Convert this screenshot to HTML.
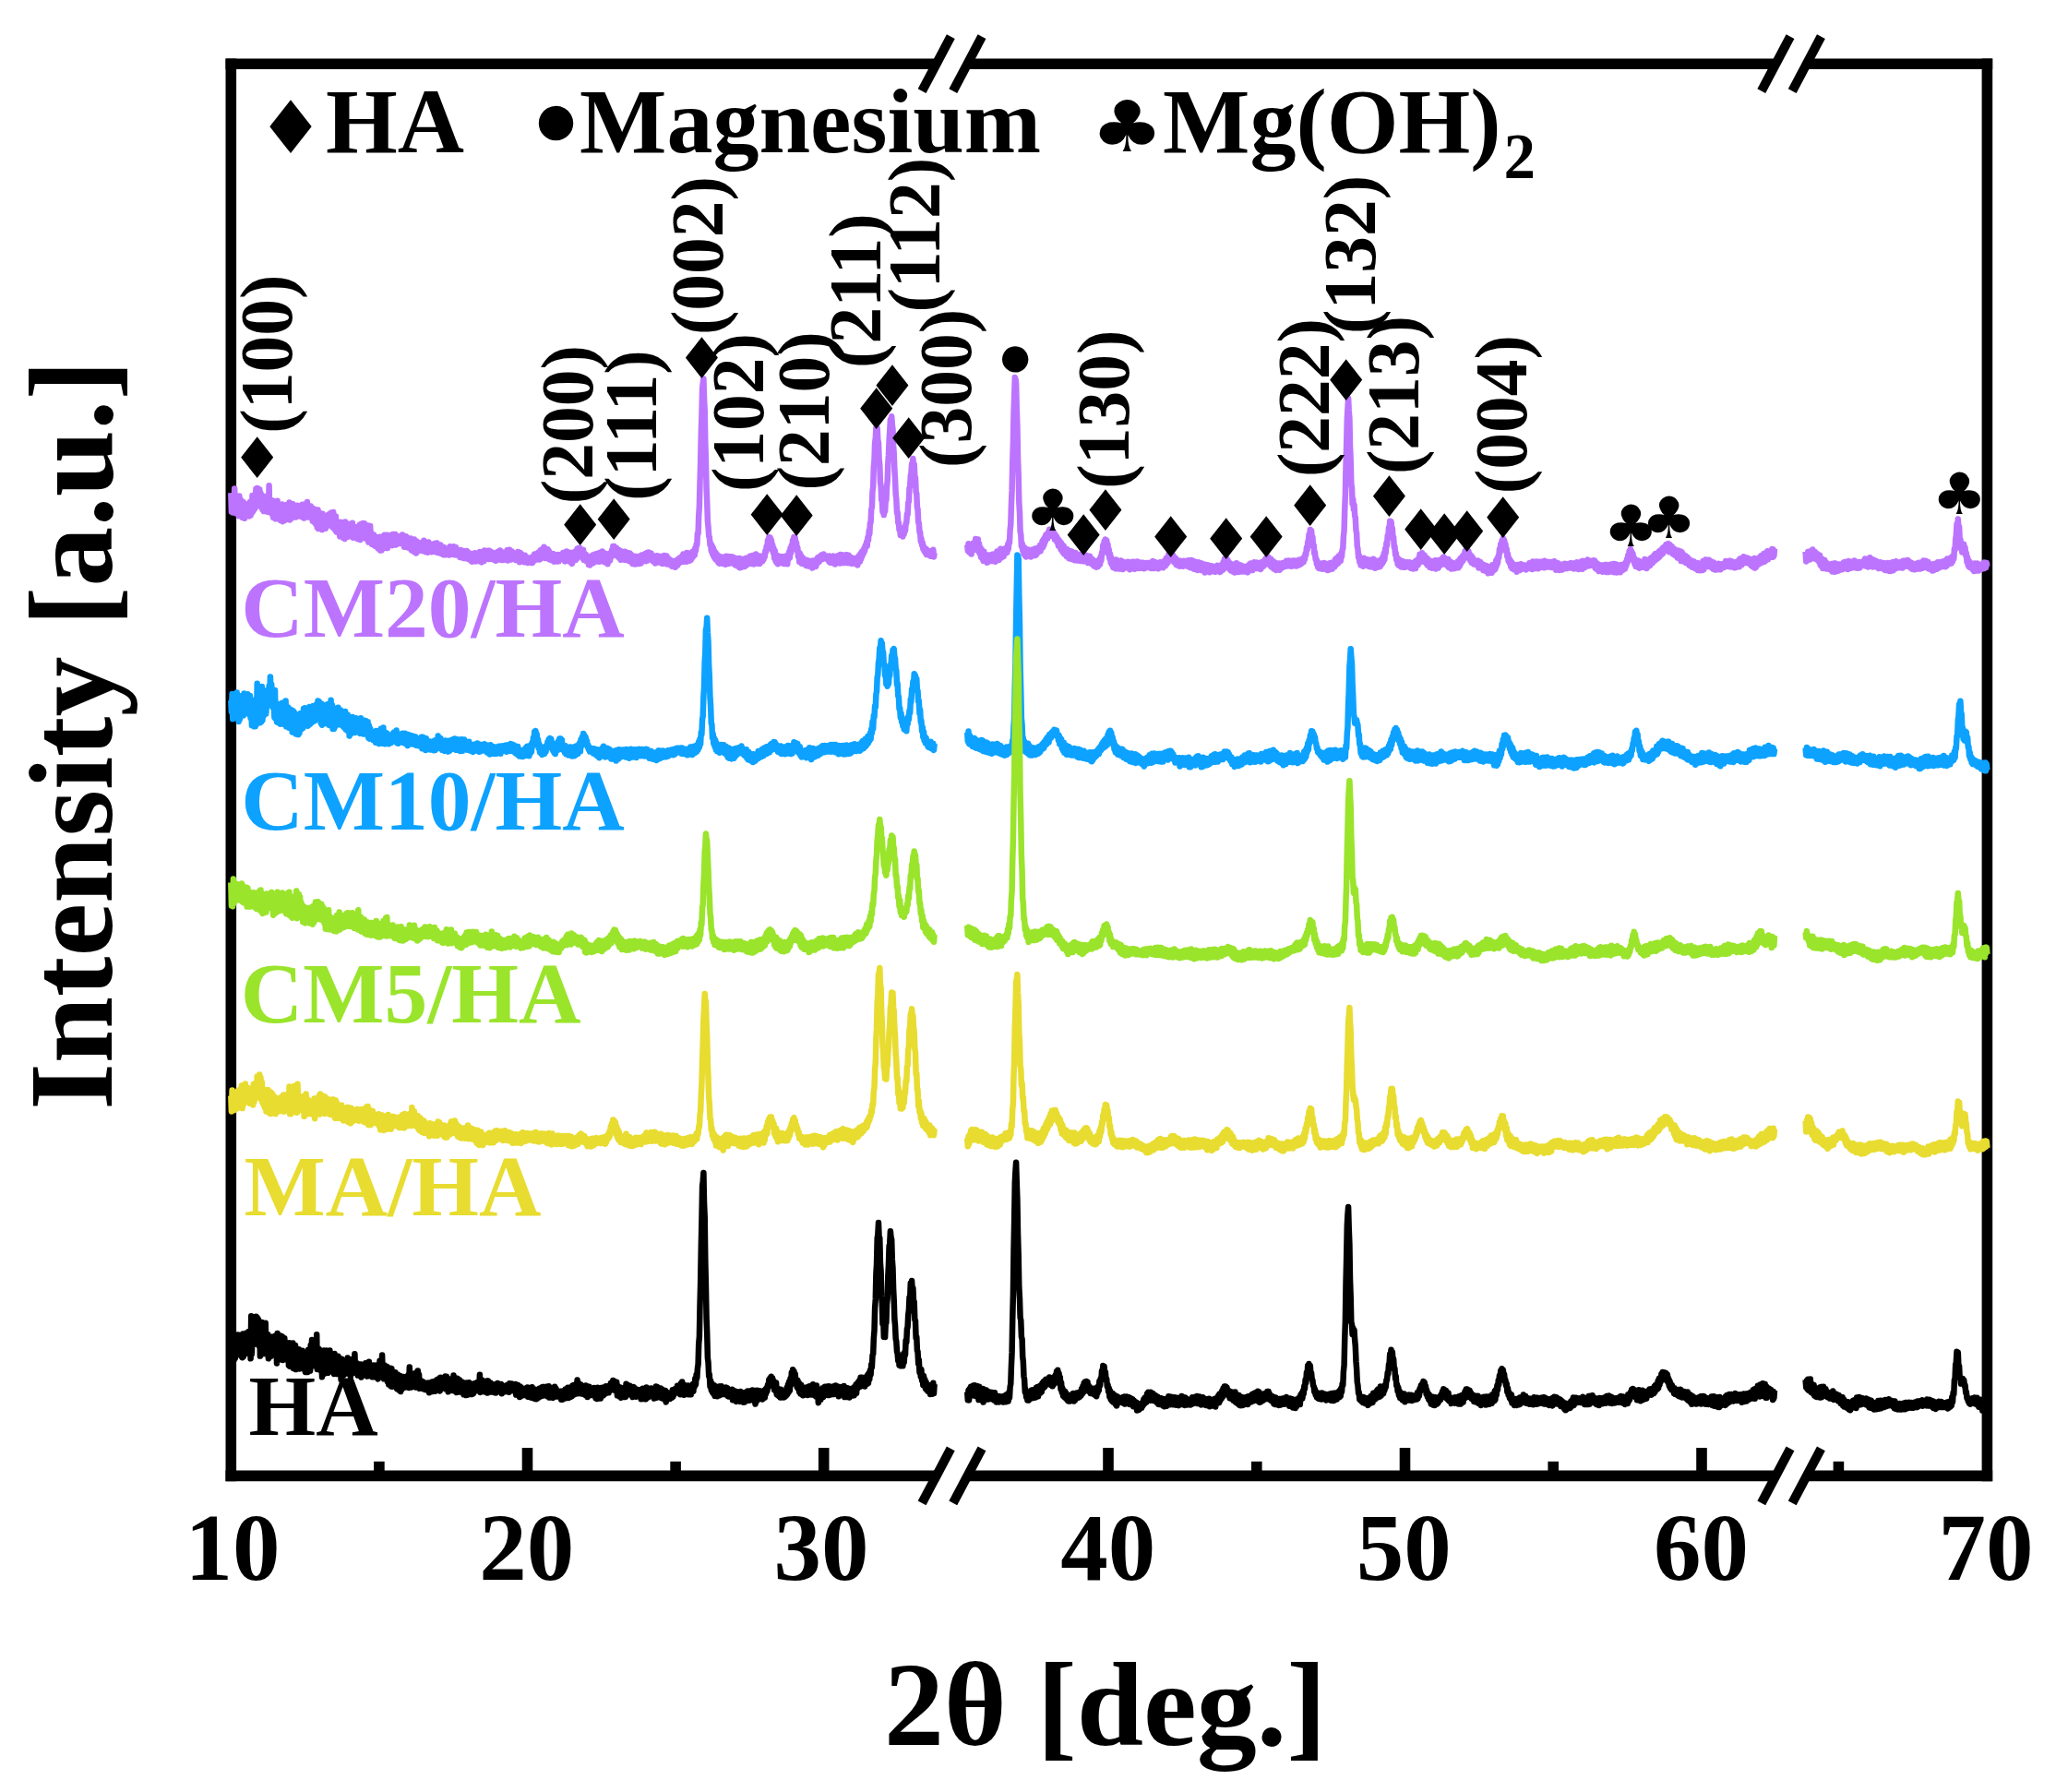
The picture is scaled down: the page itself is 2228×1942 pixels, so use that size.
<!DOCTYPE html>
<html lang="en">
<head>
<meta charset="utf-8">
<title>XRD patterns</title>
<style>html,body{margin:0;padding:0;background:#fff}svg{display:block}</style>
</head>
<body>
<svg width="2228" height="1942" viewBox="0 0 2228 1942">
<rect x="0" y="0" width="2228" height="1942" fill="#ffffff"/>
<g stroke="#000" stroke-width="11.6" fill="none" stroke-linecap="butt">
<line x1="244.5" y1="69.2" x2="1014.7" y2="69.2"/><line x1="1048.4" y1="69.2" x2="1924.4" y2="69.2"/><line x1="1957.8" y1="69.2" x2="2159.2" y2="69.2"/>
<line x1="244.5" y1="1599.4" x2="1014.7" y2="1599.4"/><line x1="1048.4" y1="1599.4" x2="1924.4" y2="1599.4"/><line x1="1957.8" y1="1599.4" x2="2159.2" y2="1599.4"/>
<line x1="250.3" y1="63.4" x2="250.3" y2="1605.2"/>
<line x1="2153.4" y1="63.4" x2="2153.4" y2="1605.2"/>
<line x1="571.5" y1="1599.4" x2="571.5" y2="1569.0"/>
<line x1="892.7" y1="1599.4" x2="892.7" y2="1569.0"/>
<line x1="1201.0" y1="1599.4" x2="1201.0" y2="1569.0"/>
<line x1="1522.5" y1="1599.4" x2="1522.5" y2="1569.0"/>
<line x1="1844.0" y1="1599.4" x2="1844.0" y2="1569.0"/>
<line x1="410.9" y1="1599.4" x2="410.9" y2="1583.8"/>
<line x1="732.1" y1="1599.4" x2="732.1" y2="1583.8"/>
<line x1="1361.8" y1="1599.4" x2="1361.8" y2="1583.8"/>
<line x1="1683.2" y1="1599.4" x2="1683.2" y2="1583.8"/>
<line x1="1992.4" y1="1599.4" x2="1992.4" y2="1583.8"/>
</g>
<g stroke="#000" stroke-width="10" fill="none" stroke-linecap="butt">
<line x1="999.1" y1="98.7" x2="1030.3" y2="39.7"/>
<line x1="1032.8" y1="98.7" x2="1064.0" y2="39.7"/>
<line x1="1908.8" y1="98.7" x2="1940.0" y2="39.7"/>
<line x1="1942.2" y1="98.7" x2="1973.4" y2="39.7"/>
<line x1="999.1" y1="1628.9" x2="1030.3" y2="1569.9"/>
<line x1="1032.8" y1="1628.9" x2="1064.0" y2="1569.9"/>
<line x1="1908.8" y1="1628.9" x2="1940.0" y2="1569.9"/>
<line x1="1942.2" y1="1628.9" x2="1973.4" y2="1569.9"/>
</g>
<path d="M250.3,534.2 250.9,554.7 251.6,537.0 252.2,555.4 252.9,537.9 253.5,555.2 254.2,529.5 254.8,554.5 255.5,539.7 256.1,556.3 256.7,539.9 257.4,556.3 258.0,540.1 258.7,559.2 259.3,537.5 260.0,559.0 260.6,541.2 261.3,557.4 261.9,543.4 262.6,560.8 263.2,543.8 263.8,560.5 264.5,545.3 265.1,561.8 265.8,547.8 266.4,558.2 267.1,547.4 267.7,558.7 268.4,548.3 269.0,556.4 269.6,546.1 270.3,559.4 270.9,544.1 271.6,558.6 272.2,546.9 272.9,555.9 273.5,537.1 274.2,554.0 274.8,541.0 275.5,552.2 276.1,538.2 276.7,550.4 277.4,529.8 278.0,545.8 278.7,529.1 279.3,541.3 280.0,529.7 280.6,546.1 281.3,530.6 281.9,547.6 282.5,534.5 283.2,549.9 283.8,536.9 284.5,552.3 285.1,537.4 285.8,554.0 286.4,538.8 287.1,551.7 287.7,538.5 288.4,551.9 289.0,541.0 289.6,554.6 290.3,537.7 290.9,555.0 291.6,526.3 292.2,553.1 292.9,541.2 293.5,555.6 294.2,545.3 294.8,557.0 295.4,542.5 296.1,560.9 296.7,547.1 297.4,559.2 298.0,544.3 298.7,562.3 299.3,546.5 300.0,559.5 300.6,542.8 301.2,561.9 301.9,548.2 302.5,561.8 303.2,547.9 303.8,564.0 304.5,552.2 305.1,563.7 305.8,546.4 306.4,565.2 307.1,551.5 307.7,564.4 308.3,549.9 309.0,563.7 309.6,547.3 310.3,561.0 310.9,548.1 311.6,560.3 312.2,546.7 312.9,560.7 313.5,544.5 314.1,563.4 314.8,547.4 315.4,562.0 316.1,547.1 316.7,557.9 317.4,546.3 318.0,560.6 318.7,551.1 319.3,558.2 320.0,547.9 320.6,560.6 321.2,550.1 321.9,558.9 322.5,547.7 323.2,559.4 323.8,549.5 324.5,559.3 325.1,548.4 325.8,559.0 326.4,548.8 327.0,560.0 327.7,546.7 328.3,560.6 329.0,546.8 329.6,561.6 330.3,546.8 330.9,559.1 331.6,547.3 332.2,559.9 332.9,544.0 333.5,560.6 334.1,551.1 334.8,560.5 335.4,551.2 336.1,558.9 336.7,548.6 337.4,560.4 338.0,550.8 338.7,564.5 339.3,551.0 339.9,564.8 340.6,552.9 341.2,566.5 341.9,552.3 342.5,568.4 343.2,552.8 343.8,571.7 344.5,552.6 345.1,573.1 345.7,555.3 346.4,573.1 347.0,556.3 347.7,572.3 348.3,557.9 349.0,574.1 349.6,556.8 350.3,572.7 350.9,559.2 351.6,570.8 352.2,561.7 352.8,572.7 353.5,561.2 354.1,569.5 354.8,559.3 355.4,568.4 356.1,557.6 356.7,569.4 357.4,557.8 358.0,568.9 358.6,555.8 359.3,569.8 359.9,557.8 360.6,571.7 361.2,555.1 361.9,572.7 362.5,559.2 363.2,574.3 363.8,559.5 364.5,576.4 365.1,567.5 365.7,575.6 366.4,567.1 367.0,577.5 367.7,565.8 368.3,581.4 369.0,567.9 369.6,580.6 370.3,566.1 370.9,581.6 371.5,567.4 372.2,583.2 372.8,567.5 373.5,583.9 374.1,565.6 374.8,580.8 375.4,568.1 376.1,582.1 376.7,569.8 377.4,581.7 378.0,567.8 378.6,579.7 379.3,570.8 379.9,579.1 380.6,567.9 381.2,580.3 381.9,566.7 382.5,582.7 383.2,573.8 383.8,581.8 384.4,574.9 385.1,581.9 385.7,572.4 386.4,583.4 387.0,571.0 387.7,584.1 388.3,571.1 389.0,584.1 389.6,568.9 390.2,585.0 390.9,568.1 391.5,581.2 392.2,567.5 392.8,581.3 393.5,567.1 394.1,581.1 394.8,567.2 395.4,583.5 396.1,569.1 396.7,583.0 397.3,570.1 398.0,583.9 398.6,569.4 399.3,587.5 399.9,574.1 400.6,584.7 401.2,570.0 401.9,588.4 402.5,577.8 403.1,589.8 403.8,580.0 404.4,587.9 405.1,579.5 405.7,591.0 406.4,583.9 407.0,592.0 407.7,584.0 408.3,590.2 409.0,582.3 409.6,594.4 410.2,584.6 410.9,592.9 411.5,581.8 412.2,596.5 412.8,583.5 413.5,596.4 414.1,585.5 414.8,594.6 415.4,581.1 416.0,594.0 416.7,579.7 417.3,590.3 418.0,581.0 418.6,589.2 419.3,579.7 419.9,594.1 420.6,581.0 421.2,590.5 421.8,580.2 422.5,590.7 423.1,579.9 423.8,588.3 424.4,581.4 425.1,591.2 425.7,579.1 426.4,589.4 427.0,584.4 427.7,590.3 428.3,579.1 428.9,590.5 429.6,581.7 430.2,589.8 430.9,581.1 431.5,588.9 432.2,581.4 432.8,587.6 433.5,582.6 434.1,589.0 434.7,581.6 435.4,588.9 436.0,579.4 436.7,587.1 437.3,580.8 438.0,592.7 438.6,583.6 439.3,591.3 439.9,581.2 440.6,591.5 441.2,582.6 441.8,593.2 442.5,584.0 443.1,593.8 443.8,585.2 444.4,591.6 445.1,583.5 445.7,596.2 446.4,587.3 447.0,596.9 447.6,586.8 448.3,597.7 448.9,584.5 449.6,596.4 450.2,588.3 450.9,599.6 451.5,586.5 452.2,598.1 452.8,588.2 453.5,597.1 454.1,590.0 454.7,596.4 455.4,589.8 456.0,596.5 456.7,587.9 457.3,596.9 458.0,587.8 458.6,595.2 459.3,585.7 459.9,595.4 460.5,588.0 461.2,598.2 461.8,587.6 462.5,595.6 463.1,588.1 463.8,598.7 464.4,587.5 465.1,596.7 465.7,590.4 466.3,596.8 467.0,590.6 467.6,598.3 468.3,590.1 468.9,597.2 469.6,590.8 470.2,596.5 470.9,589.0 471.5,598.1 472.2,589.3 472.8,597.2 473.4,588.4 474.1,599.1 474.7,590.5 475.4,598.3 476.0,590.3 476.7,597.9 477.3,590.6 478.0,600.0 478.6,593.8 479.2,599.9 479.9,592.7 480.5,601.3 481.2,593.0 481.8,599.5 482.5,594.5 483.1,601.2 483.8,596.0 484.4,601.0 485.1,594.5 485.7,600.8 486.3,596.7 487.0,601.5 487.6,592.3 488.3,600.9 488.9,593.9 489.6,600.8 490.2,593.7 490.9,600.4 491.5,592.2 492.1,601.2 492.8,592.9 493.4,599.4 494.1,592.9 494.7,601.5 495.4,596.4 496.0,601.3 496.7,596.4 497.3,601.9 498.0,596.5 498.6,604.1 499.2,596.1 499.9,603.9 500.5,598.0 501.2,604.5 501.8,596.9 502.5,604.9 503.1,597.4 503.8,604.4 504.4,598.2 505.0,604.5 505.7,597.1 506.3,605.5 507.0,598.1 507.6,605.9 508.3,600.1 508.9,604.6 509.6,599.9 510.2,607.5 510.8,600.1 511.5,608.8 512.1,601.4 512.8,606.4 513.4,601.7 514.1,607.5 514.7,599.2 515.4,608.5 516.0,602.5 516.7,606.9 517.3,602.5 517.9,608.1 518.6,601.9 519.2,607.1 519.9,597.9 520.5,607.6 521.2,600.4 521.8,609.4 522.5,598.9 523.1,608.6 523.7,598.7 524.4,608.0 525.0,596.6 525.7,605.8 526.3,598.1 527.0,605.3 527.6,598.1 528.3,604.8 528.9,596.7 529.6,606.1 530.2,596.8 530.8,604.5 531.5,599.1 532.1,605.8 532.8,598.2 533.4,605.8 534.1,598.8 534.7,606.5 535.4,599.6 536.0,605.1 536.6,600.0 537.3,607.7 537.9,599.7 538.6,606.1 539.2,598.0 539.9,606.6 540.5,599.6 541.2,604.9 541.8,596.6 542.5,605.8 543.1,597.8 543.7,607.0 544.4,599.3 545.0,606.9 545.7,600.3 546.3,606.7 547.0,598.8 547.6,605.7 548.3,598.5 548.9,606.3 549.5,596.2 550.2,607.5 550.8,597.7 551.5,605.2 552.1,595.8 552.8,604.3 553.4,597.3 554.1,606.4 554.7,597.4 555.3,605.5 556.0,599.1 556.6,605.2 557.3,600.2 557.9,605.8 558.6,600.5 559.2,607.1 559.9,599.5 560.5,607.3 561.2,598.1 561.8,607.1 562.4,598.6 563.1,609.2 563.7,599.1 564.4,606.0 565.0,600.3 565.7,607.2 566.3,602.0 567.0,607.2 567.6,602.2 568.2,609.2 568.9,601.8 569.5,608.3 570.2,603.1 570.8,609.4 571.5,605.3 572.1,610.1 572.8,605.4 573.4,608.6 574.1,604.9 574.7,608.2 575.3,605.3 576.0,609.9 576.6,603.5 577.3,609.9 577.9,603.8 578.6,607.7 579.2,600.4 579.9,606.5 580.5,600.7 581.1,606.4 581.8,600.7 582.4,606.4 583.1,598.8 583.7,604.9 584.4,598.7 585.0,606.4 585.7,596.2 586.3,603.4 587.0,595.6 587.6,602.8 588.2,596.7 588.9,602.3 589.5,592.8 590.2,604.9 590.8,594.4 591.5,604.4 592.1,595.8 592.8,604.9 593.4,595.3 594.0,604.7 594.7,596.7 595.3,606.4 596.0,599.9 596.6,605.8 597.3,599.5 597.9,607.2 598.6,601.5 599.2,607.8 599.8,600.3 600.5,608.7 601.1,602.5 601.8,607.4 602.4,601.5 603.1,605.9 603.7,601.3 604.4,608.6 605.0,600.9 605.7,608.2 606.3,602.2 606.9,605.9 607.6,601.3 608.2,605.9 608.9,600.6 609.5,605.8 610.2,599.1 610.8,605.7 611.5,598.7 612.1,608.4 612.7,598.7 613.4,606.6 614.0,597.6 614.7,607.7 615.3,598.5 616.0,608.2 616.6,599.6 617.3,608.2 617.9,598.8 618.6,609.2 619.2,599.9 619.8,610.9 620.5,599.2 621.1,608.3 621.8,598.7 622.4,607.3 623.1,597.7 623.7,607.1 624.4,596.9 625.0,605.5 625.6,594.7 626.3,603.4 626.9,594.0 627.6,601.5 628.2,593.7 628.9,602.9 629.5,596.9 630.2,602.9 630.8,595.6 631.5,605.0 632.1,596.1 632.7,606.8 633.4,600.2 634.0,606.0 634.7,600.5 635.3,608.1 636.0,602.4 636.6,609.0 637.3,604.5 637.9,612.0 638.5,603.6 639.2,612.5 639.8,602.9 640.5,610.4 641.1,603.6 641.8,610.6 642.4,601.5 643.1,610.1 643.7,602.6 644.3,607.8 645.0,600.6 645.6,608.4 646.3,600.3 646.9,606.7 647.6,599.8 648.2,608.4 648.9,599.8 649.5,608.8 650.2,598.8 650.8,606.3 651.4,599.3 652.1,607.3 652.7,597.5 653.4,607.5 654.0,599.0 654.7,608.9 655.3,599.7 656.0,609.6 656.6,599.9 657.2,608.9 657.9,601.0 658.5,611.2 659.2,602.5 659.8,608.2 660.5,600.7 661.1,607.4 661.8,599.0 662.4,603.6 663.1,596.0 663.7,601.5 664.3,591.9 665.0,599.4 665.6,592.1 666.3,597.8 666.9,593.6 667.6,602.1 668.2,594.0 668.9,602.4 669.5,597.2 670.1,603.8 670.8,596.1 671.4,605.0 672.1,597.0 672.7,606.8 673.4,597.5 674.0,606.2 674.7,599.7 675.3,605.1 675.9,599.4 676.6,606.7 677.2,597.8 677.9,605.7 678.5,599.1 679.2,607.1 679.8,599.0 680.5,606.9 681.1,600.5 681.8,607.9 682.4,599.5 683.0,608.5 683.7,600.8 684.3,609.5 685.0,602.5 685.6,611.0 686.3,603.3 686.9,611.3 687.6,602.8 688.2,611.4 688.8,603.5 689.5,611.3 690.1,604.1 690.8,611.0 691.4,603.0 692.1,611.1 692.7,604.3 693.4,608.7 694.0,602.7 694.7,610.4 695.3,601.5 695.9,606.4 696.6,602.0 697.2,607.0 697.9,601.4 698.5,606.0 699.2,600.1 699.8,608.2 700.5,599.5 701.1,607.7 701.7,598.8 702.4,605.0 703.0,598.5 703.7,604.1 704.3,600.1 705.0,606.4 705.6,599.5 706.3,605.8 706.9,601.5 707.6,608.2 708.2,602.5 708.8,608.6 709.5,602.7 710.1,610.4 710.8,602.5 711.4,609.7 712.1,602.3 712.7,609.2 713.4,602.9 714.0,609.5 714.6,602.7 715.3,609.7 715.9,604.8 716.6,609.6 717.2,603.1 717.9,610.9 718.5,604.3 719.2,610.8 719.8,602.0 720.4,609.6 721.1,603.0 721.7,610.1 722.4,602.5 723.0,611.5 723.7,604.3 724.3,609.5 725.0,606.0 725.6,610.2 726.3,606.5 726.9,612.3 727.5,608.3 728.2,613.7 728.8,608.9 729.5,612.5 730.1,608.1 730.8,614.2 731.4,608.5 732.1,614.8 732.7,607.4 733.3,613.1 734.0,606.5 734.6,612.1 735.3,606.0 735.9,610.3 736.6,604.4 737.2,608.8 737.9,604.5 738.5,609.0 739.2,602.5 739.8,608.5 740.4,600.5 741.1,608.8 741.7,602.2 742.4,608.2 743.0,600.5 743.7,608.8 744.3,599.1 745.0,608.3 745.6,599.3 746.2,607.1 746.9,601.0 747.5,607.8 748.2,599.8 748.8,606.9 749.5,599.6 750.1,604.7 750.8,597.5 751.4,603.0 752.1,597.9 752.7,601.9 753.3,594.0 754.0,596.9 754.6,589.9 755.3,590.7 755.9,578.2 756.6,578.2 757.2,559.1 757.9,548.3 758.5,522.9 759.1,503.6 759.8,469.0 760.4,450.8 761.1,420.8 761.7,415.5 762.4,410.4 763.0,431.0 763.7,444.9 764.3,479.0 764.9,498.8 765.6,529.6 766.2,543.2 766.9,564.9 767.5,570.6 768.2,580.8 768.8,582.0 769.5,590.6 770.1,588.5 770.8,597.1 771.4,591.1 772.0,600.0 772.7,593.5 773.3,602.8 774.0,596.6 774.6,605.0 775.3,598.4 775.9,606.6 776.6,599.9 777.2,607.8 777.8,602.2 778.5,609.6 779.1,603.2 779.8,610.7 780.4,603.0 781.1,609.5 781.7,604.6 782.4,610.6 783.0,603.9 783.7,611.0 784.3,603.7 784.9,609.4 785.6,604.1 786.2,611.7 786.9,602.7 787.5,610.1 788.2,603.1 788.8,609.5 789.5,603.0 790.1,610.8 790.7,603.9 791.4,608.3 792.0,603.3 792.7,609.9 793.3,603.5 794.0,610.3 794.6,603.8 795.3,610.4 795.9,604.5 796.6,612.2 797.2,604.9 797.8,612.5 798.5,606.9 799.1,613.4 799.8,605.7 800.4,611.7 801.1,604.9 801.7,615.2 802.4,605.4 803.0,615.1 803.6,606.2 804.3,614.3 804.9,605.9 805.6,613.8 806.2,606.5 806.9,614.0 807.5,605.5 808.2,613.0 808.8,604.7 809.4,612.1 810.1,606.0 810.7,610.1 811.4,604.8 812.0,610.1 812.7,602.7 813.3,610.8 814.0,603.6 814.6,611.0 815.3,602.0 815.9,611.0 816.5,602.9 817.2,611.4 817.8,601.8 818.5,609.6 819.1,600.6 819.8,610.6 820.4,602.7 821.1,610.7 821.7,604.0 822.3,609.7 823.0,602.5 823.6,610.9 824.3,604.1 824.9,609.0 825.6,605.2 826.2,608.4 826.9,604.2 827.5,606.6 828.2,601.2 828.8,603.5 829.4,597.0 830.1,598.3 830.7,591.9 831.4,594.1 832.0,585.4 832.7,590.8 833.3,582.1 834.0,588.8 834.6,582.5 835.2,590.4 835.9,585.2 836.5,595.5 837.2,590.2 837.8,598.8 838.5,594.1 839.1,604.9 839.8,597.1 840.4,607.7 841.1,601.0 841.7,609.7 842.3,602.1 843.0,611.3 843.6,602.8 844.3,610.2 844.9,603.4 845.6,609.7 846.2,603.1 846.9,609.8 847.5,605.5 848.1,610.1 848.8,603.3 849.4,611.0 850.1,604.3 850.7,611.1 851.4,602.7 852.0,610.7 852.7,602.2 853.3,611.3 853.9,601.6 854.6,606.0 855.2,598.0 855.9,604.4 856.5,593.9 857.2,599.2 857.8,590.9 858.5,594.0 859.1,585.4 859.8,589.5 860.4,582.1 861.0,590.0 861.7,583.0 862.3,592.4 863.0,587.6 863.6,596.2 864.3,593.2 864.9,603.1 865.6,598.2 866.2,608.9 866.8,599.8 867.5,609.5 868.1,602.3 868.8,610.7 869.4,603.9 870.1,610.6 870.7,605.3 871.4,611.2 872.0,606.2 872.7,612.2 873.3,608.0 873.9,613.1 874.6,607.1 875.2,612.3 875.9,609.5 876.5,613.6 877.2,607.8 877.8,612.9 878.5,609.4 879.1,612.4 879.7,609.5 880.4,615.5 881.0,607.6 881.7,613.3 882.3,608.4 883.0,612.5 883.6,607.6 884.3,614.0 884.9,606.3 885.5,609.3 886.2,604.3 886.8,609.9 887.5,603.8 888.1,608.4 888.8,602.7 889.4,606.5 890.1,601.5 890.7,606.2 891.4,601.7 892.0,605.5 892.6,600.5 893.3,605.0 893.9,602.1 894.6,605.4 895.2,602.8 895.9,605.5 896.5,602.6 897.2,606.6 897.8,604.0 898.4,608.5 899.1,602.6 899.7,609.7 900.4,603.6 901.0,608.4 901.7,603.6 902.3,610.1 903.0,602.6 903.6,610.2 904.3,603.2 904.9,611.6 905.5,604.4 906.2,610.3 906.8,605.2 907.5,610.0 908.1,602.2 908.8,609.2 909.4,602.9 910.1,610.5 910.7,600.9 911.3,610.2 912.0,602.2 912.6,609.9 913.3,601.5 913.9,608.8 914.6,601.7 915.2,610.0 915.9,601.4 916.5,609.1 917.2,601.2 917.8,609.3 918.4,602.2 919.1,610.3 919.7,601.8 920.4,609.8 921.0,603.6 921.7,610.0 922.3,606.0 923.0,610.9 923.6,604.5 924.2,610.6 924.9,606.0 925.5,610.5 926.2,606.7 926.8,610.8 927.5,605.0 928.1,611.5 928.8,605.8 929.4,612.4 930.0,603.3 930.7,609.2 931.3,601.7 932.0,608.6 932.6,600.1 933.3,605.6 933.9,597.9 934.6,602.3 935.2,596.7 935.9,599.7 936.5,593.9 937.1,597.0 937.8,591.1 938.4,593.1 939.1,587.3 939.7,592.1 940.4,582.4 941.0,585.6 941.7,575.2 942.3,578.8 942.9,566.8 943.6,566.2 944.2,552.1 944.9,549.7 945.5,532.6 946.2,527.5 946.8,506.3 947.5,498.6 948.1,479.7 948.8,475.1 949.4,463.8 950.0,465.9 950.7,463.8 951.3,476.4 952.0,480.1 952.6,497.3 953.3,503.6 953.9,522.0 954.6,527.2 955.2,542.1 955.8,542.3 956.5,554.6 957.1,552.6 957.8,558.1 958.4,551.3 959.1,554.3 959.7,542.9 960.4,542.2 961.0,528.4 961.7,521.0 962.3,502.4 962.9,494.0 963.6,477.1 964.2,467.6 964.9,454.8 965.5,455.9 966.2,451.2 966.8,460.0 967.5,465.1 968.1,482.9 968.7,491.2 969.4,509.8 970.0,518.2 970.7,536.3 971.3,540.6 972.0,555.8 972.6,554.9 973.3,566.6 973.9,566.3 974.5,574.0 975.2,571.3 975.8,580.1 976.5,575.3 977.1,580.2 977.8,576.3 978.4,581.5 979.1,573.6 979.7,579.0 980.4,571.2 981.0,575.3 981.6,567.1 982.3,566.8 982.9,557.2 983.6,557.6 984.2,545.0 984.9,543.3 985.5,528.9 986.2,527.1 986.8,515.5 987.4,513.2 988.1,502.8 988.7,504.9 989.4,497.1 990.0,505.8 990.7,503.0 991.3,516.3 992.0,517.6 992.6,532.9 993.3,535.1 993.9,550.0 994.5,551.5 995.2,566.3 995.8,566.4 996.5,576.8 997.1,576.6 997.8,586.5 998.4,583.5 999.1,590.8 999.7,587.6 1000.3,594.6 1001.0,591.8 1001.6,597.2 1002.3,594.4 1002.9,599.2 1003.6,594.6 1004.2,601.1 1004.9,597.1 1005.5,600.4 1006.2,596.7 1006.8,601.3 1007.4,598.9 1008.1,602.8 1008.7,597.3 1009.4,602.8 1010.0,599.2 1010.7,602.1 1011.3,595.8 1012.0,603.5 1012.6,599.4 M1048.2,590.4 1048.8,596.8 1049.5,589.2 1050.1,598.4 1050.8,590.5 1051.4,599.3 1052.1,591.3 1052.7,600.6 1053.4,590.5 1054.0,596.9 1054.7,588.6 1055.3,596.0 1055.9,587.9 1056.6,594.9 1057.2,584.0 1057.9,593.0 1058.5,584.5 1059.2,593.2 1059.8,584.4 1060.5,597.9 1061.1,589.3 1061.7,599.9 1062.4,593.5 1063.0,603.8 1063.7,595.2 1064.3,605.1 1065.0,597.2 1065.6,607.8 1066.3,597.8 1066.9,607.7 1067.6,600.5 1068.2,607.4 1068.8,601.8 1069.5,609.8 1070.1,601.5 1070.8,608.6 1071.4,602.7 1072.1,608.5 1072.7,601.5 1073.4,606.9 1074.0,602.2 1074.7,608.1 1075.3,600.8 1075.9,608.0 1076.6,600.9 1077.2,607.5 1077.9,600.3 1078.5,608.7 1079.2,599.9 1079.8,606.4 1080.5,597.6 1081.1,605.7 1081.7,597.7 1082.4,607.0 1083.0,597.8 1083.7,603.7 1084.3,594.7 1085.0,604.5 1085.6,595.7 1086.3,603.5 1086.9,595.3 1087.6,603.0 1088.2,595.3 1088.8,600.3 1089.5,594.2 1090.1,599.6 1090.8,593.4 1091.4,599.1 1092.1,590.0 1092.7,595.2 1093.4,587.0 1094.0,588.3 1094.6,574.3 1095.3,568.5 1095.9,547.3 1096.6,531.4 1097.2,502.7 1097.9,479.5 1098.5,447.3 1099.2,428.4 1099.8,409.1 1100.5,411.0 1101.1,414.7 1101.7,440.9 1102.4,460.8 1103.0,494.6 1103.7,515.6 1104.3,544.2 1105.0,555.1 1105.6,575.8 1106.3,579.6 1106.9,591.9 1107.6,588.6 1108.2,596.4 1108.8,593.3 1109.5,600.2 1110.1,593.3 1110.8,602.0 1111.4,595.6 1112.1,603.5 1112.7,596.7 1113.4,603.0 1114.0,595.4 1114.6,602.1 1115.3,596.6 1115.9,601.8 1116.6,596.4 1117.2,603.5 1117.9,596.0 1118.5,601.6 1119.2,595.4 1119.8,602.1 1120.5,596.0 1121.1,600.3 1121.7,594.6 1122.4,602.1 1123.0,594.8 1123.7,600.3 1124.3,593.9 1125.0,598.6 1125.6,593.7 1126.3,597.0 1126.9,590.9 1127.6,597.2 1128.2,590.0 1128.8,594.4 1129.5,586.6 1130.1,593.2 1130.8,584.4 1131.4,590.7 1132.1,582.4 1132.7,587.3 1133.4,579.5 1134.0,584.0 1134.6,579.3 1135.3,583.6 1135.9,576.7 1136.6,581.4 1137.2,573.7 1137.9,580.0 1138.5,573.9 1139.2,580.3 1139.8,574.9 1140.5,579.2 1141.1,576.1 1141.7,581.7 1142.4,577.4 1143.0,584.8 1143.7,579.5 1144.3,585.8 1145.0,581.1 1145.6,587.7 1146.3,583.7 1146.9,591.6 1147.6,585.0 1148.2,592.5 1148.8,586.7 1149.5,595.2 1150.1,588.6 1150.8,597.1 1151.4,590.5 1152.1,599.0 1152.7,591.8 1153.4,600.6 1154.0,594.2 1154.6,601.1 1155.3,595.5 1155.9,602.9 1156.6,595.2 1157.2,602.8 1157.9,596.6 1158.5,605.3 1159.2,598.0 1159.8,605.5 1160.5,597.3 1161.1,606.1 1161.7,597.8 1162.4,606.2 1163.0,600.5 1163.7,606.7 1164.3,600.5 1165.0,607.3 1165.6,599.0 1166.3,605.4 1166.9,600.2 1167.5,607.5 1168.2,601.7 1168.8,607.6 1169.5,601.0 1170.1,607.1 1170.8,603.0 1171.4,608.1 1172.1,602.5 1172.7,608.1 1173.4,602.2 1174.0,608.3 1174.6,603.2 1175.3,607.7 1175.9,603.9 1176.6,608.4 1177.2,601.8 1177.9,608.6 1178.5,602.2 1179.2,610.1 1179.8,602.9 1180.5,609.3 1181.1,602.7 1181.7,610.1 1182.4,605.2 1183.0,611.1 1183.7,605.8 1184.3,611.8 1185.0,607.1 1185.6,613.5 1186.3,607.8 1186.9,613.2 1187.5,608.5 1188.2,614.7 1188.8,608.3 1189.5,614.3 1190.1,609.7 1190.8,612.9 1191.4,605.9 1192.1,611.4 1192.7,603.5 1193.4,607.4 1194.0,598.9 1194.6,600.6 1195.3,590.8 1195.9,595.5 1196.6,586.8 1197.2,590.4 1197.9,584.6 1198.5,590.3 1199.2,585.4 1199.8,593.9 1200.5,589.7 1201.1,600.4 1201.7,595.1 1202.4,605.3 1203.0,600.1 1203.7,610.1 1204.3,604.2 1205.0,611.9 1205.6,606.0 1206.3,614.9 1206.9,607.7 1207.5,615.2 1208.2,607.8 1208.8,616.3 1209.5,606.6 1210.1,616.3 1210.8,607.5 1211.4,616.3 1212.1,608.0 1212.7,616.4 1213.4,608.9 1214.0,616.3 1214.6,607.6 1215.3,616.5 1215.9,608.7 1216.6,616.9 1217.2,608.7 1217.9,616.0 1218.5,609.2 1219.2,615.2 1219.8,609.9 1220.5,615.4 1221.1,610.0 1221.7,614.8 1222.4,608.7 1223.0,615.8 1223.7,610.4 1224.3,617.3 1225.0,609.2 1225.6,615.4 1226.3,609.8 1226.9,615.4 1227.5,608.8 1228.2,615.7 1228.8,608.9 1229.5,616.7 1230.1,609.0 1230.8,615.4 1231.4,608.7 1232.1,615.8 1232.7,608.5 1233.4,615.7 1234.0,609.3 1234.6,615.9 1235.3,610.4 1235.9,614.2 1236.6,609.6 1237.2,615.7 1237.9,610.5 1238.5,615.1 1239.2,609.8 1239.8,616.2 1240.4,611.3 1241.1,615.2 1241.7,610.3 1242.4,615.0 1243.0,610.0 1243.7,615.1 1244.3,610.5 1245.0,613.8 1245.6,610.4 1246.3,614.7 1246.9,609.6 1247.5,616.0 1248.2,610.6 1248.8,615.1 1249.5,608.1 1250.1,616.0 1250.8,610.5 1251.4,615.5 1252.1,609.2 1252.7,614.2 1253.4,611.2 1254.0,613.8 1254.6,610.8 1255.3,616.3 1255.9,610.1 1256.6,615.0 1257.2,609.2 1257.9,614.6 1258.5,610.2 1259.2,614.5 1259.8,610.4 1260.4,615.2 1261.1,608.4 1261.7,612.2 1262.4,607.6 1263.0,613.2 1263.7,605.1 1264.3,611.1 1265.0,604.6 1265.6,610.0 1266.3,601.1 1266.9,606.8 1267.5,599.4 1268.2,604.8 1268.8,599.3 1269.5,605.6 1270.1,599.3 1270.8,605.0 1271.4,601.8 1272.1,608.9 1272.7,604.7 1273.4,609.2 1274.0,604.8 1274.6,611.9 1275.3,606.4 1275.9,612.2 1276.6,607.2 1277.2,613.3 1277.9,608.4 1278.5,613.7 1279.2,607.7 1279.8,612.9 1280.4,608.3 1281.1,612.6 1281.7,608.7 1282.4,613.7 1283.0,607.8 1283.7,611.6 1284.3,608.4 1285.0,612.6 1285.6,608.2 1286.3,612.9 1286.9,607.5 1287.5,614.0 1288.2,607.3 1288.8,614.1 1289.5,607.7 1290.1,615.3 1290.8,607.0 1291.4,614.6 1292.1,607.4 1292.7,615.6 1293.4,608.7 1294.0,616.8 1294.6,608.6 1295.3,617.0 1295.9,609.5 1296.6,617.1 1297.2,609.4 1297.9,617.9 1298.5,609.2 1299.2,617.1 1299.8,610.9 1300.4,617.6 1301.1,610.2 1301.7,618.1 1302.4,610.4 1303.0,617.9 1303.7,611.5 1304.3,618.4 1305.0,611.8 1305.6,620.4 1306.3,612.0 1306.9,618.8 1307.5,612.0 1308.2,618.4 1308.8,612.2 1309.5,617.7 1310.1,613.4 1310.8,620.2 1311.4,613.1 1312.1,618.7 1312.7,614.1 1313.3,619.2 1314.0,613.4 1314.6,617.3 1315.3,615.0 1315.9,617.9 1316.6,614.6 1317.2,619.8 1317.9,614.4 1318.5,617.9 1319.2,612.8 1319.8,617.7 1320.4,614.4 1321.1,618.8 1321.7,614.2 1322.4,620.1 1323.0,612.6 1323.7,617.3 1324.3,612.4 1325.0,618.0 1325.6,609.2 1326.3,616.2 1326.9,605.7 1327.5,614.7 1328.2,606.0 1328.8,615.1 1329.5,605.8 1330.1,614.8 1330.8,607.6 1331.4,615.3 1332.1,609.6 1332.7,617.1 1333.3,611.2 1334.0,618.5 1334.6,611.3 1335.3,618.5 1335.9,612.7 1336.6,619.8 1337.2,611.5 1337.9,620.4 1338.5,612.2 1339.2,620.1 1339.8,610.3 1340.4,619.8 1341.1,611.2 1341.7,619.9 1342.4,612.4 1343.0,619.8 1343.7,612.4 1344.3,618.3 1345.0,612.5 1345.6,619.6 1346.3,613.2 1346.9,618.4 1347.5,613.9 1348.2,619.4 1348.8,614.6 1349.5,619.1 1350.1,614.0 1350.8,619.7 1351.4,613.4 1352.1,620.3 1352.7,612.9 1353.3,618.5 1354.0,611.5 1354.6,616.9 1355.3,610.6 1355.9,617.9 1356.6,610.8 1357.2,618.1 1357.9,611.1 1358.5,616.9 1359.2,609.2 1359.8,615.5 1360.4,610.2 1361.1,615.2 1361.7,609.4 1362.4,615.9 1363.0,610.9 1363.7,616.0 1364.3,610.2 1365.0,616.3 1365.6,609.8 1366.3,617.0 1366.9,610.4 1367.5,614.7 1368.2,608.8 1368.8,614.0 1369.5,608.4 1370.1,612.8 1370.8,606.5 1371.4,610.4 1372.1,604.8 1372.7,611.1 1373.3,605.2 1374.0,609.4 1374.6,603.4 1375.3,611.7 1375.9,606.1 1376.6,613.0 1377.2,605.7 1377.9,614.4 1378.5,607.6 1379.2,614.5 1379.8,608.3 1380.4,616.4 1381.1,610.0 1381.7,615.8 1382.4,609.7 1383.0,617.9 1383.7,610.9 1384.3,617.5 1385.0,612.4 1385.6,617.6 1386.2,610.6 1386.9,617.7 1387.5,611.9 1388.2,616.0 1388.8,610.7 1389.5,615.4 1390.1,610.0 1390.8,614.4 1391.4,609.9 1392.1,614.1 1392.7,609.7 1393.3,613.8 1394.0,607.8 1394.6,613.5 1395.3,609.1 1395.9,612.6 1396.6,607.5 1397.2,612.8 1397.9,608.2 1398.5,613.6 1399.2,607.7 1399.8,613.7 1400.4,608.1 1401.1,613.1 1401.7,607.5 1402.4,613.2 1403.0,607.7 1403.7,613.1 1404.3,607.7 1405.0,613.4 1405.6,607.4 1406.2,612.3 1406.9,607.6 1407.5,612.6 1408.2,606.5 1408.8,610.9 1409.5,607.1 1410.1,611.2 1410.8,607.4 1411.4,609.9 1412.1,605.1 1412.7,609.2 1413.3,603.4 1414.0,606.3 1414.6,600.0 1415.3,601.2 1415.9,593.5 1416.6,596.0 1417.2,587.2 1417.9,587.2 1418.5,579.2 1419.2,582.8 1419.8,574.1 1420.4,579.9 1421.1,574.9 1421.7,584.4 1422.4,581.6 1423.0,592.4 1423.7,590.5 1424.3,600.1 1425.0,598.4 1425.6,606.0 1426.2,605.2 1426.9,611.0 1427.5,607.8 1428.2,614.8 1428.8,610.6 1429.5,615.9 1430.1,610.7 1430.8,616.2 1431.4,612.6 1432.1,616.4 1432.7,610.4 1433.3,616.7 1434.0,612.0 1434.6,616.0 1435.3,610.1 1435.9,616.4 1436.6,611.7 1437.2,616.7 1437.9,611.8 1438.5,618.0 1439.2,612.3 1439.8,618.0 1440.4,610.5 1441.1,616.3 1441.7,610.0 1442.4,615.9 1443.0,609.7 1443.7,616.7 1444.3,610.0 1445.0,614.5 1445.6,609.2 1446.2,614.6 1446.9,606.3 1447.5,612.4 1448.2,605.0 1448.8,611.4 1449.5,604.3 1450.1,610.5 1450.8,602.6 1451.4,607.9 1452.1,601.7 1452.7,608.0 1453.3,599.8 1454.0,603.6 1454.6,595.9 1455.3,594.5 1455.9,581.5 1456.6,574.8 1457.2,552.8 1457.9,535.6 1458.5,505.4 1459.1,483.6 1459.8,454.0 1460.4,444.3 1461.1,431.7 1461.7,444.4 1462.4,453.2 1463.0,482.6 1463.7,498.9 1464.3,523.9 1465.0,529.0 1465.6,546.2 1466.2,540.8 1466.9,552.0 1467.5,547.0 1468.2,559.0 1468.8,561.0 1469.5,575.0 1470.1,577.3 1470.8,592.3 1471.4,594.5 1472.1,604.0 1472.7,601.4 1473.3,609.0 1474.0,604.7 1474.6,612.6 1475.3,605.8 1475.9,612.8 1476.6,606.7 1477.2,613.7 1477.9,604.8 1478.5,612.9 1479.1,606.7 1479.8,612.1 1480.4,606.7 1481.1,612.2 1481.7,606.2 1482.4,613.1 1483.0,606.8 1483.7,614.0 1484.3,606.9 1485.0,614.2 1485.6,606.9 1486.2,614.0 1486.9,606.6 1487.5,614.5 1488.2,605.8 1488.8,615.1 1489.5,606.9 1490.1,615.7 1490.8,607.7 1491.4,614.9 1492.1,608.4 1492.7,614.8 1493.3,607.7 1494.0,614.6 1494.6,608.3 1495.3,614.1 1495.9,608.0 1496.6,612.6 1497.2,605.8 1497.9,610.9 1498.5,603.5 1499.1,609.0 1499.8,599.4 1500.4,606.2 1501.1,594.8 1501.7,599.5 1502.4,588.6 1503.0,591.4 1503.7,580.4 1504.3,582.9 1505.0,571.8 1505.6,574.2 1506.2,564.8 1506.9,570.5 1507.5,565.1 1508.2,573.0 1508.8,572.4 1509.5,583.3 1510.1,582.0 1510.8,593.1 1511.4,592.0 1512.1,601.2 1512.7,599.1 1513.3,606.7 1514.0,603.8 1514.6,611.3 1515.3,605.7 1515.9,612.7 1516.6,606.3 1517.2,613.0 1517.9,608.2 1518.5,614.4 1519.1,608.3 1519.8,614.1 1520.4,608.2 1521.1,614.7 1521.7,610.0 1522.4,614.7 1523.0,609.2 1523.7,614.6 1524.3,609.9 1525.0,613.5 1525.6,609.2 1526.2,613.9 1526.9,610.3 1527.5,613.6 1528.2,609.4 1528.8,615.7 1529.5,610.6 1530.1,615.3 1530.8,611.3 1531.4,616.4 1532.0,610.1 1532.7,615.8 1533.3,608.7 1534.0,616.0 1534.6,607.5 1535.3,613.0 1535.9,607.5 1536.6,612.4 1537.2,605.3 1537.9,609.2 1538.5,600.8 1539.1,609.2 1539.8,601.0 1540.4,605.9 1541.1,599.1 1541.7,606.2 1542.4,601.3 1543.0,608.0 1543.7,601.4 1544.3,609.2 1545.0,603.8 1545.6,610.7 1546.2,604.7 1546.9,612.4 1547.5,605.9 1548.2,612.7 1548.8,608.6 1549.5,614.8 1550.1,607.8 1550.8,613.5 1551.4,608.7 1552.0,615.8 1552.7,608.4 1553.3,615.6 1554.0,609.7 1554.6,615.8 1555.3,607.3 1555.9,616.5 1556.6,607.3 1557.2,615.3 1557.9,608.2 1558.5,615.5 1559.1,607.3 1559.8,613.6 1560.4,607.0 1561.1,612.4 1561.7,606.2 1562.4,612.1 1563.0,605.0 1563.7,609.5 1564.3,603.5 1565.0,610.4 1565.6,604.5 1566.2,611.7 1566.9,605.5 1567.5,611.2 1568.2,606.1 1568.8,613.5 1569.5,606.1 1570.1,615.1 1570.8,609.3 1571.4,615.0 1572.0,608.7 1572.7,616.4 1573.3,610.0 1574.0,615.5 1574.6,610.3 1575.3,616.2 1575.9,610.6 1576.6,616.1 1577.2,611.5 1577.9,614.7 1578.5,610.3 1579.1,614.9 1579.8,608.3 1580.4,615.2 1581.1,607.7 1581.7,613.9 1582.4,605.3 1583.0,611.2 1583.7,604.4 1584.3,609.0 1585.0,602.6 1585.6,607.4 1586.2,601.2 1586.9,604.1 1587.5,597.6 1588.2,603.7 1588.8,595.5 1589.5,602.9 1590.1,595.8 1590.8,601.5 1591.4,597.1 1592.0,605.6 1592.7,600.4 1593.3,607.4 1594.0,601.8 1594.6,609.8 1595.3,603.2 1595.9,610.0 1596.6,605.1 1597.2,611.5 1597.9,607.7 1598.5,611.2 1599.1,607.7 1599.8,612.1 1600.4,607.9 1601.1,612.8 1601.7,607.5 1602.4,615.5 1603.0,608.6 1603.7,615.1 1604.3,608.9 1604.9,615.7 1605.6,611.5 1606.2,615.0 1606.9,611.4 1607.5,618.1 1608.2,612.1 1608.8,618.2 1609.5,612.8 1610.1,619.0 1610.8,613.1 1611.4,619.4 1612.0,616.0 1612.7,621.2 1613.3,615.2 1614.0,620.6 1614.6,614.1 1615.3,620.7 1615.9,613.6 1616.6,620.7 1617.2,612.2 1617.9,618.7 1618.5,612.7 1619.1,618.0 1619.8,612.0 1620.4,617.0 1621.1,607.8 1621.7,613.8 1622.4,605.6 1623.0,610.4 1623.7,602.4 1624.3,604.5 1624.9,595.3 1625.6,598.4 1626.2,589.8 1626.9,592.1 1627.5,586.0 1628.2,588.9 1628.8,583.2 1629.5,588.9 1630.1,585.2 1630.8,590.8 1631.4,589.4 1632.0,597.3 1632.7,594.7 1633.3,603.0 1634.0,600.2 1634.6,608.0 1635.3,604.7 1635.9,610.1 1636.6,607.0 1637.2,614.1 1637.9,608.6 1638.5,616.0 1639.1,610.5 1639.8,616.7 1640.4,612.3 1641.1,617.2 1641.7,612.8 1642.4,617.3 1643.0,612.2 1643.7,619.7 1644.3,612.1 1644.9,617.3 1645.6,612.0 1646.2,616.8 1646.9,611.8 1647.5,617.9 1648.2,611.2 1648.8,617.1 1649.5,612.2 1650.1,616.4 1650.8,612.5 1651.4,615.4 1652.0,612.5 1652.7,615.9 1653.3,612.7 1654.0,617.4 1654.6,613.8 1655.3,616.3 1655.9,613.0 1656.6,615.6 1657.2,610.3 1657.9,616.0 1658.5,611.1 1659.1,615.5 1659.8,609.5 1660.4,617.0 1661.1,608.6 1661.7,614.1 1662.4,609.5 1663.0,616.1 1663.7,610.2 1664.3,614.6 1664.9,608.6 1665.6,615.8 1666.2,609.2 1666.9,616.3 1667.5,608.8 1668.2,615.1 1668.8,608.9 1669.5,614.9 1670.1,609.1 1670.8,614.7 1671.4,608.5 1672.0,613.1 1672.7,608.9 1673.3,615.3 1674.0,607.7 1674.6,613.7 1675.3,608.8 1675.9,613.8 1676.6,609.4 1677.2,614.6 1677.8,608.9 1678.5,614.2 1679.1,609.1 1679.8,613.1 1680.4,609.5 1681.1,614.9 1681.7,609.0 1682.4,614.5 1683.0,609.0 1683.7,615.1 1684.3,608.3 1684.9,615.8 1685.6,609.9 1686.2,617.8 1686.9,611.7 1687.5,616.9 1688.2,610.0 1688.8,617.4 1689.5,612.1 1690.1,618.0 1690.8,611.9 1691.4,617.2 1692.0,613.0 1692.7,617.6 1693.3,611.5 1694.0,616.6 1694.6,612.9 1695.3,616.4 1695.9,610.7 1696.6,615.8 1697.2,612.0 1697.8,615.9 1698.5,611.7 1699.1,615.9 1699.8,610.9 1700.4,615.3 1701.1,611.3 1701.7,614.7 1702.4,610.1 1703.0,615.6 1703.7,610.6 1704.3,615.2 1704.9,610.5 1705.6,616.4 1706.2,610.5 1706.9,616.1 1707.5,610.4 1708.2,616.1 1708.8,609.2 1709.5,616.5 1710.1,609.8 1710.8,617.0 1711.4,610.0 1712.0,616.5 1712.7,609.3 1713.3,616.5 1714.0,608.3 1714.6,616.7 1715.3,607.7 1715.9,613.4 1716.6,608.9 1717.2,615.1 1717.8,608.7 1718.5,613.7 1719.1,607.8 1719.8,612.8 1720.4,606.6 1721.1,613.4 1721.7,607.6 1722.4,612.6 1723.0,609.2 1723.7,612.9 1724.3,607.8 1724.9,612.2 1725.6,607.9 1726.2,612.0 1726.9,607.4 1727.5,613.6 1728.2,607.6 1728.8,615.8 1729.5,609.5 1730.1,616.7 1730.8,610.4 1731.4,617.5 1732.0,612.0 1732.7,619.1 1733.3,612.0 1734.0,618.5 1734.6,612.6 1735.3,619.0 1735.9,612.4 1736.6,619.7 1737.2,613.1 1737.8,619.0 1738.5,612.3 1739.1,618.8 1739.8,612.0 1740.4,620.1 1741.1,611.9 1741.7,618.6 1742.4,613.1 1743.0,620.1 1743.7,612.9 1744.3,618.8 1744.9,612.1 1745.6,618.3 1746.2,611.5 1746.9,617.4 1747.5,611.9 1748.2,619.9 1748.8,610.9 1749.5,620.2 1750.1,612.5 1750.7,620.1 1751.4,611.6 1752.0,620.5 1752.7,613.7 1753.3,619.1 1754.0,613.1 1754.6,618.9 1755.3,613.3 1755.9,620.2 1756.6,612.0 1757.2,618.9 1757.8,612.5 1758.5,618.0 1759.1,612.8 1759.8,617.3 1760.4,611.0 1761.1,616.2 1761.7,609.4 1762.4,612.9 1763.0,606.1 1763.7,609.5 1764.3,601.8 1764.9,604.8 1765.6,597.3 1766.2,601.2 1766.9,594.9 1767.5,599.6 1768.2,597.5 1768.8,603.3 1769.5,599.9 1770.1,607.8 1770.7,603.9 1771.4,611.3 1772.0,607.1 1772.7,613.8 1773.3,607.2 1774.0,614.3 1774.6,607.2 1775.3,614.6 1775.9,607.7 1776.6,615.7 1777.2,608.6 1777.8,613.4 1778.5,609.3 1779.1,614.5 1779.8,609.8 1780.4,614.8 1781.1,608.4 1781.7,613.4 1782.4,606.1 1783.0,613.0 1783.7,608.4 1784.3,616.0 1784.9,606.8 1785.6,613.8 1786.2,608.2 1786.9,613.7 1787.5,607.4 1788.2,613.1 1788.8,604.9 1789.5,610.2 1790.1,603.9 1790.7,610.3 1791.4,603.2 1792.0,608.8 1792.7,601.4 1793.3,607.8 1794.0,600.0 1794.6,606.2 1795.3,599.8 1795.9,605.7 1796.6,599.3 1797.2,604.7 1797.8,597.8 1798.5,603.1 1799.1,596.5 1799.8,601.7 1800.4,596.0 1801.1,600.7 1801.7,594.0 1802.4,599.3 1803.0,593.0 1803.7,597.1 1804.3,592.0 1804.9,595.5 1805.6,590.0 1806.2,596.0 1806.9,590.1 1807.5,594.7 1808.2,589.1 1808.8,598.3 1809.5,590.3 1810.1,596.4 1810.7,591.2 1811.4,597.5 1812.0,592.3 1812.7,600.3 1813.3,595.0 1814.0,600.9 1814.6,595.0 1815.3,602.0 1815.9,597.0 1816.6,602.7 1817.2,597.2 1817.8,604.4 1818.5,596.6 1819.1,605.1 1819.8,597.2 1820.4,605.3 1821.1,597.5 1821.7,608.1 1822.4,598.2 1823.0,604.7 1823.6,599.7 1824.3,607.9 1824.9,601.9 1825.6,609.0 1826.2,602.1 1826.9,610.0 1827.5,603.6 1828.2,608.7 1828.8,603.7 1829.5,611.1 1830.1,606.8 1830.7,612.8 1831.4,606.4 1832.0,612.6 1832.7,608.6 1833.3,614.3 1834.0,609.1 1834.6,614.8 1835.3,608.2 1835.9,614.1 1836.6,610.4 1837.2,616.1 1837.8,609.9 1838.5,616.0 1839.1,609.9 1839.8,618.0 1840.4,610.2 1841.1,616.2 1841.7,610.9 1842.4,618.3 1843.0,611.3 1843.6,616.7 1844.3,610.5 1844.9,617.9 1845.6,608.1 1846.2,617.2 1846.9,607.8 1847.5,615.1 1848.2,606.6 1848.8,614.1 1849.5,606.8 1850.1,613.5 1850.7,608.2 1851.4,613.4 1852.0,606.7 1852.7,614.2 1853.3,607.7 1854.0,614.2 1854.6,608.6 1855.3,615.4 1855.9,609.0 1856.6,616.8 1857.2,609.6 1857.8,615.6 1858.5,610.8 1859.1,617.6 1859.8,611.2 1860.4,617.5 1861.1,611.7 1861.7,616.3 1862.4,610.8 1863.0,616.7 1863.6,611.7 1864.3,617.3 1864.9,611.4 1865.6,615.0 1866.2,611.6 1866.9,615.4 1867.5,610.8 1868.2,615.1 1868.8,610.6 1869.5,614.1 1870.1,608.1 1870.7,613.2 1871.4,608.9 1872.0,613.7 1872.7,609.5 1873.3,611.9 1874.0,607.7 1874.6,614.2 1875.3,607.8 1875.9,614.5 1876.6,608.2 1877.2,614.2 1877.8,609.4 1878.5,613.7 1879.1,609.6 1879.8,615.3 1880.4,609.2 1881.1,615.0 1881.7,609.9 1882.4,614.5 1883.0,608.8 1883.6,613.3 1884.3,606.9 1884.9,614.3 1885.6,605.6 1886.2,612.4 1886.9,605.2 1887.5,612.1 1888.2,604.4 1888.8,611.0 1889.5,603.2 1890.1,610.3 1890.7,603.9 1891.4,609.7 1892.0,605.2 1892.7,609.2 1893.3,604.5 1894.0,610.0 1894.6,606.3 1895.3,610.5 1895.9,605.6 1896.5,611.5 1897.2,606.7 1897.8,612.9 1898.5,607.8 1899.1,614.0 1899.8,607.6 1900.4,614.7 1901.1,605.0 1901.7,615.6 1902.4,608.4 1903.0,614.4 1903.6,605.9 1904.3,612.6 1904.9,605.5 1905.6,612.1 1906.2,604.4 1906.9,610.7 1907.5,603.3 1908.2,610.2 1908.8,602.1 1909.5,609.7 1910.1,602.2 1910.7,607.9 1911.4,600.0 1912.0,608.7 1912.7,599.5 1913.3,607.6 1914.0,599.8 1914.6,605.8 1915.3,597.2 1915.9,606.3 1916.5,598.2 1917.2,604.3 1917.8,597.3 1918.5,603.9 1919.1,597.4 1919.8,602.3 1920.4,595.1 1921.1,603.8 1921.7,595.6 1922.4,602.5 1923.0,594.8 M1956.6,597.8 1957.2,608.4 1957.9,600.5 1958.5,605.9 1959.2,597.9 1959.8,606.6 1960.5,599.7 1961.1,606.6 1961.8,597.2 1962.4,605.7 1963.1,597.2 1963.7,604.5 1964.3,595.6 1965.0,604.5 1965.6,600.5 1966.3,604.7 1966.9,598.0 1967.6,605.6 1968.2,599.6 1968.9,606.5 1969.5,600.2 1970.2,607.2 1970.8,602.1 1971.4,609.2 1972.1,601.8 1972.7,612.2 1973.4,605.1 1974.0,613.7 1974.7,605.8 1975.3,616.0 1976.0,607.5 1976.6,615.2 1977.2,607.1 1977.9,614.5 1978.5,609.1 1979.2,616.4 1979.8,610.3 1980.5,616.4 1981.1,612.6 1981.8,616.5 1982.4,612.6 1983.1,617.2 1983.7,613.1 1984.3,617.6 1985.0,611.0 1985.6,619.4 1986.3,613.2 1986.9,619.4 1987.6,610.6 1988.2,619.7 1988.9,610.6 1989.5,618.7 1990.2,611.8 1990.8,618.9 1991.4,613.1 1992.1,618.7 1992.7,611.5 1993.4,617.5 1994.0,611.6 1994.7,617.5 1995.3,611.6 1996.0,617.3 1996.6,611.2 1997.3,616.7 1997.9,609.6 1998.5,615.6 1999.2,609.1 1999.8,614.1 2000.5,609.0 2001.1,614.0 2001.8,608.8 2002.4,616.9 2003.1,607.9 2003.7,615.5 2004.3,608.9 2005.0,614.9 2005.6,608.8 2006.3,615.8 2006.9,609.8 2007.6,615.0 2008.2,609.0 2008.9,615.1 2009.5,607.6 2010.2,615.2 2010.8,608.6 2011.4,613.7 2012.1,610.4 2012.7,615.7 2013.4,609.3 2014.0,614.9 2014.7,608.9 2015.3,615.4 2016.0,609.4 2016.6,613.6 2017.3,609.0 2017.9,612.9 2018.5,608.4 2019.2,613.1 2019.8,608.7 2020.5,612.5 2021.1,605.5 2021.8,613.5 2022.4,607.3 2023.1,612.8 2023.7,606.2 2024.4,614.5 2025.0,605.5 2025.6,613.1 2026.3,604.3 2026.9,613.5 2027.6,605.7 2028.2,613.0 2028.9,607.5 2029.5,614.6 2030.2,606.4 2030.8,612.3 2031.4,608.5 2032.1,613.3 2032.7,607.7 2033.4,614.5 2034.0,608.6 2034.7,614.1 2035.3,610.1 2036.0,616.1 2036.6,609.5 2037.3,615.5 2037.9,609.3 2038.5,615.5 2039.2,610.2 2039.8,615.6 2040.5,611.0 2041.1,616.4 2041.8,610.1 2042.4,617.8 2043.1,611.6 2043.7,618.1 2044.4,611.3 2045.0,617.0 2045.6,609.9 2046.3,618.6 2046.9,611.9 2047.6,618.8 2048.2,611.6 2048.9,618.9 2049.5,610.1 2050.2,616.9 2050.8,609.2 2051.5,618.3 2052.1,610.8 2052.7,616.9 2053.4,608.9 2054.0,616.2 2054.7,608.3 2055.3,615.2 2056.0,611.2 2056.6,614.0 2057.3,611.3 2057.9,615.2 2058.5,609.6 2059.2,614.2 2059.8,608.9 2060.5,614.7 2061.1,608.7 2061.8,615.6 2062.4,607.8 2063.1,613.0 2063.7,609.1 2064.4,613.9 2065.0,607.6 2065.6,613.2 2066.3,607.4 2066.9,613.4 2067.6,607.0 2068.2,613.9 2068.9,608.3 2069.5,614.5 2070.2,609.2 2070.8,615.7 2071.5,609.7 2072.1,616.8 2072.7,611.1 2073.4,615.5 2074.0,611.5 2074.7,617.3 2075.3,611.3 2076.0,617.0 2076.6,610.7 2077.3,616.5 2077.9,611.2 2078.6,615.8 2079.2,609.7 2079.8,616.6 2080.5,610.8 2081.1,616.6 2081.8,610.2 2082.4,615.3 2083.1,609.0 2083.7,615.7 2084.4,607.5 2085.0,614.3 2085.6,609.5 2086.3,614.7 2086.9,607.8 2087.6,613.8 2088.2,609.7 2088.9,615.7 2089.5,609.1 2090.2,616.5 2090.8,610.9 2091.5,616.0 2092.1,611.2 2092.7,617.2 2093.4,612.3 2094.0,618.4 2094.7,611.6 2095.3,618.3 2096.0,611.1 2096.6,617.2 2097.3,611.7 2097.9,616.3 2098.6,611.1 2099.2,616.7 2099.8,609.3 2100.5,615.5 2101.1,610.2 2101.8,615.2 2102.4,609.2 2103.1,614.3 2103.7,609.1 2104.4,613.8 2105.0,608.4 2105.7,613.9 2106.3,608.9 2106.9,614.0 2107.6,608.1 2108.2,614.3 2108.9,606.9 2109.5,613.2 2110.2,605.5 2110.8,612.0 2111.5,607.0 2112.1,610.8 2112.7,606.0 2113.4,610.8 2114.0,604.6 2114.7,610.5 2115.3,603.3 2116.0,608.5 2116.6,602.4 2117.3,605.5 2117.9,594.9 2118.6,596.2 2119.2,584.3 2119.8,580.2 2120.5,567.9 2121.1,570.7 2121.8,562.4 2122.4,571.9 2123.1,570.6 2123.7,584.6 2124.4,584.4 2125.0,594.5 2125.7,591.0 2126.3,598.4 2126.9,592.0 2127.6,596.4 2128.2,589.7 2128.9,597.2 2129.5,593.3 2130.2,602.1 2130.8,599.2 2131.5,609.1 2132.1,603.8 2132.8,612.8 2133.4,607.2 2134.0,614.6 2134.7,608.8 2135.3,615.3 2136.0,610.1 2136.6,615.6 2137.3,611.6 2137.9,617.1 2138.6,612.2 2139.2,618.9 2139.8,610.5 2140.5,618.3 2141.1,611.8 2141.8,618.5 2142.4,610.6 2143.1,618.5 2143.7,611.0 2144.4,618.4 2145.0,613.3 2145.7,617.3 2146.3,611.7 2146.9,617.1 2147.6,612.2 2148.2,616.5 2148.9,611.2 2149.5,615.1 2150.2,609.6 2150.8,615.9 2151.5,609.7 2152.1,615.1 2152.8,610.0 2153.4,613.7" fill="none" stroke="#BC74FF" stroke-width="6.5" stroke-linejoin="round" stroke-linecap="butt"/>
<path d="M250.3,759.2 250.9,771.7 251.6,752.1 252.2,779.1 252.9,756.3 253.5,778.4 254.2,759.5 254.8,777.8 255.5,756.4 256.1,777.5 256.7,750.4 257.4,777.4 258.0,753.8 258.7,781.9 259.3,759.3 260.0,779.2 260.6,754.4 261.3,773.9 261.9,759.7 262.6,775.7 263.2,762.8 263.8,775.3 264.5,751.5 265.1,773.4 265.8,754.9 266.4,769.7 267.1,754.2 267.7,769.6 268.4,752.3 269.0,770.9 269.6,760.0 270.3,774.6 270.9,753.9 271.6,778.1 272.2,760.9 272.9,786.2 273.5,761.7 274.2,777.1 274.8,762.2 275.5,787.3 276.1,763.8 276.7,787.1 277.4,757.5 278.0,785.0 278.7,740.8 279.3,779.5 280.0,761.0 280.6,779.9 281.3,756.5 281.9,783.3 282.5,749.8 283.2,782.1 283.8,743.9 284.5,780.5 285.1,756.8 285.8,775.7 286.4,748.3 287.1,773.2 287.7,759.3 288.4,773.5 289.0,754.4 289.6,766.2 290.3,748.5 290.9,761.3 291.6,743.6 292.2,754.0 292.9,733.4 293.5,753.8 294.2,741.7 294.8,760.8 295.4,750.6 296.1,767.3 296.7,761.7 297.4,777.5 298.0,748.1 298.7,778.6 299.3,763.5 300.0,782.4 300.6,768.5 301.2,782.9 301.9,763.0 302.5,778.8 303.2,765.3 303.8,784.7 304.5,764.9 305.1,783.9 305.8,761.8 306.4,783.0 307.1,762.8 307.7,785.0 308.3,763.4 309.0,783.1 309.6,759.6 310.3,787.3 310.9,767.1 311.6,787.6 312.2,766.4 312.9,788.7 313.5,771.3 314.1,787.6 314.8,768.8 315.4,788.0 316.1,772.2 316.7,793.4 317.4,770.2 318.0,793.3 318.7,771.7 319.3,793.3 320.0,775.0 320.6,795.5 321.2,776.9 321.9,795.4 322.5,775.3 323.2,796.1 323.8,778.8 324.5,794.3 325.1,773.2 325.8,789.4 326.4,775.5 327.0,790.0 327.7,773.4 328.3,789.0 329.0,767.9 329.6,783.6 330.3,767.2 330.9,785.9 331.6,768.2 332.2,785.1 332.9,773.4 333.5,786.7 334.1,769.9 334.8,785.6 335.4,766.0 336.1,784.5 336.7,769.5 337.4,783.3 338.0,768.6 338.7,779.8 339.3,765.1 339.9,781.9 340.6,766.9 341.2,781.1 341.9,765.5 342.5,779.6 343.2,763.0 343.8,776.7 344.5,759.5 345.1,774.6 345.7,760.3 346.4,778.4 347.0,763.2 347.7,783.6 348.3,762.6 349.0,785.7 349.6,764.8 350.3,780.4 350.9,765.0 351.6,782.6 352.2,764.2 352.8,784.1 353.5,767.1 354.1,782.0 354.8,763.3 355.4,782.3 356.1,763.6 356.7,786.0 357.4,763.4 358.0,784.7 358.6,758.8 359.3,785.8 359.9,764.0 360.6,790.0 361.2,769.2 361.9,789.8 362.5,769.4 363.2,787.5 363.8,768.4 364.5,785.3 365.1,767.6 365.7,783.2 366.4,766.7 367.0,785.3 367.7,771.1 368.3,783.6 369.0,769.4 369.6,784.8 370.3,771.1 370.9,786.0 371.5,777.8 372.2,787.9 372.8,771.7 373.5,788.9 374.1,771.0 374.8,790.7 375.4,774.8 376.1,791.5 376.7,774.5 377.4,790.0 378.0,777.7 378.6,797.5 379.3,780.7 379.9,793.0 380.6,777.8 381.2,794.6 381.9,776.9 382.5,793.2 383.2,781.9 383.8,790.4 384.4,780.3 385.1,793.9 385.7,778.3 386.4,791.8 387.0,781.1 387.7,792.2 388.3,781.2 389.0,793.0 389.6,783.6 390.2,794.9 390.9,778.2 391.5,791.6 392.2,781.2 392.8,792.1 393.5,780.6 394.1,795.5 394.8,781.7 395.4,794.3 396.1,781.1 396.7,795.4 397.3,782.7 398.0,794.2 398.6,782.3 399.3,799.6 399.9,786.2 400.6,800.7 401.2,789.4 401.9,800.5 402.5,792.2 403.1,800.5 403.8,793.3 404.4,802.0 405.1,793.9 405.7,802.7 406.4,793.1 407.0,804.7 407.7,792.0 408.3,802.3 409.0,792.8 409.6,804.6 410.2,792.1 410.9,806.0 411.5,791.7 412.2,803.7 412.8,789.8 413.5,805.0 414.1,791.6 414.8,805.7 415.4,788.4 416.0,803.9 416.7,793.8 417.3,806.2 418.0,794.1 418.6,805.4 419.3,794.8 419.9,805.6 420.6,797.1 421.2,806.3 421.8,797.0 422.5,803.1 423.1,796.7 423.8,805.0 424.4,796.3 425.1,800.7 425.7,794.9 426.4,803.2 427.0,793.6 427.7,802.0 428.3,794.3 428.9,803.3 429.6,791.6 430.2,805.0 430.9,796.4 431.5,805.8 432.2,795.8 432.8,804.2 433.5,796.7 434.1,803.4 434.7,796.1 435.4,803.4 436.0,794.8 436.7,804.9 437.3,796.5 438.0,805.0 438.6,794.7 439.3,805.7 439.9,796.3 440.6,806.8 441.2,795.7 441.8,808.1 442.5,796.2 443.1,806.1 443.8,798.2 444.4,805.9 445.1,797.0 445.7,806.0 446.4,798.3 447.0,806.4 447.6,797.7 448.3,806.0 448.9,799.7 449.6,806.9 450.2,798.6 450.9,807.8 451.5,799.9 452.2,807.9 452.8,800.6 453.5,808.2 454.1,800.8 454.7,807.4 455.4,801.6 456.0,806.8 456.7,798.7 457.3,811.2 458.0,798.8 458.6,810.8 459.3,799.6 459.9,811.6 460.5,801.3 461.2,813.0 461.8,800.2 462.5,811.7 463.1,802.7 463.8,809.1 464.4,803.2 465.1,811.2 465.7,803.4 466.3,812.5 467.0,803.8 467.6,812.6 468.3,804.4 468.9,812.8 469.6,804.6 470.2,813.2 470.9,802.6 471.5,813.0 472.2,802.6 472.8,811.9 473.4,801.5 474.1,811.1 474.7,797.6 475.4,809.9 476.0,800.0 476.7,810.5 477.3,800.0 478.0,809.9 478.6,802.4 479.2,812.8 479.9,803.3 480.5,812.1 481.2,803.4 481.8,813.9 482.5,802.4 483.1,813.8 483.8,802.7 484.4,812.4 485.1,804.1 485.7,814.5 486.3,804.3 487.0,813.9 487.6,802.6 488.3,811.4 488.9,803.6 489.6,811.9 490.2,801.7 490.9,810.2 491.5,801.0 492.1,811.6 492.8,800.4 493.4,812.4 494.1,801.4 494.7,812.8 495.4,801.2 496.0,811.5 496.7,802.0 497.3,811.5 498.0,801.6 498.6,813.9 499.2,803.7 499.9,811.7 500.5,801.3 501.2,813.7 501.8,802.7 502.5,812.7 503.1,801.6 503.8,812.1 504.4,804.9 505.0,812.4 505.7,803.8 506.3,812.5 507.0,804.9 507.6,813.1 508.3,803.8 508.9,812.3 509.6,806.1 510.2,813.8 510.8,806.7 511.5,813.9 512.1,808.1 512.8,814.9 513.4,807.7 514.1,813.0 514.7,806.6 515.4,813.6 516.0,806.8 516.7,812.3 517.3,805.4 517.9,813.1 518.6,806.6 519.2,814.7 519.9,806.8 520.5,814.4 521.2,807.0 521.8,813.7 522.5,809.1 523.1,812.1 523.7,808.2 524.4,813.1 525.0,806.2 525.7,812.4 526.3,808.0 527.0,814.7 527.6,807.6 528.3,815.6 528.9,808.2 529.6,815.7 530.2,808.7 530.8,817.6 531.5,807.3 532.1,816.9 532.8,808.8 533.4,814.9 534.1,811.0 534.7,816.5 535.4,809.3 536.0,817.0 536.6,809.8 537.3,816.8 537.9,810.1 538.6,816.8 539.2,809.8 539.9,815.3 540.5,808.7 541.2,815.0 541.8,808.9 542.5,816.8 543.1,808.5 543.7,814.3 544.4,808.5 545.0,813.2 545.7,809.0 546.3,813.4 547.0,807.9 547.6,813.2 548.3,807.6 548.9,814.8 549.5,807.4 550.2,814.0 550.8,809.7 551.5,812.8 552.1,806.9 552.8,814.0 553.4,806.1 554.1,813.4 554.7,806.4 555.3,813.8 556.0,807.3 556.6,814.3 557.3,807.5 557.9,815.6 558.6,810.1 559.2,816.8 559.9,809.6 560.5,817.0 561.2,809.1 561.8,818.5 562.4,812.1 563.1,819.6 563.7,812.7 564.4,819.5 565.0,813.5 565.7,819.8 566.3,813.5 567.0,819.9 567.6,813.4 568.2,818.7 568.9,811.6 569.5,819.1 570.2,810.1 570.8,818.1 571.5,808.7 572.1,818.0 572.8,809.5 573.4,819.3 574.1,809.5 574.7,816.2 575.3,807.3 576.0,814.6 576.6,805.1 577.3,808.8 577.9,799.5 578.6,803.8 579.2,792.9 579.9,797.3 580.5,792.1 581.1,798.4 581.8,795.6 582.4,806.3 583.1,801.3 583.7,810.8 584.4,806.1 585.0,815.3 585.7,810.5 586.3,816.3 587.0,812.4 587.6,818.0 588.2,809.8 588.9,816.7 589.5,811.1 590.2,817.0 590.8,809.4 591.5,814.9 592.1,808.0 592.8,811.1 593.4,803.9 594.0,806.5 594.7,801.3 595.3,805.6 596.0,799.9 596.6,805.8 597.3,800.6 597.9,810.8 598.6,804.8 599.2,813.3 599.8,808.7 600.5,815.7 601.1,807.7 601.8,817.1 602.4,808.4 603.1,814.1 603.7,805.5 604.4,812.9 605.0,803.2 605.7,808.8 606.3,800.5 606.9,807.6 607.6,800.5 608.2,808.9 608.9,801.8 609.5,812.4 610.2,807.5 610.8,813.2 611.5,807.7 612.1,815.8 612.7,808.3 613.4,817.3 614.0,809.7 614.7,816.1 615.3,811.2 616.0,818.5 616.6,810.7 617.3,817.7 617.9,809.6 618.6,818.0 619.2,810.2 619.8,819.5 620.5,809.9 621.1,818.2 621.8,809.5 622.4,819.3 623.1,810.1 623.7,818.2 624.4,808.4 625.0,816.1 625.6,809.2 626.3,816.7 626.9,807.3 627.6,814.9 628.2,805.0 628.9,814.3 629.5,801.4 630.2,808.4 630.8,798.7 631.5,804.9 632.1,794.9 632.7,803.2 633.4,796.7 634.0,802.7 634.7,798.8 635.3,806.6 636.0,802.6 636.6,809.3 637.3,807.1 637.9,812.0 638.5,809.5 639.2,814.6 639.8,810.4 640.5,814.0 641.1,810.9 641.8,815.3 642.4,811.5 643.1,816.6 643.7,811.2 644.3,816.7 645.0,811.8 645.6,817.6 646.3,812.9 646.9,818.8 647.6,812.2 648.2,819.8 648.9,813.3 649.5,821.3 650.2,813.6 650.8,818.1 651.4,812.1 652.1,819.3 652.7,810.7 653.4,818.9 654.0,808.7 654.7,818.0 655.3,810.6 656.0,820.4 656.6,811.1 657.2,820.1 657.9,810.7 658.5,819.5 659.2,812.5 659.8,818.9 660.5,812.0 661.1,820.7 661.8,814.1 662.4,822.4 663.1,815.1 663.7,822.5 664.3,814.3 665.0,821.7 665.6,813.7 666.3,822.1 666.9,815.8 667.6,824.6 668.2,812.9 668.9,822.6 669.5,814.0 670.1,822.6 670.8,812.2 671.4,821.0 672.1,814.1 672.7,820.6 673.4,813.3 674.0,819.4 674.7,812.4 675.3,818.0 675.9,813.4 676.6,818.9 677.2,812.5 677.9,820.4 678.5,812.0 679.2,819.7 679.8,813.1 680.5,821.0 681.1,812.8 681.8,821.7 682.4,813.4 683.0,820.2 683.7,811.7 684.3,820.6 685.0,812.7 685.6,820.4 686.3,812.6 686.9,819.3 687.6,812.2 688.2,819.3 688.8,812.5 689.5,820.9 690.1,812.7 690.8,819.2 691.4,812.1 692.1,818.7 692.7,811.7 693.4,817.9 694.0,812.7 694.7,819.2 695.3,812.1 695.9,817.2 696.6,812.1 697.2,818.2 697.9,812.5 698.5,819.6 699.2,812.1 699.8,819.1 700.5,811.8 701.1,819.4 701.7,812.3 702.4,820.3 703.0,813.8 703.7,821.7 704.3,814.6 705.0,822.0 705.6,814.0 706.3,821.8 706.9,815.5 707.6,822.8 708.2,815.5 708.8,822.4 709.5,816.0 710.1,823.3 710.8,816.8 711.4,824.0 712.1,815.1 712.7,823.0 713.4,813.4 714.0,820.8 714.6,813.5 715.3,821.9 715.9,814.3 716.6,821.0 717.2,816.0 717.9,820.9 718.5,813.6 719.2,819.3 719.8,816.1 720.4,819.5 721.1,814.4 721.7,820.3 722.4,814.4 723.0,819.2 723.7,813.2 724.3,819.4 725.0,813.7 725.6,818.2 726.3,813.0 726.9,817.5 727.5,812.6 728.2,818.0 728.8,812.6 729.5,818.2 730.1,812.0 730.8,818.0 731.4,811.7 732.1,816.9 732.7,811.1 733.3,815.3 734.0,810.8 734.6,815.2 735.3,810.8 735.9,815.2 736.6,812.2 737.2,815.0 737.9,810.6 738.5,816.7 739.2,810.6 739.8,816.1 740.4,811.5 741.1,817.0 741.7,812.0 742.4,816.5 743.0,811.8 743.7,817.3 744.3,812.2 745.0,818.3 745.6,811.9 746.2,817.6 746.9,811.2 747.5,817.4 748.2,809.5 748.8,815.4 749.5,809.4 750.1,817.9 750.8,809.3 751.4,814.6 752.1,808.7 752.7,816.3 753.3,808.9 754.0,815.2 754.6,807.9 755.3,814.2 755.9,806.8 756.6,812.5 757.2,803.8 757.9,810.0 758.5,800.7 759.1,806.2 759.8,793.4 760.4,795.9 761.1,779.2 761.7,776.4 762.4,754.5 763.0,745.0 763.7,716.6 764.3,706.5 764.9,681.9 765.6,680.5 766.2,669.7 766.9,686.0 767.5,694.2 768.2,721.5 768.8,732.5 769.5,756.6 770.1,764.3 770.8,784.1 771.4,784.8 772.0,799.6 772.7,795.2 773.3,805.8 774.0,799.7 774.6,809.4 775.3,802.3 775.9,812.5 776.6,805.6 777.2,814.3 777.8,806.9 778.5,813.2 779.1,807.2 779.8,815.8 780.4,808.6 781.1,813.0 781.7,807.1 782.4,814.4 783.0,808.2 783.7,814.4 784.3,807.2 784.9,816.0 785.6,808.6 786.2,815.8 786.9,809.1 787.5,818.4 788.2,810.6 788.8,820.9 789.5,810.4 790.1,821.7 790.7,811.2 791.4,821.7 792.0,812.2 792.7,822.4 793.3,812.2 794.0,821.8 794.6,813.1 795.3,821.7 795.9,811.5 796.6,820.1 797.2,812.5 797.8,818.4 798.5,810.7 799.1,817.4 799.8,810.6 800.4,815.7 801.1,809.9 801.7,814.0 802.4,810.7 803.0,815.9 803.6,808.6 804.3,814.8 804.9,811.2 805.6,817.5 806.2,812.1 806.9,818.6 807.5,813.0 808.2,819.3 808.8,812.2 809.4,821.5 810.1,814.4 810.7,823.2 811.4,815.0 812.0,822.1 812.7,817.0 813.3,824.3 814.0,817.0 814.6,824.2 815.3,818.6 815.9,826.0 816.5,817.2 817.2,824.5 817.8,819.0 818.5,824.7 819.1,817.4 819.8,822.6 820.4,817.8 821.1,822.2 821.7,814.1 822.3,820.2 823.0,814.6 823.6,820.9 824.3,815.1 824.9,820.1 825.6,812.3 826.2,819.2 826.9,811.6 827.5,819.1 828.2,810.6 828.8,817.4 829.4,811.2 830.1,815.1 830.7,809.2 831.4,816.7 832.0,809.1 832.7,815.1 833.3,809.2 834.0,815.3 834.6,807.3 835.2,813.5 835.9,806.0 836.5,812.8 837.2,806.0 837.8,810.4 838.5,804.1 839.1,810.6 839.8,804.3 840.4,811.0 841.1,806.5 841.7,812.3 842.3,807.6 843.0,814.8 843.6,809.6 844.3,814.8 844.9,810.2 845.6,815.8 846.2,808.6 846.9,817.0 847.5,809.4 848.1,816.3 848.8,810.1 849.4,816.4 850.1,810.5 850.7,817.3 851.4,809.3 852.0,816.8 852.7,810.5 853.3,815.9 853.9,808.1 854.6,816.6 855.2,811.5 855.9,816.6 856.5,810.4 857.2,817.1 857.8,808.2 858.5,816.6 859.1,807.4 859.8,813.9 860.4,804.3 861.0,810.7 861.7,805.5 862.3,812.1 863.0,805.3 863.6,813.4 864.3,805.9 864.9,815.3 865.6,809.4 866.2,816.5 866.8,809.2 867.5,818.8 868.1,812.5 868.8,820.4 869.4,813.2 870.1,818.3 870.7,814.7 871.4,819.3 872.0,813.7 872.7,819.2 873.3,813.1 873.9,821.2 874.6,812.5 875.2,819.4 875.9,812.1 876.5,820.2 877.2,810.2 877.8,820.2 878.5,811.4 879.1,823.0 879.7,811.9 880.4,821.3 881.0,811.1 881.7,820.3 882.3,812.8 883.0,820.3 883.6,811.9 884.3,819.2 884.9,811.8 885.5,818.9 886.2,811.4 886.8,818.7 887.5,810.8 888.1,817.2 888.8,811.2 889.4,817.0 890.1,809.3 890.7,815.8 891.4,808.2 892.0,814.8 892.6,808.6 893.3,815.3 893.9,808.0 894.6,814.3 895.2,808.7 895.9,814.4 896.5,809.1 897.2,813.6 897.8,807.9 898.4,814.6 899.1,809.1 899.7,813.8 900.4,807.0 901.0,814.7 901.7,807.8 902.3,812.8 903.0,806.9 903.6,813.4 904.3,808.5 904.9,815.1 905.5,807.0 906.2,815.4 906.8,809.7 907.5,815.3 908.1,809.7 908.8,817.2 909.4,807.9 910.1,816.0 910.7,809.4 911.3,816.1 912.0,810.2 912.6,816.4 913.3,808.0 913.9,817.4 914.6,810.5 915.2,815.7 915.9,810.4 916.5,817.2 917.2,807.6 917.8,815.7 918.4,809.4 919.1,817.0 919.7,809.1 920.4,816.7 921.0,808.0 921.7,816.4 922.3,807.6 923.0,815.2 923.6,806.9 924.2,812.5 924.9,806.7 925.5,813.6 926.2,806.2 926.8,812.8 927.5,809.0 928.1,814.1 928.8,808.7 929.4,812.5 930.0,808.5 930.7,812.9 931.3,806.6 932.0,813.7 932.6,806.5 933.3,811.8 933.9,804.3 934.6,811.4 935.2,802.8 935.9,811.0 936.5,803.2 937.1,809.7 937.8,800.7 938.4,808.5 939.1,800.5 939.7,806.4 940.4,797.9 941.0,805.2 941.7,798.3 942.3,803.0 942.9,794.4 943.6,800.7 944.2,790.2 944.9,794.7 945.5,782.1 946.2,789.5 946.8,775.4 947.5,777.0 948.1,764.9 948.8,766.7 949.4,752.1 950.0,749.8 950.7,733.6 951.3,731.6 952.0,717.7 952.6,714.9 953.3,702.3 953.9,704.7 954.6,694.2 955.2,700.1 955.8,696.6 956.5,708.0 957.1,706.5 957.8,720.6 958.4,720.0 959.1,732.0 959.7,730.6 960.4,741.5 961.0,736.8 961.7,743.8 962.3,736.4 962.9,741.3 963.6,731.5 964.2,732.6 964.9,720.5 965.5,722.3 966.2,710.4 966.8,717.8 967.5,704.6 968.1,709.2 968.7,703.1 969.4,712.3 970.0,713.2 970.7,725.0 971.3,726.4 972.0,742.1 972.6,740.4 973.3,754.5 973.9,754.6 974.5,768.1 975.2,767.2 975.8,777.5 976.5,772.8 977.1,782.4 977.8,777.8 978.4,786.9 979.1,779.8 979.7,790.3 980.4,783.2 981.0,790.4 981.6,782.2 982.3,792.3 982.9,779.3 983.6,785.1 984.2,776.4 984.9,779.8 985.5,769.9 986.2,772.7 986.8,757.9 987.4,760.8 988.1,747.0 988.7,749.1 989.4,738.7 990.0,742.1 990.7,730.3 991.3,737.1 992.0,732.0 992.6,741.3 993.3,735.8 993.9,748.9 994.5,748.2 995.2,760.2 995.8,759.5 996.5,773.3 997.1,768.9 997.8,782.6 998.4,780.8 999.1,792.2 999.7,787.8 1000.3,798.8 1001.0,792.8 1001.6,802.5 1002.3,798.2 1002.9,805.2 1003.6,799.4 1004.2,806.2 1004.9,803.1 1005.5,808.8 1006.2,804.1 1006.8,810.0 1007.4,804.8 1008.1,809.6 1008.7,803.7 1009.4,811.3 1010.0,806.0 1010.7,811.3 1011.3,805.8 1012.0,812.9 1012.6,805.9 M1048.2,793.8 1048.8,803.2 1049.5,792.6 1050.1,805.8 1050.8,797.1 1051.4,806.9 1052.1,798.8 1052.7,804.5 1053.4,799.8 1054.0,809.1 1054.7,800.8 1055.3,808.5 1055.9,800.0 1056.6,810.0 1057.2,801.6 1057.9,810.8 1058.5,802.2 1059.2,809.9 1059.8,803.0 1060.5,810.5 1061.1,803.6 1061.7,812.0 1062.4,802.8 1063.0,812.5 1063.7,801.9 1064.3,812.8 1065.0,802.8 1065.6,814.0 1066.3,804.4 1066.9,813.3 1067.6,805.2 1068.2,814.8 1068.8,804.5 1069.5,814.7 1070.1,805.2 1070.8,815.6 1071.4,807.2 1072.1,815.7 1072.7,807.8 1073.4,815.8 1074.0,808.3 1074.7,816.8 1075.3,806.5 1075.9,815.9 1076.6,808.2 1077.2,815.5 1077.9,807.5 1078.5,814.3 1079.2,806.6 1079.8,815.6 1080.5,806.0 1081.1,814.6 1081.7,807.0 1082.4,816.1 1083.0,808.7 1083.7,816.8 1084.3,808.3 1085.0,815.8 1085.6,810.5 1086.3,817.7 1086.9,810.2 1087.6,817.2 1088.2,812.2 1088.8,818.7 1089.5,811.3 1090.1,817.8 1090.8,809.6 1091.4,817.9 1092.1,812.1 1092.7,816.0 1093.4,811.5 1094.0,815.7 1094.6,808.7 1095.3,814.7 1095.9,808.0 1096.6,810.2 1097.2,802.4 1097.9,801.3 1098.5,786.6 1099.2,777.8 1099.8,743.2 1100.5,717.7 1101.1,671.6 1101.7,639.8 1102.4,601.6 1103.0,601.8 1103.7,605.9 1104.3,644.2 1105.0,675.8 1105.6,723.3 1106.3,749.2 1106.9,778.3 1107.6,785.8 1108.2,801.8 1108.8,799.5 1109.5,809.1 1110.1,803.6 1110.8,814.4 1111.4,805.2 1112.1,815.2 1112.7,805.7 1113.4,816.4 1114.0,805.8 1114.6,817.1 1115.3,808.0 1115.9,818.4 1116.6,810.5 1117.2,817.1 1117.9,810.7 1118.5,818.6 1119.2,810.3 1119.8,817.4 1120.5,812.3 1121.1,818.0 1121.7,812.1 1122.4,818.0 1123.0,810.5 1123.7,816.7 1124.3,810.4 1125.0,817.0 1125.6,809.3 1126.3,816.0 1126.9,809.1 1127.6,814.2 1128.2,807.9 1128.8,811.7 1129.5,806.4 1130.1,811.6 1130.8,805.0 1131.4,810.5 1132.1,803.4 1132.7,806.8 1133.4,801.6 1134.0,807.1 1134.6,799.4 1135.3,804.1 1135.9,798.4 1136.6,804.5 1137.2,796.1 1137.9,800.6 1138.5,795.3 1139.2,799.3 1139.8,793.8 1140.5,796.8 1141.1,792.5 1141.7,796.7 1142.4,790.7 1143.0,795.3 1143.7,792.0 1144.3,796.6 1145.0,791.5 1145.6,798.0 1146.3,795.9 1146.9,802.1 1147.6,796.7 1148.2,806.4 1148.8,799.5 1149.5,807.1 1150.1,801.0 1150.8,810.9 1151.4,804.3 1152.1,813.6 1152.7,804.7 1153.4,815.8 1154.0,807.3 1154.6,816.2 1155.3,807.8 1155.9,817.7 1156.6,809.3 1157.2,817.7 1157.9,809.0 1158.5,817.1 1159.2,810.0 1159.8,817.0 1160.5,811.5 1161.1,818.6 1161.7,811.8 1162.4,816.8 1163.0,813.5 1163.7,818.6 1164.3,810.9 1165.0,817.7 1165.6,812.2 1166.3,817.9 1166.9,813.0 1167.5,820.2 1168.2,811.7 1168.8,821.1 1169.5,812.2 1170.1,821.0 1170.8,812.8 1171.4,820.8 1172.1,813.5 1172.7,820.1 1173.4,814.0 1174.0,821.8 1174.6,813.8 1175.3,821.2 1175.9,816.4 1176.6,821.2 1177.2,815.7 1177.9,822.7 1178.5,816.2 1179.2,822.2 1179.8,815.8 1180.5,822.6 1181.1,815.3 1181.7,823.9 1182.4,815.4 1183.0,825.2 1183.7,815.3 1184.3,824.0 1185.0,817.7 1185.6,821.4 1186.3,815.0 1186.9,820.3 1187.5,814.8 1188.2,819.1 1188.8,813.4 1189.5,817.3 1190.1,811.9 1190.8,817.1 1191.4,810.2 1192.1,814.1 1192.7,808.7 1193.4,812.9 1194.0,806.2 1194.6,810.9 1195.3,804.2 1195.9,810.5 1196.6,802.6 1197.2,809.4 1197.9,801.1 1198.5,808.4 1199.2,799.7 1199.8,807.3 1200.5,796.3 1201.1,804.8 1201.7,793.2 1202.4,801.2 1203.0,791.7 1203.7,801.9 1204.3,794.3 1205.0,804.1 1205.6,798.5 1206.3,807.2 1206.9,802.9 1207.5,812.1 1208.2,806.7 1208.8,815.3 1209.5,808.8 1210.1,816.3 1210.8,809.5 1211.4,817.8 1212.1,811.8 1212.7,816.7 1213.4,812.1 1214.0,818.5 1214.6,811.8 1215.3,819.3 1215.9,811.8 1216.6,819.4 1217.2,812.9 1217.9,821.1 1218.5,814.8 1219.2,821.5 1219.8,815.0 1220.5,822.8 1221.1,815.8 1221.7,823.1 1222.4,816.8 1223.0,823.1 1223.7,816.6 1224.3,825.0 1225.0,817.2 1225.6,825.6 1226.3,816.4 1226.9,825.2 1227.5,819.0 1228.2,826.1 1228.8,819.5 1229.5,826.2 1230.1,817.3 1230.8,826.9 1231.4,817.9 1232.1,824.5 1232.7,818.7 1233.4,826.3 1234.0,819.7 1234.6,825.3 1235.3,820.8 1235.9,825.5 1236.6,822.0 1237.2,827.7 1237.9,822.2 1238.5,828.5 1239.2,823.1 1239.8,830.4 1240.4,823.0 1241.1,827.5 1241.7,822.1 1242.4,827.8 1243.0,820.9 1243.7,827.3 1244.3,820.9 1245.0,826.6 1245.6,818.3 1246.3,826.1 1246.9,818.2 1247.5,826.7 1248.2,816.7 1248.8,826.3 1249.5,817.9 1250.1,825.6 1250.8,816.4 1251.4,824.1 1252.1,817.1 1252.7,822.7 1253.4,817.4 1254.0,822.6 1254.6,817.0 1255.3,825.1 1255.9,817.1 1256.6,824.9 1257.2,816.9 1257.9,825.6 1258.5,816.7 1259.2,825.6 1259.8,818.4 1260.4,825.6 1261.1,819.5 1261.7,824.0 1262.4,815.4 1263.0,822.9 1263.7,815.3 1264.3,821.9 1265.0,815.6 1265.6,823.5 1266.3,814.0 1266.9,820.2 1267.5,813.7 1268.2,821.7 1268.8,813.7 1269.5,821.4 1270.1,815.5 1270.8,821.9 1271.4,817.5 1272.1,823.0 1272.7,819.9 1273.4,826.4 1274.0,821.0 1274.6,826.3 1275.3,822.7 1275.9,826.2 1276.6,821.6 1277.2,827.2 1277.9,821.2 1278.5,830.5 1279.2,821.6 1279.8,827.8 1280.4,822.2 1281.1,827.9 1281.7,821.3 1282.4,828.0 1283.0,822.1 1283.7,829.0 1284.3,821.6 1285.0,827.9 1285.6,821.8 1286.3,828.9 1286.9,821.7 1287.5,828.6 1288.2,820.8 1288.8,831.2 1289.5,822.5 1290.1,831.2 1290.8,822.7 1291.4,829.3 1292.1,823.6 1292.7,829.0 1293.4,823.6 1294.0,828.0 1294.6,822.8 1295.3,829.4 1295.9,821.1 1296.6,827.2 1297.2,819.7 1297.9,827.1 1298.5,819.3 1299.2,827.8 1299.8,823.6 1300.4,828.5 1301.1,822.6 1301.7,831.2 1302.4,822.0 1303.0,831.1 1303.7,820.7 1304.3,829.6 1305.0,822.7 1305.6,829.3 1306.3,822.8 1306.9,829.6 1307.5,822.0 1308.2,829.1 1308.8,822.2 1309.5,828.7 1310.1,822.8 1310.8,827.9 1311.4,821.9 1312.1,827.1 1312.7,819.4 1313.3,825.7 1314.0,818.8 1314.6,825.8 1315.3,818.1 1315.9,825.7 1316.6,817.2 1317.2,825.8 1317.9,818.4 1318.5,824.6 1319.2,818.1 1319.8,825.6 1320.4,818.2 1321.1,824.0 1321.7,817.7 1322.4,822.5 1323.0,817.6 1323.7,822.6 1324.3,817.1 1325.0,823.1 1325.6,817.2 1326.3,820.6 1326.9,814.4 1327.5,821.3 1328.2,815.9 1328.8,819.2 1329.5,814.5 1330.1,821.1 1330.8,815.0 1331.4,821.5 1332.1,817.4 1332.7,823.4 1333.3,820.1 1334.0,825.2 1334.6,820.5 1335.3,828.2 1335.9,822.6 1336.6,827.9 1337.2,824.7 1337.9,831.0 1338.5,824.1 1339.2,828.8 1339.8,823.6 1340.4,830.1 1341.1,822.5 1341.7,830.1 1342.4,823.0 1343.0,829.7 1343.7,823.4 1344.3,828.4 1345.0,822.0 1345.6,828.4 1346.3,820.4 1346.9,827.0 1347.5,821.4 1348.2,826.6 1348.8,818.5 1349.5,825.9 1350.1,818.8 1350.8,825.4 1351.4,818.0 1352.1,824.6 1352.7,816.4 1353.3,823.8 1354.0,816.3 1354.6,826.3 1355.3,817.7 1355.9,825.3 1356.6,819.5 1357.2,825.5 1357.9,818.9 1358.5,823.9 1359.2,818.2 1359.8,825.7 1360.4,818.8 1361.1,825.6 1361.7,818.5 1362.4,824.7 1363.0,818.7 1363.7,823.6 1364.3,819.5 1365.0,824.4 1365.6,819.0 1366.3,825.5 1366.9,817.1 1367.5,822.7 1368.2,818.1 1368.8,823.3 1369.5,818.6 1370.1,823.2 1370.8,816.2 1371.4,822.2 1372.1,815.0 1372.7,824.3 1373.3,815.3 1374.0,825.3 1374.6,815.3 1375.3,824.7 1375.9,814.1 1376.6,823.7 1377.2,814.5 1377.9,823.3 1378.5,813.6 1379.2,819.8 1379.8,812.7 1380.4,820.9 1381.1,816.1 1381.7,821.3 1382.4,815.1 1383.0,822.9 1383.7,816.3 1384.3,824.4 1385.0,817.9 1385.6,825.3 1386.2,819.0 1386.9,826.1 1387.5,819.8 1388.2,826.0 1388.8,818.6 1389.5,827.6 1390.1,820.4 1390.8,829.2 1391.4,819.2 1392.1,828.2 1392.7,820.3 1393.3,827.9 1394.0,818.6 1394.6,825.8 1395.3,818.2 1395.9,825.1 1396.6,819.7 1397.2,825.7 1397.9,815.9 1398.5,825.4 1399.2,817.5 1399.8,825.9 1400.4,818.3 1401.1,826.2 1401.7,818.8 1402.4,825.4 1403.0,817.3 1403.7,824.4 1404.3,816.7 1405.0,825.9 1405.6,815.9 1406.2,827.0 1406.9,819.2 1407.5,824.9 1408.2,818.8 1408.8,825.6 1409.5,819.4 1410.1,824.1 1410.8,818.4 1411.4,825.1 1412.1,817.9 1412.7,823.8 1413.3,814.5 1414.0,822.0 1414.6,813.2 1415.3,820.1 1415.9,810.5 1416.6,815.3 1417.2,805.7 1417.9,812.3 1418.5,802.5 1419.2,805.6 1419.8,796.9 1420.4,801.7 1421.1,792.2 1421.7,797.1 1422.4,792.5 1423.0,798.2 1423.7,795.3 1424.3,800.3 1425.0,798.8 1425.6,804.6 1426.2,805.2 1426.9,811.0 1427.5,809.8 1428.2,815.2 1428.8,813.2 1429.5,816.7 1430.1,814.7 1430.8,818.3 1431.4,815.4 1432.1,820.0 1432.7,815.6 1433.3,820.9 1434.0,816.4 1434.6,823.4 1435.3,816.6 1435.9,821.9 1436.6,815.4 1437.2,822.7 1437.9,814.8 1438.5,825.6 1439.2,813.4 1439.8,822.2 1440.4,814.5 1441.1,824.1 1441.7,813.1 1442.4,822.8 1443.0,815.2 1443.7,820.6 1444.3,815.7 1445.0,821.7 1445.6,813.0 1446.2,820.7 1446.9,812.7 1447.5,820.4 1448.2,813.9 1448.8,821.9 1449.5,813.8 1450.1,820.7 1450.8,814.6 1451.4,820.9 1452.1,813.8 1452.7,821.1 1453.3,813.3 1454.0,820.1 1454.6,815.5 1455.3,822.7 1455.9,814.6 1456.6,820.4 1457.2,813.7 1457.9,820.7 1458.5,807.9 1459.1,811.2 1459.8,794.1 1460.4,788.9 1461.1,762.9 1461.7,749.1 1462.4,722.4 1463.0,715.6 1463.7,703.3 1464.3,711.6 1465.0,719.3 1465.6,741.3 1466.2,753.5 1466.9,773.8 1467.5,776.7 1468.2,783.8 1468.8,781.1 1469.5,784.4 1470.1,780.2 1470.8,784.5 1471.4,785.5 1472.1,797.1 1472.7,795.8 1473.3,806.6 1474.0,806.5 1474.6,816.1 1475.3,810.3 1475.9,819.3 1476.6,812.5 1477.2,820.5 1477.9,811.8 1478.5,820.0 1479.1,810.5 1479.8,820.2 1480.4,810.9 1481.1,819.4 1481.7,812.9 1482.4,818.6 1483.0,812.8 1483.7,819.2 1484.3,813.5 1485.0,821.2 1485.6,814.6 1486.2,821.1 1486.9,816.5 1487.5,823.0 1488.2,817.0 1488.8,823.5 1489.5,818.5 1490.1,823.3 1490.8,818.0 1491.4,824.4 1492.1,818.2 1492.7,824.9 1493.3,818.4 1494.0,823.1 1494.6,818.4 1495.3,824.0 1495.9,815.5 1496.6,820.7 1497.2,815.4 1497.9,821.1 1498.5,813.7 1499.1,820.4 1499.8,814.2 1500.4,819.4 1501.1,812.6 1501.7,818.8 1502.4,812.0 1503.0,818.3 1503.7,811.0 1504.3,816.6 1505.0,808.3 1505.6,813.3 1506.2,805.5 1506.9,811.8 1507.5,801.4 1508.2,807.5 1508.8,798.3 1509.5,802.5 1510.1,793.8 1510.8,800.1 1511.4,790.6 1512.1,795.8 1512.7,789.1 1513.3,796.4 1514.0,790.7 1514.6,799.9 1515.3,793.9 1515.9,802.8 1516.6,798.2 1517.2,806.4 1517.9,801.0 1518.5,810.9 1519.1,804.3 1519.8,815.6 1520.4,809.9 1521.1,816.3 1521.7,808.8 1522.4,817.7 1523.0,810.8 1523.7,820.5 1524.3,813.4 1525.0,821.6 1525.6,814.0 1526.2,821.2 1526.9,813.4 1527.5,822.8 1528.2,814.6 1528.8,822.0 1529.5,814.9 1530.1,822.4 1530.8,814.5 1531.4,822.8 1532.0,815.4 1532.7,822.5 1533.3,815.5 1534.0,824.6 1534.6,814.8 1535.3,823.8 1535.9,813.6 1536.6,824.4 1537.2,815.1 1537.9,823.8 1538.5,814.8 1539.1,823.5 1539.8,814.7 1540.4,822.5 1541.1,814.5 1541.7,822.8 1542.4,815.6 1543.0,824.5 1543.7,816.5 1544.3,823.8 1545.0,817.7 1545.6,825.0 1546.2,818.9 1546.9,826.7 1547.5,819.0 1548.2,826.6 1548.8,817.4 1549.5,827.2 1550.1,820.5 1550.8,827.4 1551.4,820.1 1552.0,827.7 1552.7,818.5 1553.3,825.9 1554.0,819.6 1554.6,827.0 1555.3,820.0 1555.9,827.4 1556.6,817.5 1557.2,824.4 1557.9,817.6 1558.5,824.4 1559.1,816.8 1559.8,825.0 1560.4,817.6 1561.1,824.1 1561.7,814.6 1562.4,824.3 1563.0,816.1 1563.7,823.1 1564.3,817.0 1565.0,823.4 1565.6,817.2 1566.2,821.9 1566.9,819.2 1567.5,823.1 1568.2,818.5 1568.8,824.2 1569.5,818.8 1570.1,825.3 1570.8,816.7 1571.4,825.0 1572.0,816.0 1572.7,824.4 1573.3,816.7 1574.0,823.5 1574.6,815.2 1575.3,821.9 1575.9,814.9 1576.6,822.4 1577.2,814.5 1577.9,819.9 1578.5,816.1 1579.1,819.5 1579.8,816.0 1580.4,820.7 1581.1,815.0 1581.7,820.4 1582.4,816.2 1583.0,820.7 1583.7,815.6 1584.3,820.1 1585.0,813.7 1585.6,821.6 1586.2,815.5 1586.9,823.9 1587.5,816.3 1588.2,822.3 1588.8,815.3 1589.5,823.8 1590.1,818.7 1590.8,824.0 1591.4,818.8 1592.0,823.8 1592.7,817.7 1593.3,823.0 1594.0,816.0 1594.6,823.1 1595.3,815.7 1595.9,822.4 1596.6,814.7 1597.2,822.1 1597.9,813.8 1598.5,822.4 1599.1,814.6 1599.8,819.8 1600.4,814.6 1601.1,821.4 1601.7,816.6 1602.4,822.9 1603.0,816.9 1603.7,824.4 1604.3,815.8 1604.9,823.8 1605.6,816.7 1606.2,825.0 1606.9,819.1 1607.5,825.4 1608.2,817.6 1608.8,824.8 1609.5,818.9 1610.1,823.8 1610.8,817.4 1611.4,822.8 1612.0,818.2 1612.7,824.5 1613.3,818.5 1614.0,823.7 1614.6,817.1 1615.3,823.3 1615.9,819.5 1616.6,825.1 1617.2,817.6 1617.9,825.8 1618.5,818.7 1619.1,829.2 1619.8,818.2 1620.4,825.7 1621.1,819.8 1621.7,829.8 1622.4,819.4 1623.0,828.2 1623.7,817.0 1624.3,824.7 1624.9,813.7 1625.6,821.4 1626.2,812.6 1626.9,817.9 1627.5,806.3 1628.2,811.8 1628.8,801.3 1629.5,807.9 1630.1,796.7 1630.8,804.0 1631.4,796.6 1632.0,802.7 1632.7,797.8 1633.3,803.6 1634.0,799.1 1634.6,807.0 1635.3,803.6 1635.9,811.3 1636.6,806.0 1637.2,814.9 1637.9,808.6 1638.5,817.7 1639.1,810.6 1639.8,820.5 1640.4,813.9 1641.1,821.5 1641.7,816.3 1642.4,822.5 1643.0,818.2 1643.7,823.6 1644.3,817.7 1644.9,826.1 1645.6,818.1 1646.2,826.2 1646.9,817.5 1647.5,826.0 1648.2,816.0 1648.8,823.4 1649.5,819.3 1650.1,825.3 1650.8,817.9 1651.4,824.6 1652.0,816.4 1652.7,825.8 1653.3,815.7 1654.0,825.4 1654.6,815.6 1655.3,825.6 1655.9,815.1 1656.6,824.7 1657.2,818.4 1657.9,825.6 1658.5,817.0 1659.1,824.7 1659.8,817.8 1660.4,824.5 1661.1,817.7 1661.7,824.7 1662.4,818.8 1663.0,826.1 1663.7,820.6 1664.3,828.7 1664.9,819.1 1665.6,827.1 1666.2,822.2 1666.9,827.7 1667.5,822.2 1668.2,831.1 1668.8,822.5 1669.5,828.3 1670.1,822.6 1670.8,829.9 1671.4,821.0 1672.0,829.6 1672.7,820.9 1673.3,828.5 1674.0,821.0 1674.6,829.8 1675.3,821.8 1675.9,829.6 1676.6,820.6 1677.2,828.5 1677.8,821.5 1678.5,829.3 1679.1,821.9 1679.8,828.9 1680.4,822.4 1681.1,830.0 1681.7,821.9 1682.4,829.7 1683.0,823.9 1683.7,830.6 1684.3,823.5 1684.9,830.2 1685.6,823.4 1686.2,828.5 1686.9,822.5 1687.5,829.2 1688.2,824.2 1688.8,828.9 1689.5,821.2 1690.1,828.8 1690.8,821.5 1691.4,828.9 1692.0,821.7 1692.7,830.5 1693.3,821.4 1694.0,827.5 1694.6,820.7 1695.3,827.3 1695.9,821.4 1696.6,828.8 1697.2,822.8 1697.8,828.3 1698.5,823.1 1699.1,829.7 1699.8,823.8 1700.4,831.0 1701.1,823.8 1701.7,829.7 1702.4,823.8 1703.0,831.5 1703.7,823.7 1704.3,831.3 1704.9,824.9 1705.6,832.4 1706.2,824.0 1706.9,832.0 1707.5,824.6 1708.2,832.1 1708.8,823.3 1709.5,830.7 1710.1,823.8 1710.8,829.7 1711.4,822.9 1712.0,829.1 1712.7,823.8 1713.3,828.0 1714.0,822.8 1714.6,827.4 1715.3,822.9 1715.9,827.2 1716.6,822.6 1717.2,829.1 1717.8,823.1 1718.5,828.7 1719.1,822.3 1719.8,827.5 1720.4,820.7 1721.1,826.9 1721.7,820.2 1722.4,827.1 1723.0,819.3 1723.7,825.6 1724.3,819.1 1724.9,825.2 1725.6,818.6 1726.2,825.8 1726.9,816.8 1727.5,826.4 1728.2,815.8 1728.8,825.2 1729.5,816.5 1730.1,823.9 1730.8,815.1 1731.4,825.1 1732.0,816.4 1732.7,824.1 1733.3,815.4 1734.0,823.5 1734.6,818.2 1735.3,823.2 1735.9,816.5 1736.6,824.5 1737.2,819.6 1737.8,825.7 1738.5,818.8 1739.1,826.4 1739.8,821.6 1740.4,824.8 1741.1,820.2 1741.7,826.5 1742.4,821.7 1743.0,826.9 1743.7,820.4 1744.3,826.0 1744.9,819.7 1745.6,824.6 1746.2,820.2 1746.9,827.0 1747.5,818.7 1748.2,826.9 1748.8,820.2 1749.5,828.2 1750.1,821.7 1750.7,826.7 1751.4,820.5 1752.0,826.7 1752.7,819.6 1753.3,826.7 1754.0,821.5 1754.6,825.5 1755.3,821.6 1755.9,826.4 1756.6,821.6 1757.2,826.7 1757.8,821.3 1758.5,827.4 1759.1,820.2 1759.8,826.4 1760.4,819.9 1761.1,824.8 1761.7,819.3 1762.4,824.1 1763.0,817.7 1763.7,824.1 1764.3,816.8 1764.9,823.6 1765.6,816.1 1766.2,820.7 1766.9,814.9 1767.5,819.0 1768.2,811.5 1768.8,813.1 1769.5,805.7 1770.1,807.6 1770.7,799.8 1771.4,799.5 1772.0,792.9 1772.7,798.2 1773.3,791.8 1774.0,802.2 1774.6,795.7 1775.3,806.2 1775.9,803.2 1776.6,813.7 1777.2,808.7 1777.8,818.7 1778.5,812.7 1779.1,819.9 1779.8,815.2 1780.4,823.1 1781.1,818.3 1781.7,821.8 1782.4,818.7 1783.0,823.4 1783.7,819.1 1784.3,823.1 1784.9,818.4 1785.6,823.2 1786.2,819.7 1786.9,824.7 1787.5,817.1 1788.2,823.9 1788.8,816.9 1789.5,821.4 1790.1,815.2 1790.7,822.2 1791.4,813.6 1792.0,819.8 1792.7,814.6 1793.3,818.6 1794.0,812.4 1794.6,816.4 1795.3,808.8 1795.9,817.3 1796.6,809.9 1797.2,815.1 1797.8,806.2 1798.5,812.1 1799.1,805.7 1799.8,811.1 1800.4,804.2 1801.1,810.5 1801.7,802.7 1802.4,810.5 1803.0,804.2 1803.7,811.1 1804.3,804.1 1804.9,811.0 1805.6,804.0 1806.2,810.7 1806.9,803.8 1807.5,812.1 1808.2,803.7 1808.8,811.9 1809.5,805.9 1810.1,813.9 1810.7,807.3 1811.4,814.9 1812.0,806.1 1812.7,815.6 1813.3,807.7 1814.0,815.6 1814.6,809.4 1815.3,816.4 1815.9,810.4 1816.6,816.0 1817.2,808.3 1817.8,816.4 1818.5,809.1 1819.1,815.6 1819.8,810.9 1820.4,817.8 1821.1,810.8 1821.7,819.3 1822.4,810.8 1823.0,818.6 1823.6,811.2 1824.3,819.9 1824.9,814.6 1825.6,820.8 1826.2,814.6 1826.9,820.9 1827.5,815.6 1828.2,822.6 1828.8,815.0 1829.5,823.5 1830.1,817.3 1830.7,822.6 1831.4,818.8 1832.0,823.9 1832.7,819.4 1833.3,825.7 1834.0,819.8 1834.6,826.1 1835.3,821.1 1835.9,826.7 1836.6,819.9 1837.2,828.7 1837.8,820.6 1838.5,827.2 1839.1,820.8 1839.8,826.7 1840.4,819.1 1841.1,826.6 1841.7,819.5 1842.4,826.3 1843.0,819.1 1843.6,826.2 1844.3,816.0 1844.9,825.1 1845.6,816.3 1846.2,825.5 1846.9,818.1 1847.5,824.1 1848.2,817.1 1848.8,824.7 1849.5,816.4 1850.1,824.2 1850.7,818.0 1851.4,824.8 1852.0,815.6 1852.7,825.8 1853.3,817.4 1854.0,826.1 1854.6,816.9 1855.3,825.4 1855.9,818.2 1856.6,825.4 1857.2,819.1 1857.8,825.5 1858.5,818.1 1859.1,826.6 1859.8,818.8 1860.4,828.0 1861.1,819.9 1861.7,828.3 1862.4,820.1 1863.0,829.4 1863.6,822.1 1864.3,830.2 1864.9,821.3 1865.6,828.2 1866.2,819.3 1866.9,826.5 1867.5,819.8 1868.2,827.4 1868.8,819.6 1869.5,825.6 1870.1,820.3 1870.7,824.3 1871.4,819.5 1872.0,824.4 1872.7,819.8 1873.3,823.9 1874.0,820.0 1874.6,825.4 1875.3,818.8 1875.9,825.6 1876.6,818.8 1877.2,823.4 1877.8,817.2 1878.5,825.9 1879.1,816.3 1879.8,822.5 1880.4,817.1 1881.1,821.6 1881.7,817.5 1882.4,823.8 1883.0,815.1 1883.6,822.6 1884.3,816.4 1884.9,824.2 1885.6,816.6 1886.2,825.4 1886.9,818.2 1887.5,825.3 1888.2,818.2 1888.8,825.1 1889.5,817.5 1890.1,825.5 1890.7,818.9 1891.4,825.8 1892.0,818.3 1892.7,825.7 1893.3,816.9 1894.0,824.0 1894.6,817.3 1895.3,823.8 1895.9,813.1 1896.5,820.2 1897.2,812.4 1897.8,820.6 1898.5,812.0 1899.1,817.7 1899.8,811.2 1900.4,819.9 1901.1,811.4 1901.7,818.5 1902.4,810.6 1903.0,819.1 1903.6,811.2 1904.3,818.7 1904.9,811.7 1905.6,819.3 1906.2,811.6 1906.9,818.9 1907.5,811.8 1908.2,819.3 1908.8,812.9 1909.5,818.0 1910.1,812.2 1910.7,817.7 1911.4,811.6 1912.0,819.1 1912.7,809.7 1913.3,818.3 1914.0,809.5 1914.6,817.4 1915.3,809.8 1915.9,817.2 1916.5,808.1 1917.2,815.5 1917.8,809.5 1918.5,817.1 1919.1,810.3 1919.8,816.3 1920.4,810.1 1921.1,816.5 1921.7,810.6 1922.4,817.1 1923.0,811.3 M1956.6,810.4 1957.2,818.3 1957.9,809.9 1958.5,818.7 1959.2,811.2 1959.8,817.5 1960.5,812.0 1961.1,819.0 1961.8,812.4 1962.4,817.3 1963.1,813.8 1963.7,818.9 1964.3,813.1 1965.0,818.3 1965.6,812.0 1966.3,819.1 1966.9,813.2 1967.6,820.1 1968.2,813.9 1968.9,822.5 1969.5,815.2 1970.2,821.2 1970.8,814.1 1971.4,822.8 1972.1,814.5 1972.7,823.1 1973.4,815.7 1974.0,822.5 1974.7,815.5 1975.3,823.8 1976.0,813.5 1976.6,824.1 1977.2,815.8 1977.9,825.8 1978.5,815.4 1979.2,823.3 1979.8,814.8 1980.5,824.7 1981.1,816.6 1981.8,824.3 1982.4,817.2 1983.1,824.3 1983.7,819.6 1984.3,825.1 1985.0,818.1 1985.6,824.0 1986.3,818.4 1986.9,826.1 1987.6,820.3 1988.2,825.7 1988.9,819.5 1989.5,826.1 1990.2,819.9 1990.8,825.3 1991.4,819.6 1992.1,825.2 1992.7,817.6 1993.4,823.5 1994.0,817.5 1994.7,823.9 1995.3,817.8 1996.0,821.7 1996.6,817.0 1997.3,823.1 1997.9,816.0 1998.5,822.1 1999.2,816.2 1999.8,825.4 2000.5,816.4 2001.1,823.2 2001.8,816.6 2002.4,824.3 2003.1,818.2 2003.7,825.5 2004.3,817.6 2005.0,826.0 2005.6,820.0 2006.3,826.4 2006.9,819.0 2007.6,825.2 2008.2,820.8 2008.9,826.9 2009.5,820.6 2010.2,826.2 2010.8,821.4 2011.4,826.8 2012.1,821.5 2012.7,827.4 2013.4,821.4 2014.0,825.3 2014.7,819.9 2015.3,826.1 2016.0,818.4 2016.6,825.0 2017.3,818.5 2017.9,824.0 2018.5,817.2 2019.2,823.7 2019.8,819.3 2020.5,823.8 2021.1,819.9 2021.8,824.5 2022.4,819.0 2023.1,825.0 2023.7,820.7 2024.4,826.1 2025.0,820.9 2025.6,826.4 2026.3,818.7 2026.9,828.2 2027.6,819.7 2028.2,827.1 2028.9,820.4 2029.5,828.8 2030.2,819.7 2030.8,828.0 2031.4,821.3 2032.1,828.9 2032.7,822.5 2033.4,829.2 2034.0,822.2 2034.7,829.3 2035.3,822.3 2036.0,828.6 2036.6,820.2 2037.3,830.3 2037.9,821.3 2038.5,827.4 2039.2,821.2 2039.8,827.5 2040.5,820.8 2041.1,827.8 2041.8,819.5 2042.4,826.4 2043.1,820.2 2043.7,827.5 2044.4,820.4 2045.0,826.9 2045.6,819.9 2046.3,827.6 2046.9,820.8 2047.6,829.5 2048.2,820.0 2048.9,828.9 2049.5,821.5 2050.2,829.8 2050.8,822.3 2051.5,830.2 2052.1,822.6 2052.7,829.9 2053.4,822.1 2054.0,831.7 2054.7,822.4 2055.3,829.8 2056.0,820.5 2056.6,829.9 2057.3,819.1 2057.9,829.8 2058.5,820.2 2059.2,829.4 2059.8,818.8 2060.5,829.0 2061.1,820.1 2061.8,827.3 2062.4,820.3 2063.1,828.5 2063.7,820.9 2064.4,827.9 2065.0,820.5 2065.6,827.2 2066.3,822.1 2066.9,827.2 2067.6,819.5 2068.2,827.5 2068.9,820.2 2069.5,827.0 2070.2,821.2 2070.8,829.2 2071.5,821.9 2072.1,828.7 2072.7,824.2 2073.4,828.2 2074.0,824.7 2074.7,829.0 2075.3,823.6 2076.0,829.9 2076.6,823.8 2077.3,830.3 2077.9,825.0 2078.6,829.8 2079.2,824.3 2079.8,832.9 2080.5,824.0 2081.1,832.9 2081.8,822.3 2082.4,831.1 2083.1,822.0 2083.7,830.9 2084.4,822.6 2085.0,830.2 2085.6,820.6 2086.3,829.8 2086.9,820.0 2087.6,828.3 2088.2,820.1 2088.9,830.2 2089.5,819.8 2090.2,828.1 2090.8,823.4 2091.5,829.8 2092.1,822.5 2092.7,828.8 2093.4,823.0 2094.0,828.9 2094.7,820.9 2095.3,830.1 2096.0,821.6 2096.6,829.2 2097.3,822.1 2097.9,829.0 2098.6,823.0 2099.2,829.2 2099.8,821.5 2100.5,829.3 2101.1,821.7 2101.8,829.0 2102.4,821.1 2103.1,828.7 2103.7,820.9 2104.4,827.7 2105.0,820.8 2105.7,828.1 2106.3,819.1 2106.9,829.5 2107.6,820.6 2108.2,829.3 2108.9,821.2 2109.5,829.9 2110.2,823.2 2110.8,828.9 2111.5,821.7 2112.1,828.8 2112.7,823.4 2113.4,828.3 2114.0,820.9 2114.7,824.4 2115.3,818.6 2116.0,824.8 2116.6,818.0 2117.3,823.6 2117.9,814.4 2118.6,820.9 2119.2,810.2 2119.8,811.4 2120.5,797.8 2121.1,798.1 2121.8,780.1 2122.4,776.2 2123.1,763.2 2123.7,765.5 2124.4,759.8 2125.0,771.3 2125.7,773.9 2126.3,788.0 2126.9,788.5 2127.6,800.8 2128.2,795.0 2128.9,802.5 2129.5,792.6 2130.2,799.3 2130.8,793.4 2131.5,804.2 2132.1,799.0 2132.8,809.9 2133.4,809.2 2134.0,819.4 2134.7,815.2 2135.3,822.7 2136.0,819.7 2136.6,826.4 2137.3,821.7 2137.9,828.1 2138.6,824.3 2139.2,828.2 2139.8,823.7 2140.5,828.5 2141.1,824.6 2141.8,829.5 2142.4,825.3 2143.1,830.6 2143.7,826.8 2144.4,831.1 2145.0,826.0 2145.7,831.6 2146.3,827.6 2146.9,833.2 2147.6,827.4 2148.2,833.7 2148.9,826.7 2149.5,834.0 2150.2,826.8 2150.8,835.3 2151.5,826.6 2152.1,835.3 2152.8,828.0 2153.4,834.4" fill="none" stroke="#0DA2FF" stroke-width="6.5" stroke-linejoin="round" stroke-linecap="butt"/>
<path d="M250.3,956.4 250.9,981.5 251.6,959.5 252.2,982.2 252.9,952.6 253.5,979.0 254.2,959.4 254.8,975.1 255.5,960.4 256.1,971.6 256.7,958.0 257.4,973.9 258.0,959.0 258.7,975.6 259.3,961.3 260.0,972.2 260.6,959.2 261.3,973.1 261.9,957.6 262.6,977.1 263.2,959.9 263.8,978.2 264.5,965.4 265.1,977.4 265.8,965.6 266.4,977.7 267.1,961.7 267.7,982.6 268.4,962.5 269.0,977.7 269.6,966.3 270.3,982.5 270.9,967.0 271.6,982.5 272.2,970.5 272.9,981.6 273.5,971.4 274.2,980.7 274.8,967.2 275.5,982.0 276.1,967.9 276.7,983.6 277.4,968.0 278.0,985.0 278.7,969.6 279.3,985.1 280.0,971.9 280.6,984.4 281.3,965.4 281.9,986.7 282.5,964.5 283.2,987.7 283.8,968.5 284.5,990.0 285.1,969.7 285.8,989.1 286.4,969.2 287.1,986.9 287.7,969.1 288.4,988.6 289.0,968.6 289.6,984.2 290.3,973.3 290.9,984.1 291.6,972.8 292.2,984.1 292.9,968.6 293.5,982.7 294.2,967.0 294.8,985.0 295.4,972.9 296.1,991.7 296.7,971.1 297.4,988.0 298.0,970.1 298.7,989.4 299.3,973.0 300.0,986.6 300.6,966.8 301.2,986.5 301.9,972.7 302.5,987.4 303.2,975.7 303.8,985.6 304.5,974.4 305.1,981.9 305.8,967.5 306.4,983.0 307.1,968.5 307.7,987.2 308.3,972.5 309.0,986.3 309.6,969.3 310.3,990.3 310.9,971.6 311.6,988.7 312.2,967.7 312.9,987.1 313.5,966.8 314.1,992.2 314.8,971.6 315.4,991.2 316.1,973.0 316.7,994.7 317.4,972.1 318.0,990.7 318.7,973.8 319.3,992.3 320.0,975.9 320.6,991.5 321.2,965.4 321.9,995.2 322.5,977.1 323.2,992.9 323.8,969.1 324.5,989.5 325.1,971.9 325.8,991.3 326.4,978.0 327.0,995.0 327.7,981.2 328.3,999.2 329.0,982.5 329.6,999.1 330.3,985.7 330.9,1000.4 331.6,983.7 332.2,999.7 332.9,986.3 333.5,999.4 334.1,984.7 334.8,999.9 335.4,985.6 336.1,1000.5 336.7,983.5 337.4,999.2 338.0,986.4 338.7,1001.7 339.3,982.1 339.9,999.9 340.6,982.8 341.2,996.4 341.9,977.5 342.5,996.6 343.2,977.7 343.8,992.2 344.5,977.2 345.1,994.9 345.7,978.8 346.4,991.2 347.0,980.7 347.7,996.6 348.3,979.7 349.0,996.4 349.6,982.5 350.3,997.9 350.9,984.4 351.6,1000.8 352.2,989.7 352.8,1006.6 353.5,991.8 354.1,1006.9 354.8,989.5 355.4,1003.2 356.1,986.2 356.7,1007.1 357.4,993.2 358.0,1007.4 358.6,995.3 359.3,1004.9 359.9,994.9 360.6,1002.5 361.2,994.9 361.9,1008.9 362.5,996.5 363.2,1007.3 363.8,995.4 364.5,1009.3 365.1,992.0 365.7,1007.9 366.4,994.1 367.0,1006.0 367.7,988.5 368.3,1007.5 369.0,995.1 369.6,1004.7 370.3,994.5 370.9,1003.1 371.5,995.1 372.2,1005.2 372.8,991.9 373.5,1004.6 374.1,992.9 374.8,1003.1 375.4,989.9 376.1,1003.6 376.7,989.2 377.4,1003.5 378.0,989.6 378.6,1003.8 379.3,989.7 379.9,1003.9 380.6,989.9 381.2,1003.9 381.9,989.3 382.5,1001.5 383.2,990.4 383.8,1005.8 384.4,993.4 385.1,1003.1 385.7,992.3 386.4,1006.0 387.0,990.2 387.7,1007.3 388.3,986.3 389.0,1007.6 389.6,995.1 390.2,1006.2 390.9,993.7 391.5,1009.5 392.2,997.4 392.8,1005.7 393.5,997.2 394.1,1009.3 394.8,996.4 395.4,1011.7 396.1,1000.8 396.7,1009.9 397.3,999.9 398.0,1012.8 398.6,999.4 399.3,1010.4 399.9,1000.0 400.6,1012.6 401.2,1000.6 401.9,1013.6 402.5,1000.1 403.1,1013.4 403.8,1002.4 404.4,1013.3 405.1,1002.3 405.7,1013.7 406.4,1000.8 407.0,1012.7 407.7,998.0 408.3,1014.9 409.0,1001.6 409.6,1015.5 410.2,1000.7 410.9,1014.6 411.5,1001.3 412.2,1015.4 412.8,1004.1 413.5,1011.8 414.1,1001.6 414.8,1013.8 415.4,998.1 416.0,1013.9 416.7,1000.3 417.3,1013.3 418.0,995.0 418.6,1014.5 419.3,993.9 419.9,1014.3 420.6,1005.3 421.2,1012.9 421.8,1003.1 422.5,1014.0 423.1,1003.0 423.8,1012.4 424.4,1003.0 425.1,1014.4 425.7,1002.6 426.4,1014.6 427.0,1005.8 427.7,1016.7 428.3,1005.2 428.9,1017.1 429.6,1005.2 430.2,1016.2 430.9,1004.4 431.5,1017.2 432.2,1006.4 432.8,1018.9 433.5,1007.0 434.1,1019.0 434.7,1004.2 435.4,1019.3 436.0,1008.1 436.7,1019.5 437.3,1008.2 438.0,1018.4 438.6,1007.6 439.3,1018.0 439.9,1009.2 440.6,1016.5 441.2,1007.3 441.8,1016.5 442.5,1007.9 443.1,1015.0 443.8,1002.6 444.4,1013.6 445.1,1007.7 445.7,1013.9 446.4,1008.8 447.0,1016.3 447.6,1005.9 448.3,1016.7 448.9,1002.7 449.6,1016.0 450.2,1006.7 450.9,1014.5 451.5,1008.8 452.2,1019.5 452.8,1011.5 453.5,1016.1 454.1,1008.7 454.7,1017.7 455.4,1011.0 456.0,1016.6 456.7,1008.7 457.3,1015.0 458.0,1006.9 458.6,1014.7 459.3,1007.7 459.9,1013.4 460.5,1004.5 461.2,1014.9 461.8,1006.9 462.5,1013.7 463.1,1005.6 463.8,1015.2 464.4,1006.0 465.1,1013.0 465.7,1004.3 466.3,1013.6 467.0,1006.7 467.6,1014.8 468.3,1007.3 468.9,1012.8 469.6,1008.4 470.2,1017.1 470.9,1005.1 471.5,1014.7 472.2,1008.4 472.8,1016.7 473.4,1008.6 474.1,1019.3 474.7,1011.0 475.4,1017.8 476.0,1012.0 476.7,1017.8 477.3,1011.8 478.0,1020.0 478.6,1014.3 479.2,1021.6 479.9,1011.4 480.5,1021.8 481.2,1011.3 481.8,1020.2 482.5,1010.5 483.1,1020.9 483.8,1007.2 484.4,1021.1 485.1,1010.5 485.7,1022.6 486.3,1009.4 487.0,1020.0 487.6,1007.7 488.3,1020.2 488.9,1007.5 489.6,1022.2 490.2,1010.8 490.9,1019.7 491.5,1012.6 492.1,1020.8 492.8,1011.8 493.4,1021.6 494.1,1014.5 494.7,1022.7 495.4,1015.7 496.0,1025.3 496.7,1016.8 497.3,1025.9 498.0,1017.4 498.6,1026.8 499.2,1017.5 499.9,1027.3 500.5,1018.8 501.2,1025.9 501.8,1017.9 502.5,1024.6 503.1,1015.3 503.8,1023.0 504.4,1013.2 505.0,1023.8 505.7,1010.4 506.3,1022.3 507.0,1012.0 507.6,1021.3 508.3,1010.0 508.9,1021.8 509.6,1011.6 510.2,1019.7 510.8,1011.3 511.5,1021.2 512.1,1009.7 512.8,1020.0 513.4,1013.4 514.1,1020.0 514.7,1014.4 515.4,1020.3 516.0,1010.1 516.7,1020.9 517.3,1012.8 517.9,1021.8 518.6,1013.5 519.2,1021.6 519.9,1016.6 520.5,1024.5 521.2,1014.0 521.8,1023.1 522.5,1015.0 523.1,1023.4 523.7,1015.3 524.4,1024.8 525.0,1016.3 525.7,1024.4 526.3,1012.7 527.0,1023.5 527.6,1013.6 528.3,1026.8 528.9,1016.0 529.6,1025.5 530.2,1014.3 530.8,1027.2 531.5,1013.4 532.1,1025.3 532.8,1009.6 533.4,1024.8 534.1,1012.7 534.7,1025.2 535.4,1012.9 536.0,1023.7 536.6,1014.1 537.3,1024.2 537.9,1013.4 538.6,1025.9 539.2,1013.9 539.9,1026.7 540.5,1018.1 541.2,1025.2 541.8,1017.2 542.5,1027.6 543.1,1018.2 543.7,1027.7 544.4,1018.7 545.0,1027.0 545.7,1019.1 546.3,1026.3 547.0,1019.0 547.6,1027.1 548.3,1020.8 548.9,1023.6 549.5,1019.3 550.2,1024.5 550.8,1017.2 551.5,1024.8 552.1,1017.0 552.8,1026.4 553.4,1018.9 554.1,1025.3 554.7,1017.4 555.3,1023.7 556.0,1018.2 556.6,1024.3 557.3,1014.8 557.9,1024.1 558.6,1017.5 559.2,1025.8 559.9,1016.3 560.5,1024.9 561.2,1018.6 561.8,1024.9 562.4,1019.1 563.1,1025.0 563.7,1021.2 564.4,1027.5 565.0,1020.0 565.7,1025.5 566.3,1019.6 567.0,1027.1 567.6,1019.4 568.2,1026.0 568.9,1016.6 569.5,1026.1 570.2,1016.7 570.8,1026.1 571.5,1015.3 572.1,1025.2 572.8,1014.6 573.4,1025.6 574.1,1013.4 574.7,1023.4 575.3,1015.7 576.0,1022.9 576.6,1015.7 577.3,1022.6 577.9,1015.2 578.6,1023.1 579.2,1015.9 579.9,1022.8 580.5,1016.3 581.1,1024.0 581.8,1016.8 582.4,1022.6 583.1,1015.7 583.7,1024.3 584.4,1018.0 585.0,1022.9 585.7,1018.9 586.3,1026.0 587.0,1019.4 587.6,1025.4 588.2,1018.0 588.9,1027.4 589.5,1018.7 590.2,1027.1 590.8,1019.5 591.5,1026.8 592.1,1016.1 592.8,1027.9 593.4,1018.4 594.0,1026.9 594.7,1018.6 595.3,1027.6 596.0,1021.3 596.6,1029.4 597.3,1021.4 597.9,1030.4 598.6,1021.8 599.2,1031.2 599.8,1020.7 600.5,1031.0 601.1,1022.4 601.8,1031.6 602.4,1022.6 603.1,1031.7 603.7,1024.9 604.4,1031.8 605.0,1024.5 605.7,1031.9 606.3,1023.7 606.9,1028.4 607.6,1023.1 608.2,1027.7 608.9,1020.7 609.5,1025.8 610.2,1019.2 610.8,1025.1 611.5,1019.6 612.1,1024.1 612.7,1017.1 613.4,1023.7 614.0,1014.6 614.7,1023.9 615.3,1012.8 616.0,1021.7 616.6,1013.7 617.3,1021.9 617.9,1013.1 618.6,1023.6 619.2,1011.4 619.8,1019.7 620.5,1012.6 621.1,1020.8 621.8,1013.3 622.4,1021.6 623.1,1014.5 623.7,1021.1 624.4,1015.0 625.0,1022.1 625.6,1015.7 626.3,1023.4 626.9,1016.9 627.6,1023.5 628.2,1017.1 628.9,1023.0 629.5,1015.8 630.2,1024.5 630.8,1017.6 631.5,1025.9 632.1,1019.8 632.7,1026.8 633.4,1018.7 634.0,1031.5 634.7,1021.5 635.3,1032.4 636.0,1023.3 636.6,1031.8 637.3,1023.9 637.9,1031.2 638.5,1024.8 639.2,1031.5 639.8,1024.6 640.5,1031.1 641.1,1026.7 641.8,1031.9 642.4,1025.8 643.1,1031.3 643.7,1025.0 644.3,1030.8 645.0,1023.8 645.6,1029.6 646.3,1021.8 646.9,1030.0 647.6,1020.5 648.2,1029.6 648.9,1019.1 649.5,1029.0 650.2,1020.7 650.8,1029.4 651.4,1020.7 652.1,1031.1 652.7,1019.7 653.4,1029.3 654.0,1020.1 654.7,1028.5 655.3,1019.3 656.0,1026.5 656.6,1020.2 657.2,1026.8 657.9,1017.7 658.5,1026.3 659.2,1016.7 659.8,1024.6 660.5,1015.8 661.1,1021.7 661.8,1013.5 662.4,1021.9 663.1,1012.6 663.7,1018.4 664.3,1009.7 665.0,1017.8 665.6,1007.5 666.3,1015.9 666.9,1008.1 667.6,1016.1 668.2,1010.9 668.9,1020.9 669.5,1013.5 670.1,1023.1 670.8,1015.5 671.4,1026.3 672.1,1016.9 672.7,1026.5 673.4,1018.2 674.0,1029.0 674.7,1020.4 675.3,1028.7 675.9,1021.0 676.6,1028.2 677.2,1021.1 677.9,1029.5 678.5,1021.3 679.2,1029.8 679.8,1021.7 680.5,1028.7 681.1,1020.4 681.8,1029.6 682.4,1020.1 683.0,1028.3 683.7,1020.3 684.3,1027.7 685.0,1020.7 685.6,1026.9 686.3,1020.9 686.9,1028.3 687.6,1019.6 688.2,1025.7 688.8,1021.1 689.5,1027.1 690.1,1021.3 690.8,1025.2 691.4,1020.5 692.1,1025.9 692.7,1020.4 693.4,1025.5 694.0,1020.0 694.7,1025.8 695.3,1021.6 695.9,1027.6 696.6,1021.1 697.2,1027.3 697.9,1021.7 698.5,1025.0 699.2,1020.6 699.8,1028.7 700.5,1023.4 701.1,1028.0 701.7,1023.7 702.4,1028.1 703.0,1023.3 703.7,1028.2 704.3,1022.1 705.0,1029.4 705.6,1022.1 706.3,1029.7 706.9,1022.0 707.6,1028.2 708.2,1021.0 708.8,1029.8 709.5,1023.0 710.1,1030.8 710.8,1023.1 711.4,1031.0 712.1,1025.9 712.7,1033.4 713.4,1025.9 714.0,1031.4 714.6,1025.6 715.3,1033.6 715.9,1027.6 716.6,1032.3 717.2,1026.4 717.9,1033.0 718.5,1026.3 719.2,1032.9 719.8,1028.3 720.4,1035.0 721.1,1026.9 721.7,1033.8 722.4,1027.0 723.0,1034.1 723.7,1027.2 724.3,1032.4 725.0,1024.8 725.6,1033.0 726.3,1024.7 726.9,1032.9 727.5,1023.7 728.2,1032.0 728.8,1025.1 729.5,1031.8 730.1,1022.4 730.8,1030.5 731.4,1023.6 732.1,1031.0 732.7,1021.7 733.3,1028.5 734.0,1020.0 734.6,1027.3 735.3,1019.8 735.9,1025.4 736.6,1020.3 737.2,1025.3 737.9,1019.2 738.5,1025.0 739.2,1017.5 739.8,1025.8 740.4,1017.0 741.1,1024.2 741.7,1019.0 742.4,1025.1 743.0,1020.8 743.7,1024.3 744.3,1019.7 745.0,1026.3 745.6,1018.1 746.2,1025.6 746.9,1019.6 747.5,1024.9 748.2,1018.6 748.8,1024.9 749.5,1017.7 750.1,1025.4 750.8,1017.6 751.4,1023.9 752.1,1017.1 752.7,1023.9 753.3,1016.4 754.0,1023.6 754.6,1014.8 755.3,1022.8 755.9,1012.9 756.6,1020.2 757.2,1011.4 757.9,1018.3 758.5,1007.5 759.1,1013.1 759.8,999.7 760.4,1001.9 761.1,983.1 761.7,981.0 762.4,957.3 763.0,948.3 763.7,922.9 764.3,917.8 764.9,903.6 765.6,910.1 766.2,910.9 766.9,929.2 767.5,942.0 768.2,962.8 768.8,970.7 769.5,990.1 770.1,993.4 770.8,1007.5 771.4,1007.6 772.0,1016.9 772.7,1013.4 773.3,1020.9 774.0,1016.5 774.6,1024.1 775.3,1017.4 775.9,1023.4 776.6,1020.3 777.2,1024.4 777.8,1019.2 778.5,1026.3 779.1,1021.2 779.8,1026.9 780.4,1020.8 781.1,1026.9 781.7,1020.8 782.4,1025.9 783.0,1020.7 783.7,1027.6 784.3,1021.6 784.9,1029.1 785.6,1021.8 786.2,1026.5 786.9,1020.9 787.5,1028.3 788.2,1021.2 788.8,1027.9 789.5,1022.3 790.1,1028.4 790.7,1020.5 791.4,1028.2 792.0,1021.4 792.7,1028.5 793.3,1021.3 794.0,1028.8 794.6,1021.1 795.3,1029.7 795.9,1022.3 796.6,1028.6 797.2,1020.2 797.8,1028.8 798.5,1021.0 799.1,1027.7 799.8,1020.2 800.4,1027.2 801.1,1022.7 801.7,1028.3 802.4,1020.2 803.0,1028.3 803.6,1021.4 804.3,1029.1 804.9,1021.7 805.6,1028.5 806.2,1023.5 806.9,1029.4 807.5,1022.4 808.2,1029.5 808.8,1022.9 809.4,1031.3 810.1,1024.9 810.7,1031.6 811.4,1023.7 812.0,1030.2 812.7,1023.5 813.3,1032.2 814.0,1021.0 814.6,1032.4 815.3,1021.0 815.9,1032.6 816.5,1021.3 817.2,1030.5 817.8,1021.1 818.5,1031.0 819.1,1021.4 819.8,1028.9 820.4,1019.5 821.1,1027.8 821.7,1021.6 822.3,1028.9 823.0,1018.6 823.6,1028.8 824.3,1021.1 824.9,1028.0 825.6,1018.0 826.2,1026.1 826.9,1019.2 827.5,1025.7 828.2,1019.0 828.8,1024.6 829.4,1014.4 830.1,1021.1 830.7,1011.3 831.4,1020.2 832.0,1009.7 832.7,1015.1 833.3,1007.9 834.0,1013.3 834.6,1007.3 835.2,1015.5 835.9,1008.4 836.5,1015.1 837.2,1010.5 837.8,1019.2 838.5,1013.6 839.1,1023.8 839.8,1016.0 840.4,1026.4 841.1,1015.8 841.7,1027.5 842.3,1017.8 843.0,1028.1 843.6,1019.1 844.3,1026.7 844.9,1019.3 845.6,1030.1 846.2,1021.5 846.9,1030.8 847.5,1022.5 848.1,1030.4 848.8,1021.8 849.4,1031.2 850.1,1020.9 850.7,1030.1 851.4,1021.7 852.0,1030.3 852.7,1022.6 853.3,1029.8 853.9,1021.3 854.6,1027.3 855.2,1019.4 855.9,1025.7 856.5,1017.3 857.2,1021.6 857.8,1014.9 858.5,1019.4 859.1,1012.1 859.8,1018.1 860.4,1009.4 861.0,1014.9 861.7,1008.0 862.3,1016.4 863.0,1008.9 863.6,1019.2 864.3,1010.8 864.9,1019.6 865.6,1012.5 866.2,1020.9 866.8,1012.5 867.5,1024.5 868.1,1014.3 868.8,1026.6 869.4,1017.5 870.1,1027.2 870.7,1019.4 871.4,1028.7 872.0,1021.2 872.7,1028.8 873.3,1022.5 873.9,1028.5 874.6,1022.3 875.2,1029.3 875.9,1022.9 876.5,1032.1 877.2,1022.4 877.8,1030.9 878.5,1021.8 879.1,1029.1 879.7,1021.3 880.4,1028.4 881.0,1021.8 881.7,1028.8 882.3,1022.4 883.0,1029.6 883.6,1020.8 884.3,1027.9 884.9,1019.6 885.5,1026.7 886.2,1020.0 886.8,1027.3 887.5,1017.2 888.1,1025.1 888.8,1017.2 889.4,1025.2 890.1,1018.6 890.7,1025.0 891.4,1016.5 892.0,1025.5 892.6,1016.9 893.3,1025.0 893.9,1019.4 894.6,1023.3 895.2,1018.9 895.9,1023.9 896.5,1018.4 897.2,1024.4 897.8,1017.0 898.4,1024.5 899.1,1017.5 899.7,1025.7 900.4,1015.9 901.0,1024.5 901.7,1017.8 902.3,1026.1 903.0,1016.0 903.6,1027.3 904.3,1018.2 904.9,1026.1 905.5,1019.9 906.2,1027.3 906.8,1021.1 907.5,1027.7 908.1,1019.1 908.8,1027.2 909.4,1021.1 910.1,1027.2 910.7,1020.0 911.3,1025.7 912.0,1016.6 912.6,1024.8 913.3,1017.1 913.9,1027.3 914.6,1016.3 915.2,1024.8 915.9,1016.2 916.5,1023.5 917.2,1015.7 917.8,1024.1 918.4,1016.6 919.1,1025.0 919.7,1018.4 920.4,1025.1 921.0,1016.1 921.7,1024.1 922.3,1016.8 923.0,1021.6 923.6,1016.1 924.2,1019.9 924.9,1015.2 925.5,1020.6 926.2,1013.4 926.8,1018.8 927.5,1012.0 928.1,1018.9 928.8,1012.0 929.4,1017.9 930.0,1010.3 930.7,1015.6 931.3,1011.5 932.0,1017.4 932.6,1011.1 933.3,1017.1 933.9,1011.0 934.6,1016.1 935.2,1010.5 935.9,1013.9 936.5,1008.3 937.1,1011.7 937.8,1005.9 938.4,1011.4 939.1,1002.1 939.7,1008.4 940.4,1000.3 941.0,1006.0 941.7,997.9 942.3,1004.2 942.9,992.8 943.6,998.6 944.2,988.5 944.9,991.3 945.5,979.2 946.2,981.1 946.8,968.5 947.5,965.5 948.1,950.9 948.8,946.8 949.4,932.3 950.0,926.8 950.7,910.1 951.3,905.4 952.0,894.2 952.6,894.4 953.3,888.0 953.9,894.1 954.6,896.0 955.2,906.9 955.8,908.1 956.5,921.2 957.1,924.8 957.8,938.3 958.4,936.4 959.1,945.6 959.7,941.4 960.4,948.7 961.0,940.9 961.7,942.9 962.3,933.0 962.9,935.8 963.6,920.2 964.2,923.2 964.9,910.5 965.5,915.0 966.2,905.4 966.8,913.8 967.5,906.9 968.1,917.6 968.7,918.7 969.4,931.9 970.0,930.4 970.7,948.8 971.3,948.5 972.0,961.3 972.6,960.2 973.3,972.8 973.9,970.3 974.5,982.1 975.2,975.5 975.8,988.5 976.5,983.2 977.1,992.0 977.8,985.5 978.4,992.6 979.1,987.1 979.7,993.8 980.4,987.1 981.0,989.5 981.6,984.7 982.3,987.9 982.9,979.7 983.6,981.3 984.2,970.4 984.9,974.0 985.5,961.9 986.2,963.3 986.8,948.7 987.4,950.5 988.1,936.9 988.7,938.1 989.4,927.9 990.0,929.6 990.7,922.5 991.3,930.9 992.0,926.3 992.6,938.2 993.3,937.0 993.9,952.7 994.5,952.0 995.2,966.6 995.8,964.8 996.5,979.2 997.1,978.5 997.8,990.1 998.4,986.2 999.1,998.0 999.7,992.4 1000.3,1005.2 1001.0,997.8 1001.6,1006.0 1002.3,1001.3 1002.9,1009.7 1003.6,1003.1 1004.2,1011.9 1004.9,1006.7 1005.5,1012.7 1006.2,1006.5 1006.8,1015.0 1007.4,1007.7 1008.1,1016.5 1008.7,1010.5 1009.4,1017.4 1010.0,1010.2 1010.7,1018.9 1011.3,1013.0 1012.0,1020.7 1012.6,1013.1 M1048.2,1003.0 1048.8,1013.2 1049.5,1004.7 1050.1,1012.2 1050.8,1007.2 1051.4,1014.8 1052.1,1006.1 1052.7,1016.1 1053.4,1008.3 1054.0,1016.2 1054.7,1007.3 1055.3,1017.3 1055.9,1007.6 1056.6,1018.7 1057.2,1008.8 1057.9,1019.0 1058.5,1010.1 1059.2,1019.5 1059.8,1012.0 1060.5,1020.4 1061.1,1012.5 1061.7,1019.8 1062.4,1014.7 1063.0,1019.7 1063.7,1014.2 1064.3,1023.1 1065.0,1016.3 1065.6,1020.7 1066.3,1013.8 1066.9,1023.1 1067.6,1016.2 1068.2,1022.6 1068.8,1014.5 1069.5,1022.6 1070.1,1017.0 1070.8,1025.5 1071.4,1017.9 1072.1,1026.5 1072.7,1017.5 1073.4,1025.2 1074.0,1019.2 1074.7,1026.8 1075.3,1019.7 1075.9,1025.9 1076.6,1019.4 1077.2,1025.0 1077.9,1018.0 1078.5,1025.8 1079.2,1017.7 1079.8,1025.5 1080.5,1015.5 1081.1,1026.0 1081.7,1014.2 1082.4,1024.0 1083.0,1014.2 1083.7,1024.4 1084.3,1015.8 1085.0,1025.0 1085.6,1016.0 1086.3,1021.9 1086.9,1016.4 1087.6,1020.4 1088.2,1015.1 1088.8,1019.7 1089.5,1014.0 1090.1,1017.2 1090.8,1012.5 1091.4,1016.2 1092.1,1006.8 1092.7,1011.9 1093.4,1001.3 1094.0,1005.9 1094.6,993.0 1095.3,992.8 1095.9,974.4 1096.6,965.7 1097.2,932.8 1097.9,910.4 1098.5,870.2 1099.2,838.2 1099.8,785.8 1100.5,754.5 1101.1,715.1 1101.7,703.8 1102.4,692.4 1103.0,713.0 1103.7,730.9 1104.3,778.4 1105.0,809.5 1105.6,861.3 1106.3,890.1 1106.9,926.8 1107.6,944.4 1108.2,974.0 1108.8,978.4 1109.5,996.2 1110.1,995.1 1110.8,1007.5 1111.4,1003.8 1112.1,1013.8 1112.7,1007.2 1113.4,1016.6 1114.0,1009.8 1114.6,1020.7 1115.3,1010.4 1115.9,1019.7 1116.6,1012.0 1117.2,1017.4 1117.9,1011.0 1118.5,1018.8 1119.2,1010.3 1119.8,1019.1 1120.5,1010.6 1121.1,1019.0 1121.7,1009.5 1122.4,1018.7 1123.0,1011.2 1123.7,1018.5 1124.3,1011.3 1125.0,1017.7 1125.6,1009.8 1126.3,1017.1 1126.9,1010.5 1127.6,1016.2 1128.2,1009.4 1128.8,1014.1 1129.5,1007.8 1130.1,1013.8 1130.8,1008.4 1131.4,1012.8 1132.1,1007.3 1132.7,1012.2 1133.4,1006.2 1134.0,1012.4 1134.6,1004.6 1135.3,1012.8 1135.9,1004.1 1136.6,1011.3 1137.2,1003.9 1137.9,1012.7 1138.5,1004.4 1139.2,1013.1 1139.8,1006.5 1140.5,1012.4 1141.1,1007.2 1141.7,1013.7 1142.4,1008.1 1143.0,1015.4 1143.7,1008.8 1144.3,1016.9 1145.0,1009.3 1145.6,1019.0 1146.3,1012.1 1146.9,1019.4 1147.6,1014.2 1148.2,1022.4 1148.8,1016.4 1149.5,1022.4 1150.1,1018.8 1150.8,1025.7 1151.4,1019.7 1152.1,1028.0 1152.7,1022.3 1153.4,1028.4 1154.0,1022.6 1154.6,1029.0 1155.3,1024.3 1155.9,1030.9 1156.6,1024.9 1157.2,1034.1 1157.9,1025.2 1158.5,1030.9 1159.2,1025.0 1159.8,1032.0 1160.5,1024.1 1161.1,1030.8 1161.7,1024.0 1162.4,1032.1 1163.0,1021.9 1163.7,1030.2 1164.3,1020.9 1165.0,1029.1 1165.6,1022.3 1166.3,1030.0 1166.9,1022.4 1167.5,1030.2 1168.2,1023.0 1168.8,1029.7 1169.5,1023.3 1170.1,1032.3 1170.8,1025.5 1171.4,1032.6 1172.1,1024.1 1172.7,1033.9 1173.4,1024.6 1174.0,1032.9 1174.6,1025.0 1175.3,1031.2 1175.9,1023.9 1176.6,1030.8 1177.2,1024.3 1177.9,1029.9 1178.5,1025.8 1179.2,1028.5 1179.8,1024.7 1180.5,1027.7 1181.1,1023.9 1181.7,1028.3 1182.4,1022.5 1183.0,1028.5 1183.7,1020.3 1184.3,1027.8 1185.0,1021.4 1185.6,1026.9 1186.3,1021.3 1186.9,1026.3 1187.5,1019.5 1188.2,1026.6 1188.8,1019.9 1189.5,1025.4 1190.1,1017.6 1190.8,1025.1 1191.4,1015.9 1192.1,1024.1 1192.7,1015.9 1193.4,1019.5 1194.0,1011.0 1194.6,1015.3 1195.3,1007.6 1195.9,1010.4 1196.6,1003.3 1197.2,1007.3 1197.9,1002.4 1198.5,1006.0 1199.2,1001.5 1199.8,1009.1 1200.5,1004.1 1201.1,1013.9 1201.7,1009.7 1202.4,1019.7 1203.0,1013.0 1203.7,1022.7 1204.3,1017.5 1205.0,1023.9 1205.6,1020.0 1206.3,1026.1 1206.9,1021.4 1207.5,1025.0 1208.2,1021.6 1208.8,1025.8 1209.5,1021.2 1210.1,1027.0 1210.8,1022.3 1211.4,1028.4 1212.1,1022.7 1212.7,1030.1 1213.4,1023.5 1214.0,1032.6 1214.6,1024.1 1215.3,1032.9 1215.9,1025.9 1216.6,1034.1 1217.2,1027.2 1217.9,1033.5 1218.5,1027.1 1219.2,1035.6 1219.8,1029.0 1220.5,1034.3 1221.1,1027.8 1221.7,1035.1 1222.4,1029.7 1223.0,1034.4 1223.7,1030.0 1224.3,1034.4 1225.0,1029.4 1225.6,1033.4 1226.3,1028.2 1226.9,1032.6 1227.5,1028.3 1228.2,1033.1 1228.8,1028.3 1229.5,1033.4 1230.1,1029.7 1230.8,1034.2 1231.4,1028.7 1232.1,1034.2 1232.7,1030.2 1233.4,1034.1 1234.0,1030.1 1234.6,1034.3 1235.3,1030.4 1235.9,1034.4 1236.6,1031.5 1237.2,1033.8 1237.9,1030.6 1238.5,1035.2 1239.2,1029.0 1239.8,1034.0 1240.4,1029.2 1241.1,1033.9 1241.7,1028.5 1242.4,1035.2 1243.0,1029.3 1243.7,1033.1 1244.3,1028.3 1245.0,1033.5 1245.6,1028.7 1246.3,1032.6 1246.9,1027.8 1247.5,1032.6 1248.2,1028.9 1248.8,1034.0 1249.5,1028.5 1250.1,1033.8 1250.8,1028.3 1251.4,1034.7 1252.1,1027.0 1252.7,1033.8 1253.4,1027.9 1254.0,1034.9 1254.6,1026.8 1255.3,1034.1 1255.9,1027.2 1256.6,1033.6 1257.2,1026.9 1257.9,1035.1 1258.5,1026.9 1259.2,1033.6 1259.8,1028.3 1260.4,1035.8 1261.1,1028.5 1261.7,1035.9 1262.4,1029.5 1263.0,1035.1 1263.7,1029.2 1264.3,1036.5 1265.0,1030.1 1265.6,1036.9 1266.3,1030.7 1266.9,1037.2 1267.5,1030.6 1268.2,1036.8 1268.8,1029.8 1269.5,1035.4 1270.1,1029.4 1270.8,1037.4 1271.4,1029.2 1272.1,1034.7 1272.7,1028.4 1273.4,1036.6 1274.0,1031.1 1274.6,1035.7 1275.3,1030.5 1275.9,1037.2 1276.6,1031.6 1277.2,1036.6 1277.9,1032.5 1278.5,1038.2 1279.2,1031.6 1279.8,1035.7 1280.4,1032.1 1281.1,1036.7 1281.7,1031.0 1282.4,1037.5 1283.0,1030.3 1283.7,1037.1 1284.3,1029.7 1285.0,1036.7 1285.6,1029.9 1286.3,1035.9 1286.9,1029.4 1287.5,1036.9 1288.2,1030.3 1288.8,1036.5 1289.5,1029.5 1290.1,1037.7 1290.8,1028.6 1291.4,1037.3 1292.1,1029.8 1292.7,1037.9 1293.4,1030.4 1294.0,1039.2 1294.6,1031.4 1295.3,1037.5 1295.9,1029.8 1296.6,1038.5 1297.2,1030.2 1297.9,1036.7 1298.5,1031.2 1299.2,1037.5 1299.8,1030.9 1300.4,1036.4 1301.1,1030.9 1301.7,1038.0 1302.4,1030.8 1303.0,1037.7 1303.7,1030.5 1304.3,1037.6 1305.0,1030.6 1305.6,1037.5 1306.3,1030.8 1306.9,1037.1 1307.5,1032.2 1308.2,1038.5 1308.8,1030.7 1309.5,1037.8 1310.1,1029.2 1310.8,1035.9 1311.4,1029.7 1312.1,1037.4 1312.7,1030.4 1313.3,1036.4 1314.0,1028.9 1314.6,1036.6 1315.3,1030.1 1315.9,1037.2 1316.6,1028.8 1317.2,1036.4 1317.9,1029.6 1318.5,1035.6 1319.2,1031.0 1319.8,1037.6 1320.4,1030.1 1321.1,1035.7 1321.7,1030.3 1322.4,1035.6 1323.0,1028.8 1323.7,1036.1 1324.3,1028.1 1325.0,1034.8 1325.6,1029.0 1326.3,1034.5 1326.9,1027.9 1327.5,1033.0 1328.2,1028.5 1328.8,1033.4 1329.5,1027.5 1330.1,1032.2 1330.8,1026.0 1331.4,1032.8 1332.1,1027.0 1332.7,1032.8 1333.3,1026.9 1334.0,1034.1 1334.6,1028.8 1335.3,1035.8 1335.9,1028.1 1336.6,1037.6 1337.2,1029.0 1337.9,1038.6 1338.5,1031.6 1339.2,1038.4 1339.8,1032.0 1340.4,1039.6 1341.1,1034.0 1341.7,1040.0 1342.4,1034.3 1343.0,1039.3 1343.7,1032.7 1344.3,1039.8 1345.0,1033.1 1345.6,1040.3 1346.3,1032.9 1346.9,1038.7 1347.5,1031.2 1348.2,1039.5 1348.8,1032.3 1349.5,1038.7 1350.1,1032.6 1350.8,1038.1 1351.4,1032.0 1352.1,1036.8 1352.7,1029.7 1353.3,1037.7 1354.0,1029.2 1354.6,1036.8 1355.3,1030.3 1355.9,1037.7 1356.6,1031.3 1357.2,1037.5 1357.9,1030.9 1358.5,1036.9 1359.2,1030.8 1359.8,1037.6 1360.4,1030.6 1361.1,1037.3 1361.7,1030.8 1362.4,1037.3 1363.0,1031.5 1363.7,1037.9 1364.3,1032.4 1365.0,1036.8 1365.6,1030.7 1366.3,1036.0 1366.9,1031.1 1367.5,1038.4 1368.2,1033.5 1368.8,1038.2 1369.5,1032.6 1370.1,1037.8 1370.8,1030.4 1371.4,1037.3 1372.1,1031.5 1372.7,1037.2 1373.3,1031.6 1374.0,1035.9 1374.6,1030.8 1375.3,1037.6 1375.9,1030.8 1376.6,1038.1 1377.2,1030.3 1377.9,1037.8 1378.5,1032.4 1379.2,1038.5 1379.8,1031.7 1380.4,1039.2 1381.1,1032.3 1381.7,1038.0 1382.4,1032.2 1383.0,1036.9 1383.7,1033.1 1384.3,1038.0 1385.0,1032.4 1385.6,1038.9 1386.2,1033.3 1386.9,1038.2 1387.5,1030.9 1388.2,1037.5 1388.8,1031.9 1389.5,1037.0 1390.1,1030.7 1390.8,1035.1 1391.4,1030.7 1392.1,1035.5 1392.7,1029.7 1393.3,1034.1 1394.0,1029.6 1394.6,1034.4 1395.3,1029.7 1395.9,1032.7 1396.6,1028.2 1397.2,1032.6 1397.9,1028.6 1398.5,1031.3 1399.2,1027.4 1399.8,1030.6 1400.4,1027.7 1401.1,1030.5 1401.7,1026.5 1402.4,1030.3 1403.0,1024.5 1403.7,1028.9 1404.3,1023.0 1405.0,1028.4 1405.6,1021.6 1406.2,1029.3 1406.9,1021.8 1407.5,1027.1 1408.2,1021.5 1408.8,1028.2 1409.5,1021.2 1410.1,1026.1 1410.8,1020.5 1411.4,1025.2 1412.1,1019.8 1412.7,1024.5 1413.3,1017.4 1414.0,1023.6 1414.6,1014.5 1415.3,1018.6 1415.9,1010.9 1416.6,1013.9 1417.2,1007.4 1417.9,1010.2 1418.5,1001.6 1419.2,1004.9 1419.8,997.0 1420.4,1002.7 1421.1,998.1 1421.7,1005.5 1422.4,999.6 1423.0,1010.5 1423.7,1005.6 1424.3,1018.5 1425.0,1012.2 1425.6,1022.4 1426.2,1017.4 1426.9,1026.6 1427.5,1020.8 1428.2,1029.2 1428.8,1024.6 1429.5,1032.3 1430.1,1026.1 1430.8,1032.1 1431.4,1025.6 1432.1,1032.6 1432.7,1026.4 1433.3,1033.1 1434.0,1026.4 1434.6,1032.2 1435.3,1025.2 1435.9,1033.9 1436.6,1028.0 1437.2,1033.4 1437.9,1026.4 1438.5,1034.6 1439.2,1025.5 1439.8,1033.2 1440.4,1028.3 1441.1,1034.3 1441.7,1028.2 1442.4,1033.8 1443.0,1029.3 1443.7,1034.7 1444.3,1029.7 1445.0,1033.9 1445.6,1028.6 1446.2,1034.6 1446.9,1028.7 1447.5,1034.3 1448.2,1027.6 1448.8,1034.0 1449.5,1026.3 1450.1,1033.7 1450.8,1025.3 1451.4,1030.3 1452.1,1024.4 1452.7,1030.7 1453.3,1024.0 1454.0,1030.3 1454.6,1021.3 1455.3,1027.4 1455.9,1017.1 1456.6,1018.8 1457.2,1003.8 1457.9,999.1 1458.5,975.9 1459.1,959.8 1459.8,922.9 1460.4,900.5 1461.1,868.2 1461.7,856.7 1462.4,846.2 1463.0,860.6 1463.7,874.2 1464.3,907.0 1465.0,924.6 1465.6,951.3 1466.2,953.6 1466.9,967.6 1467.5,961.3 1468.2,968.8 1468.8,963.7 1469.5,978.1 1470.1,979.6 1470.8,995.3 1471.4,998.2 1472.1,1014.3 1472.7,1013.0 1473.3,1023.8 1474.0,1019.6 1474.6,1029.8 1475.3,1024.5 1475.9,1030.5 1476.6,1025.1 1477.2,1031.9 1477.9,1026.3 1478.5,1031.1 1479.1,1024.4 1479.8,1031.2 1480.4,1024.6 1481.1,1032.4 1481.7,1022.9 1482.4,1032.3 1483.0,1025.1 1483.7,1032.6 1484.3,1024.6 1485.0,1030.9 1485.6,1023.1 1486.2,1028.7 1486.9,1024.7 1487.5,1029.4 1488.2,1024.2 1488.8,1028.8 1489.5,1023.3 1490.1,1028.9 1490.8,1024.4 1491.4,1029.4 1492.1,1023.9 1492.7,1029.1 1493.3,1025.5 1494.0,1030.2 1494.6,1026.2 1495.3,1030.8 1495.9,1027.2 1496.6,1031.5 1497.2,1026.2 1497.9,1031.2 1498.5,1026.1 1499.1,1032.0 1499.8,1025.5 1500.4,1029.6 1501.1,1022.9 1501.7,1025.9 1502.4,1018.8 1503.0,1020.4 1503.7,1013.0 1504.3,1016.4 1505.0,1006.7 1505.6,1008.2 1506.2,998.0 1506.9,1003.4 1507.5,994.6 1508.2,998.9 1508.8,993.7 1509.5,1002.1 1510.1,996.8 1510.8,1007.1 1511.4,1004.7 1512.1,1012.8 1512.7,1012.7 1513.3,1019.9 1514.0,1016.4 1514.6,1024.1 1515.3,1021.2 1515.9,1027.1 1516.6,1023.8 1517.2,1029.1 1517.9,1023.2 1518.5,1028.9 1519.1,1024.0 1519.8,1031.2 1520.4,1024.9 1521.1,1030.8 1521.7,1024.7 1522.4,1029.9 1523.0,1024.4 1523.7,1031.8 1524.3,1025.4 1525.0,1031.5 1525.6,1025.9 1526.2,1031.8 1526.9,1026.6 1527.5,1032.3 1528.2,1026.3 1528.8,1033.1 1529.5,1026.8 1530.1,1032.1 1530.8,1026.9 1531.4,1033.6 1532.0,1025.5 1532.7,1033.6 1533.3,1024.6 1534.0,1032.4 1534.6,1024.3 1535.3,1029.8 1535.9,1021.7 1536.6,1028.8 1537.2,1019.2 1537.9,1024.7 1538.5,1016.8 1539.1,1022.0 1539.8,1014.0 1540.4,1021.3 1541.1,1013.7 1541.7,1021.9 1542.4,1014.1 1543.0,1022.9 1543.7,1014.8 1544.3,1022.2 1545.0,1015.6 1545.6,1024.8 1546.2,1019.4 1546.9,1025.2 1547.5,1019.3 1548.2,1026.2 1548.8,1020.9 1549.5,1028.1 1550.1,1021.8 1550.8,1028.9 1551.4,1022.2 1552.0,1029.5 1552.7,1023.8 1553.3,1029.8 1554.0,1023.6 1554.6,1030.6 1555.3,1022.0 1555.9,1031.0 1556.6,1023.7 1557.2,1030.9 1557.9,1023.5 1558.5,1033.6 1559.1,1022.7 1559.8,1030.9 1560.4,1023.9 1561.1,1033.4 1561.7,1025.4 1562.4,1034.1 1563.0,1026.5 1563.7,1034.8 1564.3,1027.8 1565.0,1034.9 1565.6,1029.0 1566.2,1037.0 1566.9,1030.0 1567.5,1037.6 1568.2,1030.6 1568.8,1037.4 1569.5,1030.4 1570.1,1038.4 1570.8,1031.7 1571.4,1036.5 1572.0,1030.1 1572.7,1035.6 1573.3,1030.7 1574.0,1036.3 1574.6,1029.5 1575.3,1034.4 1575.9,1028.5 1576.6,1034.6 1577.2,1029.3 1577.9,1033.1 1578.5,1029.9 1579.1,1036.4 1579.8,1027.9 1580.4,1035.8 1581.1,1028.0 1581.7,1033.5 1582.4,1027.8 1583.0,1033.3 1583.7,1025.8 1584.3,1032.3 1585.0,1025.3 1585.6,1030.4 1586.2,1024.8 1586.9,1028.3 1587.5,1022.5 1588.2,1027.8 1588.8,1022.0 1589.5,1027.1 1590.1,1023.2 1590.8,1029.1 1591.4,1024.2 1592.0,1031.0 1592.7,1024.9 1593.3,1032.5 1594.0,1028.5 1594.6,1034.7 1595.3,1028.4 1595.9,1034.6 1596.6,1028.5 1597.2,1033.4 1597.9,1027.7 1598.5,1034.2 1599.1,1027.6 1599.8,1032.7 1600.4,1027.1 1601.1,1034.0 1601.7,1025.3 1602.4,1032.6 1603.0,1024.3 1603.7,1030.0 1604.3,1024.3 1604.9,1028.6 1605.6,1023.0 1606.2,1028.7 1606.9,1021.4 1607.5,1028.6 1608.2,1021.2 1608.8,1026.3 1609.5,1021.3 1610.1,1027.7 1610.8,1018.1 1611.4,1027.5 1612.0,1019.2 1612.7,1026.0 1613.3,1019.7 1614.0,1027.5 1614.6,1018.8 1615.3,1027.3 1615.9,1020.3 1616.6,1027.1 1617.2,1021.9 1617.9,1027.3 1618.5,1021.1 1619.1,1028.2 1619.8,1023.1 1620.4,1027.5 1621.1,1022.4 1621.7,1027.0 1622.4,1022.6 1623.0,1026.7 1623.7,1020.2 1624.3,1027.4 1624.9,1019.5 1625.6,1025.5 1626.2,1017.3 1626.9,1024.2 1627.5,1015.6 1628.2,1024.5 1628.8,1016.5 1629.5,1021.5 1630.1,1014.5 1630.8,1020.6 1631.4,1013.9 1632.0,1020.0 1632.7,1016.6 1633.3,1023.4 1634.0,1017.6 1634.6,1025.6 1635.3,1019.6 1635.9,1028.1 1636.6,1021.1 1637.2,1029.6 1637.9,1023.5 1638.5,1029.7 1639.1,1021.7 1639.8,1030.8 1640.4,1023.6 1641.1,1029.2 1641.7,1025.2 1642.4,1030.5 1643.0,1024.3 1643.7,1030.7 1644.3,1027.8 1644.9,1030.3 1645.6,1027.1 1646.2,1032.0 1646.9,1027.4 1647.5,1033.5 1648.2,1029.7 1648.8,1034.7 1649.5,1028.8 1650.1,1034.0 1650.8,1030.1 1651.4,1034.8 1652.0,1030.8 1652.7,1036.0 1653.3,1030.9 1654.0,1034.7 1654.6,1030.5 1655.3,1035.1 1655.9,1029.9 1656.6,1035.2 1657.2,1029.4 1657.9,1034.0 1658.5,1030.7 1659.1,1035.7 1659.8,1031.1 1660.4,1036.9 1661.1,1030.5 1661.7,1038.5 1662.4,1031.4 1663.0,1037.2 1663.7,1032.5 1664.3,1038.2 1664.9,1032.4 1665.6,1039.0 1666.2,1033.3 1666.9,1037.7 1667.5,1032.2 1668.2,1039.5 1668.8,1032.8 1669.5,1039.5 1670.1,1033.9 1670.8,1041.1 1671.4,1034.6 1672.0,1040.2 1672.7,1034.1 1673.3,1041.0 1674.0,1034.9 1674.6,1040.5 1675.3,1034.2 1675.9,1040.4 1676.6,1033.9 1677.2,1039.5 1677.8,1032.2 1678.5,1037.9 1679.1,1032.3 1679.8,1038.3 1680.4,1033.2 1681.1,1037.9 1681.7,1030.5 1682.4,1038.5 1683.0,1030.5 1683.7,1037.4 1684.3,1030.0 1684.9,1037.8 1685.6,1028.8 1686.2,1036.9 1686.9,1028.8 1687.5,1036.5 1688.2,1028.9 1688.8,1035.7 1689.5,1027.4 1690.1,1037.3 1690.8,1028.2 1691.4,1036.5 1692.0,1027.9 1692.7,1035.7 1693.3,1030.2 1694.0,1036.9 1694.6,1030.3 1695.3,1035.7 1695.9,1031.7 1696.6,1035.3 1697.2,1031.5 1697.8,1035.9 1698.5,1030.7 1699.1,1037.1 1699.8,1031.3 1700.4,1035.2 1701.1,1029.9 1701.7,1035.2 1702.4,1028.0 1703.0,1035.5 1703.7,1027.8 1704.3,1035.5 1704.9,1026.7 1705.6,1034.9 1706.2,1026.9 1706.9,1035.5 1707.5,1025.3 1708.2,1034.4 1708.8,1026.4 1709.5,1033.1 1710.1,1027.7 1710.8,1033.1 1711.4,1027.4 1712.0,1031.8 1712.7,1025.9 1713.3,1033.5 1714.0,1025.6 1714.6,1031.1 1715.3,1025.5 1715.9,1032.1 1716.6,1025.0 1717.2,1033.1 1717.8,1026.0 1718.5,1032.0 1719.1,1026.2 1719.8,1032.6 1720.4,1027.4 1721.1,1033.2 1721.7,1027.2 1722.4,1035.6 1723.0,1029.2 1723.7,1036.1 1724.3,1028.8 1724.9,1035.6 1725.6,1029.7 1726.2,1035.5 1726.9,1031.0 1727.5,1035.5 1728.2,1030.8 1728.8,1035.9 1729.5,1029.9 1730.1,1035.8 1730.8,1029.3 1731.4,1034.3 1732.0,1028.1 1732.7,1035.5 1733.3,1026.8 1734.0,1033.2 1734.6,1026.3 1735.3,1034.6 1735.9,1027.1 1736.6,1034.5 1737.2,1028.1 1737.8,1033.9 1738.5,1027.3 1739.1,1034.3 1739.8,1026.6 1740.4,1034.7 1741.1,1026.9 1741.7,1033.1 1742.4,1026.4 1743.0,1034.6 1743.7,1027.3 1744.3,1034.1 1744.9,1026.5 1745.6,1035.4 1746.2,1024.7 1746.9,1034.1 1747.5,1026.6 1748.2,1033.8 1748.8,1026.5 1749.5,1033.5 1750.1,1026.2 1750.7,1033.2 1751.4,1026.4 1752.0,1032.8 1752.7,1025.3 1753.3,1031.5 1754.0,1026.5 1754.6,1032.6 1755.3,1027.9 1755.9,1030.8 1756.6,1027.4 1757.2,1032.8 1757.8,1028.6 1758.5,1032.8 1759.1,1029.9 1759.8,1036.2 1760.4,1030.6 1761.1,1035.9 1761.7,1030.2 1762.4,1035.8 1763.0,1030.7 1763.7,1036.6 1764.3,1031.2 1764.9,1034.9 1765.6,1028.2 1766.2,1031.7 1766.9,1025.0 1767.5,1027.0 1768.2,1018.7 1768.8,1020.9 1769.5,1013.4 1770.1,1016.5 1770.7,1009.8 1771.4,1014.0 1772.0,1012.4 1772.7,1019.6 1773.3,1018.5 1774.0,1024.6 1774.6,1023.2 1775.3,1029.0 1775.9,1025.6 1776.6,1029.6 1777.2,1028.3 1777.8,1032.4 1778.5,1027.2 1779.1,1032.8 1779.8,1028.1 1780.4,1034.2 1781.1,1027.4 1781.7,1035.6 1782.4,1025.7 1783.0,1034.8 1783.7,1025.2 1784.3,1034.5 1784.9,1025.3 1785.6,1034.0 1786.2,1024.7 1786.9,1032.1 1787.5,1025.0 1788.2,1030.9 1788.8,1023.1 1789.5,1031.1 1790.1,1023.8 1790.7,1030.9 1791.4,1022.9 1792.0,1030.3 1792.7,1023.7 1793.3,1029.4 1794.0,1021.9 1794.6,1030.8 1795.3,1023.6 1795.9,1030.0 1796.6,1021.6 1797.2,1027.4 1797.8,1022.5 1798.5,1028.1 1799.1,1022.3 1799.8,1027.7 1800.4,1021.5 1801.1,1027.5 1801.7,1021.3 1802.4,1025.5 1803.0,1018.9 1803.7,1024.1 1804.3,1018.8 1804.9,1025.2 1805.6,1017.2 1806.2,1022.9 1806.9,1017.9 1807.5,1022.8 1808.2,1016.7 1808.8,1022.9 1809.5,1016.2 1810.1,1025.0 1810.7,1017.8 1811.4,1025.8 1812.0,1018.3 1812.7,1027.5 1813.3,1020.3 1814.0,1028.3 1814.6,1022.3 1815.3,1029.7 1815.9,1022.0 1816.6,1029.9 1817.2,1023.2 1817.8,1030.1 1818.5,1024.2 1819.1,1031.1 1819.8,1025.1 1820.4,1030.3 1821.1,1024.3 1821.7,1030.9 1822.4,1025.4 1823.0,1030.8 1823.6,1026.6 1824.3,1032.5 1824.9,1026.5 1825.6,1030.2 1826.2,1026.7 1826.9,1032.5 1827.5,1027.1 1828.2,1029.9 1828.8,1025.5 1829.5,1031.3 1830.1,1025.7 1830.7,1031.2 1831.4,1026.2 1832.0,1032.7 1832.7,1025.0 1833.3,1032.4 1834.0,1026.9 1834.6,1035.4 1835.3,1028.0 1835.9,1034.2 1836.6,1026.7 1837.2,1035.6 1837.8,1027.4 1838.5,1032.9 1839.1,1028.2 1839.8,1034.9 1840.4,1028.4 1841.1,1033.8 1841.7,1027.4 1842.4,1034.0 1843.0,1027.6 1843.6,1033.5 1844.3,1028.0 1844.9,1033.1 1845.6,1026.6 1846.2,1033.0 1846.9,1026.2 1847.5,1033.1 1848.2,1025.8 1848.8,1031.9 1849.5,1026.5 1850.1,1032.9 1850.7,1026.6 1851.4,1033.6 1852.0,1027.2 1852.7,1033.5 1853.3,1026.1 1854.0,1033.8 1854.6,1028.3 1855.3,1034.8 1855.9,1029.8 1856.6,1033.4 1857.2,1029.8 1857.8,1034.7 1858.5,1029.2 1859.1,1033.8 1859.8,1028.2 1860.4,1032.8 1861.1,1030.7 1861.7,1034.9 1862.4,1029.4 1863.0,1033.2 1863.6,1029.1 1864.3,1033.4 1864.9,1027.4 1865.6,1033.8 1866.2,1027.2 1866.9,1033.2 1867.5,1026.4 1868.2,1033.6 1868.8,1024.9 1869.5,1034.1 1870.1,1026.9 1870.7,1033.8 1871.4,1025.0 1872.0,1032.8 1872.7,1023.5 1873.3,1033.2 1874.0,1024.6 1874.6,1031.4 1875.3,1024.3 1875.9,1031.3 1876.6,1025.3 1877.2,1030.3 1877.8,1025.0 1878.5,1030.5 1879.1,1024.9 1879.8,1029.8 1880.4,1025.8 1881.1,1030.8 1881.7,1026.2 1882.4,1032.0 1883.0,1026.4 1883.6,1031.2 1884.3,1026.0 1884.9,1030.3 1885.6,1026.8 1886.2,1031.7 1886.9,1025.0 1887.5,1032.0 1888.2,1024.4 1888.8,1031.5 1889.5,1025.4 1890.1,1030.5 1890.7,1025.4 1891.4,1030.6 1892.0,1025.2 1892.7,1030.5 1893.3,1025.5 1894.0,1031.2 1894.6,1023.8 1895.3,1031.8 1895.9,1022.0 1896.5,1029.8 1897.2,1022.5 1897.8,1031.0 1898.5,1022.6 1899.1,1030.1 1899.8,1021.3 1900.4,1029.2 1901.1,1018.8 1901.7,1025.4 1902.4,1017.4 1903.0,1026.3 1903.6,1014.7 1904.3,1023.8 1904.9,1011.5 1905.6,1021.3 1906.2,1010.7 1906.9,1018.8 1907.5,1008.9 1908.2,1017.2 1908.8,1009.3 1909.5,1020.1 1910.1,1013.5 1910.7,1022.0 1911.4,1015.0 1912.0,1021.8 1912.7,1017.9 1913.3,1024.1 1914.0,1016.7 1914.6,1023.2 1915.3,1017.0 1915.9,1021.4 1916.5,1013.4 1917.2,1022.1 1917.8,1015.7 1918.5,1021.1 1919.1,1015.9 1919.8,1027.0 1920.4,1015.1 1921.1,1021.2 1921.7,1015.7 1922.4,1024.6 1923.0,1014.0 M1956.6,1010.5 1957.2,1016.1 1957.9,1009.1 1958.5,1016.7 1959.2,1013.0 1959.8,1019.7 1960.5,1015.0 1961.1,1024.2 1961.8,1015.1 1962.4,1025.3 1963.1,1016.1 1963.7,1025.0 1964.3,1014.7 1965.0,1027.0 1965.6,1017.3 1966.3,1027.3 1966.9,1017.9 1967.6,1026.3 1968.2,1020.2 1968.9,1027.6 1969.5,1019.3 1970.2,1027.2 1970.8,1018.8 1971.4,1027.8 1972.1,1020.2 1972.7,1027.7 1973.4,1018.4 1974.0,1028.4 1974.7,1019.1 1975.3,1027.9 1976.0,1021.1 1976.6,1027.3 1977.2,1019.8 1977.9,1025.0 1978.5,1019.7 1979.2,1026.1 1979.8,1020.1 1980.5,1026.6 1981.1,1020.3 1981.8,1027.4 1982.4,1019.8 1983.1,1025.6 1983.7,1020.2 1984.3,1028.8 1985.0,1020.1 1985.6,1027.8 1986.3,1022.5 1986.9,1027.7 1987.6,1022.9 1988.2,1027.1 1988.9,1023.6 1989.5,1029.2 1990.2,1024.2 1990.8,1030.3 1991.4,1023.9 1992.1,1031.4 1992.7,1025.8 1993.4,1032.2 1994.0,1026.5 1994.7,1032.7 1995.3,1025.3 1996.0,1032.4 1996.6,1025.3 1997.3,1032.8 1997.9,1023.9 1998.5,1035.1 1999.2,1025.1 1999.8,1033.1 2000.5,1025.8 2001.1,1032.7 2001.8,1026.3 2002.4,1033.3 2003.1,1025.9 2003.7,1032.7 2004.3,1025.1 2005.0,1032.8 2005.6,1024.3 2006.3,1031.0 2006.9,1024.2 2007.6,1030.3 2008.2,1023.2 2008.9,1031.1 2009.5,1024.0 2010.2,1030.6 2010.8,1023.0 2011.4,1028.5 2012.1,1023.5 2012.7,1029.7 2013.4,1024.6 2014.0,1031.6 2014.7,1025.5 2015.3,1031.9 2016.0,1025.3 2016.6,1031.4 2017.3,1027.3 2017.9,1033.2 2018.5,1025.7 2019.2,1034.4 2019.8,1028.1 2020.5,1034.2 2021.1,1029.8 2021.8,1034.5 2022.4,1028.9 2023.1,1035.5 2023.7,1030.3 2024.4,1036.6 2025.0,1029.7 2025.6,1037.0 2026.3,1030.5 2026.9,1037.8 2027.6,1032.3 2028.2,1038.9 2028.9,1031.8 2029.5,1039.8 2030.2,1031.5 2030.8,1038.9 2031.4,1031.8 2032.1,1040.2 2032.7,1032.8 2033.4,1039.9 2034.0,1032.1 2034.7,1040.8 2035.3,1031.8 2036.0,1040.2 2036.6,1032.4 2037.3,1040.2 2037.9,1032.6 2038.5,1038.1 2039.2,1031.3 2039.8,1037.9 2040.5,1029.3 2041.1,1035.3 2041.8,1028.5 2042.4,1035.2 2043.1,1028.2 2043.7,1035.7 2044.4,1028.6 2045.0,1036.5 2045.6,1030.2 2046.3,1036.4 2046.9,1030.8 2047.6,1037.2 2048.2,1031.5 2048.9,1036.6 2049.5,1030.7 2050.2,1037.3 2050.8,1032.7 2051.5,1036.7 2052.1,1031.4 2052.7,1037.5 2053.4,1033.5 2054.0,1037.5 2054.7,1032.6 2055.3,1037.3 2056.0,1031.4 2056.6,1036.4 2057.3,1030.8 2057.9,1036.4 2058.5,1030.8 2059.2,1034.1 2059.8,1030.2 2060.5,1035.3 2061.1,1028.8 2061.8,1033.4 2062.4,1028.3 2063.1,1033.4 2063.7,1026.9 2064.4,1035.6 2065.0,1028.1 2065.6,1035.0 2066.3,1027.7 2066.9,1034.4 2067.6,1027.9 2068.2,1034.2 2068.9,1028.9 2069.5,1034.8 2070.2,1028.0 2070.8,1035.8 2071.5,1029.4 2072.1,1037.3 2072.7,1029.1 2073.4,1035.5 2074.0,1029.7 2074.7,1035.5 2075.3,1030.9 2076.0,1035.7 2076.6,1030.7 2077.3,1034.3 2077.9,1029.2 2078.6,1033.7 2079.2,1029.2 2079.8,1032.6 2080.5,1028.0 2081.1,1031.4 2081.8,1027.2 2082.4,1032.5 2083.1,1026.8 2083.7,1031.7 2084.4,1027.7 2085.0,1033.5 2085.6,1026.7 2086.3,1035.5 2086.9,1028.2 2087.6,1036.7 2088.2,1027.6 2088.9,1036.2 2089.5,1028.9 2090.2,1037.0 2090.8,1028.8 2091.5,1035.8 2092.1,1029.4 2092.7,1037.2 2093.4,1029.5 2094.0,1035.3 2094.7,1030.0 2095.3,1035.2 2096.0,1029.1 2096.6,1035.4 2097.3,1029.8 2097.9,1035.9 2098.6,1028.2 2099.2,1036.0 2099.8,1030.1 2100.5,1036.4 2101.1,1029.0 2101.8,1037.1 2102.4,1028.4 2103.1,1035.6 2103.7,1028.6 2104.4,1035.5 2105.0,1027.2 2105.7,1034.3 2106.3,1027.3 2106.9,1032.6 2107.6,1026.6 2108.2,1033.5 2108.9,1026.7 2109.5,1033.5 2110.2,1028.6 2110.8,1033.1 2111.5,1027.4 2112.1,1033.6 2112.7,1027.1 2113.4,1034.3 2114.0,1027.7 2114.7,1032.4 2115.3,1025.9 2116.0,1032.3 2116.6,1023.0 2117.3,1026.1 2117.9,1013.4 2118.6,1012.8 2119.2,997.5 2119.8,993.3 2120.5,977.3 2121.1,976.3 2121.8,967.9 2122.4,976.1 2123.1,976.2 2123.7,990.3 2124.4,993.0 2125.0,1004.6 2125.7,1003.8 2126.3,1011.1 2126.9,1004.1 2127.6,1008.8 2128.2,1003.1 2128.9,1008.8 2129.5,1005.5 2130.2,1014.0 2130.8,1014.8 2131.5,1025.4 2132.1,1021.5 2132.8,1031.1 2133.4,1027.4 2134.0,1034.8 2134.7,1029.9 2135.3,1037.2 2136.0,1029.8 2136.6,1037.6 2137.3,1031.8 2137.9,1037.9 2138.6,1031.5 2139.2,1037.8 2139.8,1032.3 2140.5,1038.2 2141.1,1032.5 2141.8,1038.5 2142.4,1031.8 2143.1,1039.0 2143.7,1030.5 2144.4,1037.2 2145.0,1031.4 2145.7,1037.1 2146.3,1030.5 2146.9,1034.6 2147.6,1030.5 2148.2,1033.7 2148.9,1027.5 2149.5,1032.9 2150.2,1027.8 2150.8,1037.2 2151.5,1026.7 2152.1,1033.1 2152.8,1026.7 2153.4,1034.1" fill="none" stroke="#9AE42C" stroke-width="6.5" stroke-linejoin="round" stroke-linecap="butt"/>
<path d="M250.3,1187.6 250.9,1204.5 251.6,1181.4 252.2,1198.3 252.9,1187.6 253.5,1203.3 254.2,1187.2 254.8,1202.7 255.5,1183.7 256.1,1199.8 256.7,1184.7 257.4,1201.0 258.0,1182.0 258.7,1200.3 259.3,1182.2 260.0,1200.2 260.6,1179.9 261.3,1199.2 261.9,1176.4 262.6,1201.1 263.2,1179.8 263.8,1197.2 264.5,1178.3 265.1,1194.5 265.8,1174.5 266.4,1192.0 267.1,1181.4 267.7,1193.2 268.4,1178.7 269.0,1194.2 269.6,1179.4 270.3,1195.7 270.9,1180.9 271.6,1193.9 272.2,1182.3 272.9,1196.0 273.5,1184.1 274.2,1197.4 274.8,1174.7 275.5,1194.1 276.1,1177.3 276.7,1190.3 277.4,1173.4 278.0,1189.7 278.7,1166.5 279.3,1184.7 280.0,1166.4 280.6,1182.4 281.3,1164.6 281.9,1182.0 282.5,1167.9 283.2,1191.7 283.8,1172.8 284.5,1195.2 285.1,1180.0 285.8,1197.8 286.4,1184.8 287.1,1200.7 287.7,1186.2 288.4,1204.4 289.0,1184.0 289.6,1204.5 290.3,1180.9 290.9,1202.0 291.6,1183.5 292.2,1206.5 292.9,1183.2 293.5,1207.1 294.2,1184.6 294.8,1201.6 295.4,1185.7 296.1,1203.9 296.7,1190.0 297.4,1204.1 298.0,1189.0 298.7,1207.1 299.3,1190.5 300.0,1205.3 300.6,1194.1 301.2,1201.9 301.9,1196.6 302.5,1203.9 303.2,1192.0 303.8,1204.0 304.5,1188.9 305.1,1204.0 305.8,1190.0 306.4,1200.9 307.1,1186.4 307.7,1204.7 308.3,1188.9 309.0,1203.1 309.6,1186.4 310.3,1200.1 310.9,1187.5 311.6,1203.4 312.2,1190.6 312.9,1204.0 313.5,1177.5 314.1,1207.3 314.8,1187.3 315.4,1206.9 316.1,1189.3 316.7,1204.1 317.4,1186.1 318.0,1204.3 318.7,1176.9 319.3,1203.5 320.0,1191.5 320.6,1205.4 321.2,1191.8 321.9,1205.7 322.5,1174.8 323.2,1201.3 323.8,1190.6 324.5,1200.5 325.1,1191.0 325.8,1201.0 326.4,1190.8 327.0,1203.1 327.7,1188.3 328.3,1202.3 329.0,1188.4 329.6,1209.8 330.3,1188.9 330.9,1208.3 331.6,1185.5 332.2,1204.0 332.9,1192.4 333.5,1204.2 334.1,1192.0 334.8,1207.1 335.4,1193.5 336.1,1206.3 336.7,1197.5 337.4,1207.3 338.0,1195.8 338.7,1207.8 339.3,1193.0 339.9,1207.6 340.6,1190.5 341.2,1212.2 341.9,1196.5 342.5,1206.5 343.2,1193.8 343.8,1207.0 344.5,1190.5 345.1,1207.2 345.7,1187.7 346.4,1207.6 347.0,1185.5 347.7,1206.4 348.3,1187.2 349.0,1206.1 349.6,1190.0 350.3,1203.8 350.9,1188.0 351.6,1206.9 352.2,1188.6 352.8,1206.8 353.5,1190.9 354.1,1204.1 354.8,1190.9 355.4,1206.4 356.1,1192.4 356.7,1204.9 357.4,1193.0 358.0,1207.8 358.6,1195.1 359.3,1207.5 359.9,1191.6 360.6,1205.5 361.2,1191.6 361.9,1209.6 362.5,1194.4 363.2,1211.8 363.8,1192.5 364.5,1211.1 365.1,1195.3 365.7,1211.8 366.4,1198.7 367.0,1209.7 367.7,1201.0 368.3,1211.2 369.0,1199.2 369.6,1212.0 370.3,1197.8 370.9,1211.3 371.5,1204.2 372.2,1214.5 372.8,1203.8 373.5,1212.7 374.1,1201.2 374.8,1211.1 375.4,1200.9 376.1,1212.3 376.7,1200.0 377.4,1216.0 378.0,1200.2 378.6,1213.8 379.3,1202.2 379.9,1217.4 380.6,1201.0 381.2,1215.4 381.9,1202.2 382.5,1215.0 383.2,1203.5 383.8,1213.3 384.4,1203.1 385.1,1213.1 385.7,1203.1 386.4,1213.7 387.0,1201.9 387.7,1211.6 388.3,1205.1 389.0,1214.7 389.6,1205.2 390.2,1211.4 390.9,1202.2 391.5,1212.9 392.2,1205.6 392.8,1214.5 393.5,1202.5 394.1,1215.7 394.8,1201.7 395.4,1213.4 396.1,1201.0 396.7,1216.5 397.3,1199.4 398.0,1214.8 398.6,1199.1 399.3,1219.2 399.9,1201.9 400.6,1217.6 401.2,1204.5 401.9,1219.1 402.5,1205.9 403.1,1217.9 403.8,1203.9 404.4,1217.0 405.1,1207.9 405.7,1216.4 406.4,1208.2 407.0,1216.4 407.7,1209.1 408.3,1217.5 409.0,1207.8 409.6,1216.9 410.2,1207.3 410.9,1220.3 411.5,1209.3 412.2,1224.3 412.8,1208.2 413.5,1221.8 414.1,1208.6 414.8,1223.9 415.4,1210.4 416.0,1224.9 416.7,1210.6 417.3,1223.2 418.0,1210.2 418.6,1223.0 419.3,1209.5 419.9,1223.7 420.6,1208.1 421.2,1222.4 421.8,1211.2 422.5,1221.8 423.1,1210.4 423.8,1223.7 424.4,1210.8 425.1,1217.8 425.7,1210.1 426.4,1218.0 427.0,1210.2 427.7,1219.1 428.3,1211.2 428.9,1220.3 429.6,1211.6 430.2,1219.6 430.9,1212.2 431.5,1219.1 432.2,1210.7 432.8,1222.0 433.5,1211.7 434.1,1221.5 434.7,1210.8 435.4,1222.1 436.0,1208.2 436.7,1220.6 437.3,1208.8 438.0,1222.4 438.6,1207.0 439.3,1219.0 439.9,1208.1 440.6,1219.7 441.2,1208.9 441.8,1220.2 442.5,1209.0 443.1,1218.4 443.8,1207.2 444.4,1219.4 445.1,1206.5 445.7,1220.1 446.4,1200.2 447.0,1218.9 447.6,1206.8 448.3,1219.4 448.9,1204.4 449.6,1219.1 450.2,1208.2 450.9,1219.2 451.5,1210.9 452.2,1221.5 452.8,1209.2 453.5,1223.6 454.1,1211.6 454.7,1225.1 455.4,1211.6 456.0,1224.7 456.7,1213.5 457.3,1226.8 458.0,1215.7 458.6,1223.6 459.3,1214.4 459.9,1228.0 460.5,1216.5 461.2,1225.8 461.8,1219.4 462.5,1224.6 463.1,1217.9 463.8,1227.4 464.4,1220.5 465.1,1231.4 465.7,1217.2 466.3,1230.5 467.0,1221.5 467.6,1229.5 468.3,1218.2 468.9,1229.5 469.6,1220.5 470.2,1230.8 470.9,1219.7 471.5,1229.2 472.2,1219.1 472.8,1229.2 473.4,1217.8 474.1,1230.8 474.7,1215.6 475.4,1225.9 476.0,1216.2 476.7,1229.1 477.3,1218.4 478.0,1227.8 478.6,1219.7 479.2,1228.6 479.9,1219.9 480.5,1230.5 481.2,1219.5 481.8,1232.2 482.5,1222.5 483.1,1232.8 483.8,1223.2 484.4,1232.6 485.1,1221.7 485.7,1229.4 486.3,1223.0 487.0,1229.7 487.6,1218.6 488.3,1227.8 488.9,1215.4 489.6,1227.3 490.2,1215.2 490.9,1227.9 491.5,1216.3 492.1,1227.3 492.8,1214.6 493.4,1227.8 494.1,1217.6 494.7,1228.8 495.4,1219.2 496.0,1231.5 496.7,1222.6 497.3,1229.9 498.0,1221.2 498.6,1232.8 499.2,1224.6 499.9,1233.4 500.5,1225.3 501.2,1232.2 501.8,1224.3 502.5,1231.1 503.1,1222.6 503.8,1233.8 504.4,1222.5 505.0,1231.7 505.7,1223.6 506.3,1231.0 507.0,1219.5 507.6,1234.2 508.3,1222.1 508.9,1232.1 509.6,1222.2 510.2,1231.8 510.8,1223.0 511.5,1234.5 512.1,1224.2 512.8,1233.7 513.4,1224.0 514.1,1233.5 514.7,1227.3 515.4,1236.5 516.0,1226.3 516.7,1238.8 517.3,1224.7 517.9,1239.6 518.6,1229.4 519.2,1240.9 519.9,1230.2 520.5,1240.1 521.2,1226.6 521.8,1239.6 522.5,1230.5 523.1,1241.0 523.7,1231.0 524.4,1237.3 525.0,1230.0 525.7,1238.2 526.3,1231.9 527.0,1237.5 527.6,1231.7 528.3,1236.5 528.9,1229.1 529.6,1236.3 530.2,1227.7 530.8,1238.4 531.5,1228.9 532.1,1237.8 532.8,1229.0 533.4,1237.8 534.1,1227.4 534.7,1238.2 535.4,1227.2 536.0,1235.5 536.6,1225.7 537.3,1236.0 537.9,1225.3 538.6,1233.4 539.2,1225.4 539.9,1234.3 540.5,1227.7 541.2,1232.2 541.8,1227.8 542.5,1233.3 543.1,1225.9 543.7,1235.1 544.4,1226.2 545.0,1236.1 545.7,1225.8 546.3,1235.6 547.0,1225.3 547.6,1234.8 548.3,1226.2 548.9,1235.5 549.5,1228.2 550.2,1236.0 550.8,1228.2 551.5,1235.5 552.1,1227.2 552.8,1236.3 553.4,1229.4 554.1,1237.1 554.7,1228.4 555.3,1238.7 556.0,1229.8 556.6,1235.6 557.3,1230.8 557.9,1238.4 558.6,1229.3 559.2,1236.0 559.9,1229.4 560.5,1238.3 561.2,1231.0 561.8,1238.3 562.4,1229.4 563.1,1238.3 563.7,1230.0 564.4,1239.0 565.0,1228.2 565.7,1237.9 566.3,1227.2 567.0,1237.2 567.6,1228.8 568.2,1237.0 568.9,1228.3 569.5,1236.4 570.2,1228.7 570.8,1236.3 571.5,1228.0 572.1,1235.8 572.8,1229.7 573.4,1234.9 574.1,1229.1 574.7,1234.9 575.3,1229.4 576.0,1235.7 576.6,1228.3 577.3,1235.8 577.9,1229.6 578.6,1236.4 579.2,1229.0 579.9,1236.0 580.5,1227.1 581.1,1235.2 581.8,1228.0 582.4,1237.0 583.1,1230.2 583.7,1237.6 584.4,1230.4 585.0,1237.2 585.7,1228.4 586.3,1236.6 587.0,1228.5 587.6,1235.6 588.2,1229.7 588.9,1236.6 589.5,1228.6 590.2,1235.6 590.8,1229.0 591.5,1236.4 592.1,1229.2 592.8,1238.7 593.4,1229.4 594.0,1238.5 594.7,1228.1 595.3,1239.3 596.0,1228.5 596.6,1237.4 597.3,1229.5 597.9,1240.4 598.6,1228.6 599.2,1239.3 599.8,1230.5 600.5,1237.4 601.1,1230.9 601.8,1239.4 602.4,1231.8 603.1,1240.0 603.7,1232.5 604.4,1238.5 605.0,1230.6 605.7,1237.5 606.3,1232.2 606.9,1239.8 607.6,1231.2 608.2,1239.7 608.9,1231.0 609.5,1239.8 610.2,1232.2 610.8,1238.5 611.5,1231.3 612.1,1239.0 612.7,1231.0 613.4,1238.1 614.0,1230.9 614.7,1238.7 615.3,1231.7 616.0,1241.2 616.6,1231.0 617.3,1239.3 617.9,1233.7 618.6,1241.9 619.2,1232.1 619.8,1242.2 620.5,1233.0 621.1,1242.1 621.8,1233.5 622.4,1241.5 623.1,1233.7 623.7,1239.5 624.4,1234.1 625.0,1240.2 625.6,1232.3 626.3,1239.9 626.9,1231.2 627.6,1236.4 628.2,1229.8 628.9,1237.3 629.5,1228.6 630.2,1234.6 630.8,1229.8 631.5,1235.8 632.1,1231.9 632.7,1237.7 633.4,1231.1 634.0,1238.6 634.7,1233.9 635.3,1239.5 636.0,1234.9 636.6,1242.2 637.3,1234.5 637.9,1240.9 638.5,1237.3 639.2,1241.6 639.8,1235.3 640.5,1242.5 641.1,1234.1 641.8,1241.7 642.4,1233.8 643.1,1241.2 643.7,1234.9 644.3,1240.2 645.0,1233.7 645.6,1238.8 646.3,1232.9 646.9,1239.1 647.6,1234.3 648.2,1237.9 648.9,1234.4 649.5,1238.5 650.2,1234.7 650.8,1238.9 651.4,1233.0 652.1,1239.0 652.7,1233.4 653.4,1238.5 654.0,1232.5 654.7,1238.9 655.3,1232.1 656.0,1239.8 656.6,1232.4 657.2,1238.0 657.9,1231.1 658.5,1234.4 659.2,1229.1 659.8,1233.4 660.5,1225.9 661.1,1230.6 661.8,1220.7 662.4,1227.2 663.1,1217.5 663.7,1224.1 664.3,1213.4 665.0,1224.3 665.6,1214.5 666.3,1224.9 666.9,1216.5 667.6,1228.9 668.2,1220.8 668.9,1232.4 669.5,1224.0 670.1,1235.1 670.8,1226.8 671.4,1235.5 672.1,1230.3 672.7,1237.9 673.4,1231.0 674.0,1238.0 674.7,1231.3 675.3,1238.4 675.9,1233.1 676.6,1239.4 677.2,1230.7 677.9,1240.3 678.5,1228.7 679.2,1240.1 679.8,1231.2 680.5,1240.6 681.1,1231.8 681.8,1241.6 682.4,1232.3 683.0,1241.8 683.7,1234.4 684.3,1241.9 685.0,1234.0 685.6,1241.9 686.3,1234.3 686.9,1241.4 687.6,1236.0 688.2,1240.6 688.8,1232.8 689.5,1240.6 690.1,1233.1 690.8,1239.3 691.4,1233.1 692.1,1237.9 692.7,1233.3 693.4,1239.9 694.0,1232.8 694.7,1240.1 695.3,1233.9 695.9,1237.9 696.6,1233.1 697.2,1236.0 697.9,1231.1 698.5,1235.3 699.2,1230.0 699.8,1237.5 700.5,1227.4 701.1,1236.8 701.7,1228.3 702.4,1236.7 703.0,1228.7 703.7,1236.1 704.3,1230.5 705.0,1234.3 705.6,1227.0 706.3,1236.7 706.9,1228.4 707.6,1236.1 708.2,1227.8 708.8,1236.1 709.5,1226.8 710.1,1236.4 710.8,1227.9 711.4,1234.9 712.1,1228.8 712.7,1236.2 713.4,1229.0 714.0,1236.7 714.6,1230.4 715.3,1237.9 715.9,1228.8 716.6,1239.5 717.2,1229.5 717.9,1238.7 718.5,1230.5 719.2,1237.8 719.8,1231.7 720.4,1240.3 721.1,1231.6 721.7,1239.6 722.4,1230.2 723.0,1239.0 723.7,1230.1 724.3,1236.5 725.0,1231.3 725.6,1238.1 726.3,1231.1 726.9,1237.7 727.5,1231.1 728.2,1237.7 728.8,1230.4 729.5,1238.7 730.1,1231.0 730.8,1238.7 731.4,1230.9 732.1,1238.2 732.7,1231.0 733.3,1239.7 734.0,1232.3 734.6,1240.0 735.3,1233.4 735.9,1240.2 736.6,1233.5 737.2,1240.6 737.9,1235.2 738.5,1241.5 739.2,1235.1 739.8,1239.3 740.4,1235.6 741.1,1241.8 741.7,1234.1 742.4,1239.6 743.0,1234.7 743.7,1239.6 744.3,1233.9 745.0,1240.4 745.6,1232.9 746.2,1240.0 746.9,1232.8 747.5,1237.4 748.2,1232.3 748.8,1239.1 749.5,1232.5 750.1,1240.0 750.8,1233.4 751.4,1237.6 752.1,1231.9 752.7,1237.0 753.3,1231.1 754.0,1234.4 754.6,1228.4 755.3,1234.3 755.9,1227.3 756.6,1228.8 757.2,1220.7 757.9,1221.4 758.5,1207.9 759.1,1204.8 759.8,1186.7 760.4,1175.1 761.1,1148.9 761.7,1131.9 762.4,1104.4 763.0,1094.8 763.7,1076.9 764.3,1083.3 764.9,1085.2 765.6,1110.3 766.2,1123.9 766.9,1152.4 767.5,1167.6 768.2,1189.6 768.8,1195.5 769.5,1212.0 770.1,1213.0 770.8,1224.5 771.4,1222.2 772.0,1230.7 772.7,1226.9 773.3,1234.2 774.0,1229.1 774.6,1236.8 775.3,1232.9 775.9,1241.4 776.6,1232.3 777.2,1241.8 777.8,1235.3 778.5,1242.1 779.1,1235.1 779.8,1243.2 780.4,1234.8 781.1,1243.2 781.7,1234.1 782.4,1241.9 783.0,1233.4 783.7,1246.5 784.3,1232.4 784.9,1241.3 785.6,1231.2 786.2,1241.4 786.9,1229.8 787.5,1240.5 788.2,1231.1 788.8,1242.1 789.5,1229.9 790.1,1239.5 790.7,1230.3 791.4,1238.9 792.0,1231.0 792.7,1237.4 793.3,1232.0 794.0,1236.5 794.6,1232.7 795.3,1238.9 795.9,1232.5 796.6,1239.0 797.2,1233.2 797.8,1238.9 798.5,1233.5 799.1,1239.7 799.8,1235.4 800.4,1241.3 801.1,1234.9 801.7,1241.9 802.4,1233.8 803.0,1242.5 803.6,1234.3 804.3,1241.0 804.9,1234.4 805.6,1243.1 806.2,1233.4 806.9,1242.7 807.5,1235.9 808.2,1242.1 808.8,1234.1 809.4,1242.3 810.1,1234.2 810.7,1239.7 811.4,1232.9 812.0,1240.1 812.7,1234.3 813.3,1239.3 814.0,1232.4 814.6,1238.6 815.3,1231.6 815.9,1237.3 816.5,1230.3 817.2,1238.6 817.8,1231.0 818.5,1238.3 819.1,1229.7 819.8,1237.8 820.4,1229.8 821.1,1238.2 821.7,1230.4 822.3,1240.3 823.0,1229.0 823.6,1238.2 824.3,1229.8 824.9,1236.9 825.6,1228.5 826.2,1235.6 826.9,1228.4 827.5,1238.6 828.2,1226.4 828.8,1235.3 829.4,1225.1 830.1,1230.1 830.7,1220.4 831.4,1228.3 832.0,1215.7 832.7,1220.8 833.3,1212.4 834.0,1219.2 834.6,1210.4 835.2,1217.6 835.9,1210.4 836.5,1220.1 837.2,1214.2 837.8,1222.1 838.5,1217.5 839.1,1228.3 839.8,1222.0 840.4,1231.5 841.1,1222.8 841.7,1233.8 842.3,1225.9 843.0,1237.2 843.6,1228.7 844.3,1234.5 844.9,1227.7 845.6,1235.3 846.2,1228.4 846.9,1236.0 847.5,1228.0 848.1,1235.3 848.8,1228.4 849.4,1235.8 850.1,1230.1 850.7,1236.3 851.4,1228.8 852.0,1236.3 852.7,1228.4 853.3,1235.9 853.9,1227.3 854.6,1233.6 855.2,1225.0 855.9,1230.8 856.5,1222.0 857.2,1226.3 857.8,1217.5 858.5,1222.6 859.1,1213.2 859.8,1218.4 860.4,1211.3 861.0,1219.7 861.7,1213.9 862.3,1221.8 863.0,1219.2 863.6,1224.5 864.3,1222.8 864.9,1228.9 865.6,1226.5 866.2,1233.8 866.8,1230.6 867.5,1234.3 868.1,1231.5 868.8,1236.2 869.4,1232.4 870.1,1238.6 870.7,1232.6 871.4,1237.8 872.0,1233.8 872.7,1240.5 873.3,1232.8 873.9,1239.2 874.6,1232.2 875.2,1240.6 875.9,1232.7 876.5,1238.8 877.2,1233.1 877.8,1239.5 878.5,1231.7 879.1,1238.1 879.7,1231.4 880.4,1239.8 881.0,1232.1 881.7,1238.2 882.3,1230.7 883.0,1237.7 883.6,1231.0 884.3,1239.2 884.9,1231.3 885.5,1238.8 886.2,1234.2 886.8,1238.6 887.5,1232.8 888.1,1240.0 888.8,1232.2 889.4,1239.8 890.1,1233.5 890.7,1240.6 891.4,1233.3 892.0,1243.4 892.6,1233.4 893.3,1241.1 893.9,1235.9 894.6,1239.1 895.2,1233.0 895.9,1238.0 896.5,1233.1 897.2,1237.8 897.8,1232.4 898.4,1236.4 899.1,1229.9 899.7,1237.5 900.4,1231.1 901.0,1235.7 901.7,1228.9 902.3,1235.3 903.0,1228.3 903.6,1234.2 904.3,1228.1 904.9,1234.3 905.5,1226.5 906.2,1232.9 906.8,1226.2 907.5,1235.4 908.1,1227.9 908.8,1232.4 909.4,1225.8 910.1,1232.0 910.7,1224.9 911.3,1231.5 912.0,1225.2 912.6,1233.4 913.3,1223.2 913.9,1233.7 914.6,1224.2 915.2,1233.4 915.9,1225.8 916.5,1233.5 917.2,1224.5 917.8,1234.2 918.4,1225.1 919.1,1234.1 919.7,1225.2 920.4,1235.6 921.0,1226.1 921.7,1235.7 922.3,1228.5 923.0,1235.7 923.6,1226.6 924.2,1237.9 924.9,1226.4 925.5,1234.9 926.2,1227.6 926.8,1232.8 927.5,1225.7 928.1,1231.4 928.8,1224.5 929.4,1232.2 930.0,1225.0 930.7,1230.8 931.3,1222.1 932.0,1228.9 932.6,1222.9 933.3,1228.2 933.9,1221.2 934.6,1226.7 935.2,1220.0 935.9,1225.7 936.5,1219.3 937.1,1223.0 937.8,1218.8 938.4,1222.8 939.1,1215.8 939.7,1221.1 940.4,1213.5 941.0,1216.9 941.7,1211.1 942.3,1214.2 942.9,1209.3 943.6,1209.5 944.2,1203.0 944.9,1205.9 945.5,1196.5 946.2,1197.2 946.8,1182.7 947.5,1179.1 948.1,1159.1 948.8,1151.7 949.4,1125.0 950.0,1114.7 950.7,1086.1 951.3,1077.7 952.0,1055.5 952.6,1055.3 953.3,1048.9 953.9,1065.4 954.6,1071.1 955.2,1096.8 955.8,1107.5 956.5,1132.9 957.1,1138.8 957.8,1156.8 958.4,1158.3 959.1,1169.0 959.7,1163.5 960.4,1169.5 961.0,1157.1 961.7,1154.8 962.3,1141.3 962.9,1135.2 963.6,1118.3 964.2,1110.6 964.9,1092.0 965.5,1088.7 966.2,1075.5 966.8,1083.6 967.5,1076.0 968.1,1091.9 968.7,1095.6 969.4,1114.5 970.0,1122.2 970.7,1143.3 971.3,1148.8 972.0,1168.6 972.6,1167.6 973.3,1185.6 973.9,1179.5 974.5,1195.0 975.2,1187.6 975.8,1201.3 976.5,1190.8 977.1,1201.5 977.8,1188.8 978.4,1200.4 979.1,1186.8 979.7,1195.0 980.4,1183.2 981.0,1184.6 981.6,1171.6 982.3,1172.7 982.9,1156.3 983.6,1154.5 984.2,1137.5 984.9,1133.7 985.5,1115.8 986.2,1111.4 986.8,1098.9 987.4,1099.0 988.1,1093.3 988.7,1101.0 989.4,1100.9 990.0,1113.2 990.7,1117.9 991.3,1136.1 992.0,1140.6 992.6,1163.7 993.3,1163.2 993.9,1181.2 994.5,1180.8 995.2,1198.6 995.8,1192.9 996.5,1205.3 997.1,1202.7 997.8,1212.0 998.4,1206.3 999.1,1216.6 999.7,1211.1 1000.3,1220.1 1001.0,1211.7 1001.6,1218.9 1002.3,1213.8 1002.9,1222.8 1003.6,1216.0 1004.2,1223.9 1004.9,1219.7 1005.5,1225.1 1006.2,1220.9 1006.8,1227.2 1007.4,1219.6 1008.1,1230.2 1008.7,1222.5 1009.4,1228.0 1010.0,1222.5 1010.7,1228.6 1011.3,1224.2 1012.0,1230.2 1012.6,1223.1 M1048.2,1233.2 1048.8,1242.2 1049.5,1231.6 1050.1,1239.7 1050.8,1229.8 1051.4,1236.0 1052.1,1225.3 1052.7,1234.2 1053.4,1224.0 1054.0,1233.8 1054.7,1224.6 1055.3,1235.4 1055.9,1225.0 1056.6,1235.0 1057.2,1224.3 1057.9,1232.9 1058.5,1225.0 1059.2,1235.3 1059.8,1226.2 1060.5,1236.5 1061.1,1226.6 1061.7,1234.4 1062.4,1227.6 1063.0,1235.1 1063.7,1226.8 1064.3,1234.8 1065.0,1227.9 1065.6,1237.8 1066.3,1229.6 1066.9,1237.9 1067.6,1229.0 1068.2,1238.4 1068.8,1230.2 1069.5,1240.5 1070.1,1231.3 1070.8,1239.9 1071.4,1233.0 1072.1,1240.2 1072.7,1232.9 1073.4,1241.9 1074.0,1234.1 1074.7,1242.1 1075.3,1232.5 1075.9,1240.6 1076.6,1236.3 1077.2,1241.8 1077.9,1236.7 1078.5,1243.0 1079.2,1234.0 1079.8,1242.5 1080.5,1235.7 1081.1,1242.6 1081.7,1235.9 1082.4,1240.7 1083.0,1233.6 1083.7,1240.6 1084.3,1232.2 1085.0,1237.3 1085.6,1231.8 1086.3,1235.7 1086.9,1231.8 1087.6,1235.6 1088.2,1230.5 1088.8,1232.8 1089.5,1228.3 1090.1,1234.5 1090.8,1227.9 1091.4,1234.8 1092.1,1227.4 1092.7,1233.7 1093.4,1227.8 1094.0,1233.2 1094.6,1225.9 1095.3,1230.1 1095.9,1218.1 1096.6,1221.0 1097.2,1202.4 1097.9,1196.1 1098.5,1166.3 1099.2,1147.8 1099.8,1111.2 1100.5,1092.8 1101.1,1063.7 1101.7,1061.7 1102.4,1056.1 1103.0,1075.9 1103.7,1087.4 1104.3,1119.5 1105.0,1130.5 1105.6,1154.1 1106.3,1159.2 1106.9,1176.4 1107.6,1173.8 1108.2,1189.9 1108.8,1189.1 1109.5,1204.3 1110.1,1203.5 1110.8,1217.8 1111.4,1217.1 1112.1,1226.2 1112.7,1223.6 1113.4,1233.2 1114.0,1224.4 1114.6,1231.8 1115.3,1227.0 1115.9,1233.6 1116.6,1226.5 1117.2,1233.9 1117.9,1225.2 1118.5,1234.4 1119.2,1225.9 1119.8,1235.3 1120.5,1226.9 1121.1,1235.0 1121.7,1227.2 1122.4,1236.8 1123.0,1229.8 1123.7,1237.1 1124.3,1229.3 1125.0,1238.9 1125.6,1228.7 1126.3,1237.7 1126.9,1228.0 1127.6,1237.7 1128.2,1227.8 1128.8,1236.0 1129.5,1225.9 1130.1,1233.3 1130.8,1223.1 1131.4,1231.0 1132.1,1221.4 1132.7,1228.4 1133.4,1218.3 1134.0,1224.8 1134.6,1215.7 1135.3,1222.9 1135.9,1213.4 1136.6,1219.7 1137.2,1210.3 1137.9,1218.6 1138.5,1207.1 1139.2,1215.7 1139.8,1203.8 1140.5,1211.3 1141.1,1204.0 1141.7,1211.4 1142.4,1203.2 1143.0,1210.7 1143.7,1202.9 1144.3,1210.9 1145.0,1206.1 1145.6,1214.2 1146.3,1209.7 1146.9,1216.6 1147.6,1211.0 1148.2,1219.1 1148.8,1213.2 1149.5,1224.2 1150.1,1216.9 1150.8,1228.5 1151.4,1219.6 1152.1,1229.6 1152.7,1224.1 1153.4,1229.9 1154.0,1223.9 1154.6,1231.9 1155.3,1224.7 1155.9,1233.4 1156.6,1227.7 1157.2,1234.1 1157.9,1226.7 1158.5,1236.0 1159.2,1227.9 1159.8,1234.8 1160.5,1228.6 1161.1,1236.3 1161.7,1227.4 1162.4,1236.0 1163.0,1228.8 1163.7,1238.4 1164.3,1227.4 1165.0,1239.6 1165.6,1229.1 1166.3,1239.2 1166.9,1229.9 1167.5,1238.7 1168.2,1231.4 1168.8,1237.0 1169.5,1229.2 1170.1,1236.4 1170.8,1230.0 1171.4,1236.8 1172.1,1227.3 1172.7,1234.8 1173.4,1226.1 1174.0,1233.6 1174.6,1224.4 1175.3,1231.5 1175.9,1222.7 1176.6,1230.6 1177.2,1222.3 1177.9,1230.9 1178.5,1223.6 1179.2,1231.5 1179.8,1226.5 1180.5,1235.2 1181.1,1228.6 1181.7,1237.5 1182.4,1231.5 1183.0,1237.6 1183.7,1233.7 1184.3,1239.3 1185.0,1233.5 1185.6,1239.6 1186.3,1232.8 1186.9,1240.2 1187.5,1233.5 1188.2,1239.4 1188.8,1230.9 1189.5,1238.1 1190.1,1231.0 1190.8,1237.1 1191.4,1225.8 1192.1,1231.9 1192.7,1222.1 1193.4,1227.0 1194.0,1216.2 1194.6,1218.9 1195.3,1208.4 1195.9,1211.8 1196.6,1202.1 1197.2,1205.2 1197.9,1196.9 1198.5,1204.6 1199.2,1197.6 1199.8,1205.5 1200.5,1203.6 1201.1,1213.5 1201.7,1211.0 1202.4,1220.9 1203.0,1219.8 1203.7,1229.4 1204.3,1226.4 1205.0,1233.9 1205.6,1231.5 1206.3,1238.3 1206.9,1234.0 1207.5,1239.9 1208.2,1237.0 1208.8,1240.2 1209.5,1235.9 1210.1,1241.9 1210.8,1237.9 1211.4,1242.6 1212.1,1236.2 1212.7,1241.9 1213.4,1235.8 1214.0,1242.4 1214.6,1236.0 1215.3,1243.0 1215.9,1238.6 1216.6,1243.2 1217.2,1235.9 1217.9,1242.4 1218.5,1236.9 1219.2,1240.9 1219.8,1237.0 1220.5,1242.2 1221.1,1236.4 1221.7,1241.9 1222.4,1237.1 1223.0,1241.0 1223.7,1236.9 1224.3,1242.7 1225.0,1235.9 1225.6,1240.7 1226.3,1236.9 1226.9,1241.4 1227.5,1234.9 1228.2,1241.0 1228.8,1235.8 1229.5,1241.7 1230.1,1237.1 1230.8,1240.9 1231.4,1236.4 1232.1,1243.4 1232.7,1238.7 1233.4,1242.2 1234.0,1238.8 1234.6,1243.5 1235.3,1240.0 1235.9,1244.2 1236.6,1239.9 1237.2,1245.0 1237.9,1242.1 1238.5,1245.7 1239.2,1241.8 1239.8,1246.3 1240.4,1242.7 1241.1,1246.5 1241.7,1243.0 1242.4,1249.1 1243.0,1242.6 1243.7,1248.8 1244.3,1242.3 1245.0,1248.9 1245.6,1241.7 1246.3,1248.3 1246.9,1241.3 1247.5,1246.9 1248.2,1241.5 1248.8,1246.4 1249.5,1239.4 1250.1,1246.2 1250.8,1239.2 1251.4,1244.8 1252.1,1237.9 1252.7,1244.3 1253.4,1237.5 1254.0,1243.0 1254.6,1235.6 1255.3,1243.6 1255.9,1235.1 1256.6,1242.6 1257.2,1233.9 1257.9,1242.1 1258.5,1235.8 1259.2,1243.9 1259.8,1235.3 1260.4,1242.3 1261.1,1236.1 1261.7,1243.0 1262.4,1236.3 1263.0,1242.6 1263.7,1235.2 1264.3,1241.2 1265.0,1236.1 1265.6,1239.7 1266.3,1235.9 1266.9,1240.0 1267.5,1235.1 1268.2,1239.5 1268.8,1232.0 1269.5,1239.0 1270.1,1231.1 1270.8,1236.5 1271.4,1231.9 1272.1,1237.6 1272.7,1231.3 1273.4,1239.6 1274.0,1233.3 1274.6,1239.9 1275.3,1234.9 1275.9,1241.0 1276.6,1233.7 1277.2,1242.1 1277.9,1234.7 1278.5,1243.0 1279.2,1235.9 1279.8,1243.8 1280.4,1237.4 1281.1,1243.7 1281.7,1237.0 1282.4,1243.6 1283.0,1236.1 1283.7,1243.8 1284.3,1236.5 1285.0,1241.7 1285.6,1236.5 1286.3,1242.2 1286.9,1236.3 1287.5,1242.0 1288.2,1235.5 1288.8,1243.0 1289.5,1235.7 1290.1,1243.8 1290.8,1236.1 1291.4,1243.0 1292.1,1235.4 1292.7,1243.5 1293.4,1236.9 1294.0,1243.4 1294.6,1234.6 1295.3,1243.1 1295.9,1237.0 1296.6,1243.2 1297.2,1235.2 1297.9,1242.1 1298.5,1236.2 1299.2,1242.2 1299.8,1235.9 1300.4,1243.0 1301.1,1236.0 1301.7,1240.2 1302.4,1235.7 1303.0,1241.3 1303.7,1236.8 1304.3,1242.3 1305.0,1235.9 1305.6,1243.1 1306.3,1237.0 1306.9,1243.9 1307.5,1238.0 1308.2,1246.2 1308.8,1237.1 1309.5,1245.7 1310.1,1238.1 1310.8,1245.5 1311.4,1238.5 1312.1,1246.3 1312.7,1238.9 1313.3,1247.0 1314.0,1240.0 1314.6,1246.0 1315.3,1237.2 1315.9,1243.3 1316.6,1238.8 1317.2,1241.4 1317.9,1237.5 1318.5,1244.0 1319.2,1234.4 1319.8,1240.1 1320.4,1235.0 1321.1,1239.7 1321.7,1233.1 1322.4,1239.0 1323.0,1232.5 1323.7,1238.5 1324.3,1230.0 1325.0,1237.2 1325.6,1228.1 1326.3,1234.5 1326.9,1226.4 1327.5,1233.4 1328.2,1227.0 1328.8,1231.7 1329.5,1224.2 1330.1,1233.2 1330.8,1225.1 1331.4,1234.1 1332.1,1226.9 1332.7,1235.2 1333.3,1228.1 1334.0,1236.6 1334.6,1230.2 1335.3,1239.4 1335.9,1231.8 1336.6,1240.3 1337.2,1234.7 1337.9,1241.3 1338.5,1237.5 1339.2,1242.8 1339.8,1238.1 1340.4,1242.6 1341.1,1238.1 1341.7,1243.7 1342.4,1238.2 1343.0,1244.0 1343.7,1238.2 1344.3,1242.4 1345.0,1239.1 1345.6,1243.0 1346.3,1238.6 1346.9,1241.5 1347.5,1237.9 1348.2,1241.1 1348.8,1238.1 1349.5,1242.2 1350.1,1239.0 1350.8,1243.9 1351.4,1238.3 1352.1,1243.4 1352.7,1237.7 1353.3,1245.7 1354.0,1240.3 1354.6,1244.7 1355.3,1238.2 1355.9,1245.4 1356.6,1239.1 1357.2,1246.7 1357.9,1240.4 1358.5,1245.7 1359.2,1238.2 1359.8,1243.2 1360.4,1238.4 1361.1,1245.8 1361.7,1237.2 1362.4,1244.1 1363.0,1236.9 1363.7,1243.4 1364.3,1235.8 1365.0,1243.1 1365.6,1236.7 1366.3,1243.9 1366.9,1237.1 1367.5,1244.3 1368.2,1239.0 1368.8,1245.5 1369.5,1239.1 1370.1,1245.0 1370.8,1238.0 1371.4,1244.4 1372.1,1237.3 1372.7,1243.2 1373.3,1237.2 1374.0,1241.6 1374.6,1233.3 1375.3,1239.6 1375.9,1234.1 1376.6,1239.3 1377.2,1234.0 1377.9,1238.0 1378.5,1234.2 1379.2,1241.2 1379.8,1235.1 1380.4,1240.5 1381.1,1235.3 1381.7,1240.6 1382.4,1237.2 1383.0,1244.0 1383.7,1239.2 1384.3,1243.4 1385.0,1238.6 1385.6,1243.9 1386.2,1239.9 1386.9,1245.9 1387.5,1240.1 1388.2,1245.9 1388.8,1239.6 1389.5,1247.1 1390.1,1240.4 1390.8,1247.4 1391.4,1240.6 1392.1,1245.9 1392.7,1239.2 1393.3,1244.9 1394.0,1239.4 1394.6,1244.2 1395.3,1237.5 1395.9,1243.3 1396.6,1238.0 1397.2,1244.5 1397.9,1238.1 1398.5,1243.0 1399.2,1238.2 1399.8,1243.6 1400.4,1237.7 1401.1,1244.5 1401.7,1237.6 1402.4,1241.3 1403.0,1236.2 1403.7,1241.1 1404.3,1235.1 1405.0,1241.7 1405.6,1234.6 1406.2,1240.7 1406.9,1233.5 1407.5,1240.9 1408.2,1233.7 1408.8,1240.2 1409.5,1234.5 1410.1,1239.9 1410.8,1234.1 1411.4,1239.1 1412.1,1231.3 1412.7,1237.2 1413.3,1228.2 1414.0,1233.5 1414.6,1222.8 1415.3,1227.4 1415.9,1218.1 1416.6,1221.0 1417.2,1211.2 1417.9,1213.9 1418.5,1204.7 1419.2,1208.3 1419.8,1201.1 1420.4,1206.7 1421.1,1201.8 1421.7,1212.5 1422.4,1210.4 1423.0,1219.4 1423.7,1218.5 1424.3,1227.8 1425.0,1223.5 1425.6,1234.6 1426.2,1229.6 1426.9,1237.9 1427.5,1234.2 1428.2,1239.7 1428.8,1234.6 1429.5,1240.9 1430.1,1235.8 1430.8,1243.4 1431.4,1236.3 1432.1,1242.6 1432.7,1236.5 1433.3,1243.1 1434.0,1237.7 1434.6,1242.6 1435.3,1236.5 1435.9,1242.3 1436.6,1237.7 1437.2,1243.3 1437.9,1237.9 1438.5,1243.4 1439.2,1237.3 1439.8,1243.5 1440.4,1236.0 1441.1,1241.9 1441.7,1236.7 1442.4,1242.5 1443.0,1237.0 1443.7,1242.9 1444.3,1236.6 1445.0,1242.0 1445.6,1236.6 1446.2,1242.2 1446.9,1235.5 1447.5,1243.3 1448.2,1235.5 1448.8,1240.8 1449.5,1234.1 1450.1,1241.3 1450.8,1235.1 1451.4,1240.0 1452.1,1232.3 1452.7,1238.3 1453.3,1231.7 1454.0,1239.0 1454.6,1230.3 1455.3,1233.9 1455.9,1227.2 1456.6,1229.7 1457.2,1217.3 1457.9,1215.0 1458.5,1194.9 1459.1,1181.8 1459.8,1153.1 1460.4,1136.0 1461.1,1108.4 1461.7,1102.1 1462.4,1091.9 1463.0,1106.9 1463.7,1118.3 1464.3,1144.0 1465.0,1158.1 1465.6,1177.6 1466.2,1183.4 1466.9,1191.6 1467.5,1188.0 1468.2,1193.4 1468.8,1191.8 1469.5,1199.2 1470.1,1202.1 1470.8,1213.5 1471.4,1216.2 1472.1,1227.9 1472.7,1228.0 1473.3,1238.1 1474.0,1234.3 1474.6,1241.4 1475.3,1236.0 1475.9,1245.3 1476.6,1237.9 1477.2,1245.7 1477.9,1238.2 1478.5,1246.1 1479.1,1239.8 1479.8,1245.3 1480.4,1238.7 1481.1,1244.8 1481.7,1239.2 1482.4,1244.0 1483.0,1238.6 1483.7,1244.8 1484.3,1237.7 1485.0,1243.4 1485.6,1236.8 1486.2,1242.9 1486.9,1236.9 1487.5,1241.3 1488.2,1235.6 1488.8,1240.5 1489.5,1236.6 1490.1,1238.9 1490.8,1235.6 1491.4,1239.3 1492.1,1234.8 1492.7,1238.2 1493.3,1234.5 1494.0,1239.2 1494.6,1232.2 1495.3,1237.8 1495.9,1230.6 1496.6,1236.1 1497.2,1230.7 1497.9,1236.4 1498.5,1228.6 1499.1,1234.5 1499.8,1226.7 1500.4,1232.5 1501.1,1221.4 1501.7,1228.6 1502.4,1216.9 1503.0,1220.6 1503.7,1209.5 1504.3,1210.9 1505.0,1200.1 1505.6,1200.1 1506.2,1188.5 1506.9,1189.3 1507.5,1180.0 1508.2,1185.6 1508.8,1179.8 1509.5,1188.1 1510.1,1187.5 1510.8,1199.9 1511.4,1199.2 1512.1,1211.5 1512.7,1209.5 1513.3,1220.8 1514.0,1217.6 1514.6,1229.6 1515.3,1225.3 1515.9,1232.2 1516.6,1228.4 1517.2,1235.8 1517.9,1230.8 1518.5,1236.9 1519.1,1231.7 1519.8,1239.4 1520.4,1233.3 1521.1,1237.6 1521.7,1232.2 1522.4,1240.9 1523.0,1234.1 1523.7,1240.5 1524.3,1234.2 1525.0,1243.9 1525.6,1233.7 1526.2,1244.2 1526.9,1235.6 1527.5,1243.2 1528.2,1235.7 1528.8,1241.9 1529.5,1233.3 1530.1,1242.2 1530.8,1233.5 1531.4,1238.5 1532.0,1232.1 1532.7,1236.3 1533.3,1231.1 1534.0,1233.7 1534.6,1227.1 1535.3,1229.9 1535.9,1222.2 1536.6,1226.5 1537.2,1219.5 1537.9,1223.8 1538.5,1215.7 1539.1,1221.6 1539.8,1214.1 1540.4,1222.3 1541.1,1217.0 1541.7,1223.9 1542.4,1220.9 1543.0,1227.4 1543.7,1224.6 1544.3,1232.1 1545.0,1228.3 1545.6,1235.5 1546.2,1230.3 1546.9,1238.1 1547.5,1232.6 1548.2,1239.2 1548.8,1235.7 1549.5,1238.7 1550.1,1235.3 1550.8,1240.2 1551.4,1236.6 1552.0,1241.2 1552.7,1236.7 1553.3,1239.8 1554.0,1236.6 1554.6,1242.6 1555.3,1237.1 1555.9,1241.1 1556.6,1235.7 1557.2,1241.6 1557.9,1234.3 1558.5,1238.7 1559.1,1234.4 1559.8,1238.5 1560.4,1231.9 1561.1,1236.3 1561.7,1231.3 1562.4,1234.7 1563.0,1227.3 1563.7,1233.1 1564.3,1227.2 1565.0,1232.2 1565.6,1227.4 1566.2,1233.8 1566.9,1229.7 1567.5,1236.7 1568.2,1230.7 1568.8,1239.1 1569.5,1233.1 1570.1,1241.9 1570.8,1235.4 1571.4,1241.6 1572.0,1236.6 1572.7,1243.1 1573.3,1237.1 1574.0,1242.9 1574.6,1236.0 1575.3,1242.0 1575.9,1236.4 1576.6,1243.1 1577.2,1236.0 1577.9,1241.9 1578.5,1234.5 1579.1,1242.8 1579.8,1235.4 1580.4,1241.6 1581.1,1235.1 1581.7,1240.7 1582.4,1234.6 1583.0,1240.3 1583.7,1233.4 1584.3,1237.8 1585.0,1233.0 1585.6,1234.9 1586.2,1228.3 1586.9,1232.2 1587.5,1226.5 1588.2,1230.6 1588.8,1223.9 1589.5,1230.3 1590.1,1223.3 1590.8,1231.0 1591.4,1226.0 1592.0,1233.5 1592.7,1227.7 1593.3,1235.9 1594.0,1230.7 1594.6,1239.4 1595.3,1234.8 1595.9,1244.0 1596.6,1237.4 1597.2,1242.5 1597.9,1238.3 1598.5,1244.4 1599.1,1240.6 1599.8,1245.2 1600.4,1239.9 1601.1,1243.7 1601.7,1239.1 1602.4,1243.7 1603.0,1238.9 1603.7,1243.5 1604.3,1238.4 1604.9,1243.9 1605.6,1237.4 1606.2,1242.6 1606.9,1236.3 1607.5,1243.1 1608.2,1236.3 1608.8,1245.0 1609.5,1236.4 1610.1,1241.1 1610.8,1235.1 1611.4,1242.1 1612.0,1235.4 1612.7,1241.0 1613.3,1233.4 1614.0,1239.8 1614.6,1232.8 1615.3,1239.3 1615.9,1230.4 1616.6,1238.6 1617.2,1231.7 1617.9,1236.6 1618.5,1231.5 1619.1,1237.9 1619.8,1228.8 1620.4,1235.5 1621.1,1228.1 1621.7,1233.4 1622.4,1225.1 1623.0,1228.9 1623.7,1221.5 1624.3,1223.8 1624.9,1215.8 1625.6,1220.4 1626.2,1212.4 1626.9,1216.8 1627.5,1209.3 1628.2,1217.2 1628.8,1209.4 1629.5,1219.5 1630.1,1214.9 1630.8,1224.4 1631.4,1217.6 1632.0,1230.8 1632.7,1222.3 1633.3,1235.4 1634.0,1227.6 1634.6,1236.9 1635.3,1230.1 1635.9,1240.4 1636.6,1231.0 1637.2,1241.7 1637.9,1233.3 1638.5,1241.2 1639.1,1234.2 1639.8,1242.1 1640.4,1235.7 1641.1,1243.3 1641.7,1235.3 1642.4,1242.1 1643.0,1235.3 1643.7,1243.0 1644.3,1238.6 1644.9,1244.7 1645.6,1238.9 1646.2,1244.6 1646.9,1239.7 1647.5,1245.7 1648.2,1240.2 1648.8,1245.2 1649.5,1240.7 1650.1,1247.4 1650.8,1242.3 1651.4,1248.0 1652.0,1240.8 1652.7,1247.5 1653.3,1240.8 1654.0,1248.0 1654.6,1240.4 1655.3,1247.0 1655.9,1241.1 1656.6,1247.7 1657.2,1240.6 1657.9,1246.9 1658.5,1239.6 1659.1,1246.3 1659.8,1240.3 1660.4,1247.3 1661.1,1241.3 1661.7,1247.3 1662.4,1240.8 1663.0,1248.2 1663.7,1241.4 1664.3,1246.9 1664.9,1241.6 1665.6,1249.9 1666.2,1242.2 1666.9,1246.0 1667.5,1243.5 1668.2,1246.5 1668.8,1243.1 1669.5,1247.6 1670.1,1242.6 1670.8,1248.0 1671.4,1242.8 1672.0,1248.4 1672.7,1242.6 1673.3,1249.8 1674.0,1242.9 1674.6,1247.8 1675.3,1242.2 1675.9,1248.5 1676.6,1242.8 1677.2,1247.6 1677.8,1241.5 1678.5,1248.9 1679.1,1240.2 1679.8,1248.3 1680.4,1240.4 1681.1,1247.6 1681.7,1237.9 1682.4,1244.2 1683.0,1238.1 1683.7,1243.0 1684.3,1236.8 1684.9,1242.4 1685.6,1236.7 1686.2,1241.4 1686.9,1236.7 1687.5,1242.4 1688.2,1236.0 1688.8,1243.0 1689.5,1237.1 1690.1,1243.0 1690.8,1236.3 1691.4,1242.6 1692.0,1237.8 1692.7,1242.2 1693.3,1239.0 1694.0,1243.2 1694.6,1238.6 1695.3,1244.0 1695.9,1238.0 1696.6,1243.9 1697.2,1238.6 1697.8,1244.0 1698.5,1239.7 1699.1,1243.4 1699.8,1239.2 1700.4,1245.8 1701.1,1238.7 1701.7,1245.6 1702.4,1239.0 1703.0,1244.5 1703.7,1238.9 1704.3,1246.4 1704.9,1239.8 1705.6,1245.7 1706.2,1239.6 1706.9,1245.4 1707.5,1238.3 1708.2,1244.4 1708.8,1239.6 1709.5,1245.2 1710.1,1238.5 1710.8,1246.3 1711.4,1240.6 1712.0,1246.0 1712.7,1240.7 1713.3,1246.5 1714.0,1240.7 1714.6,1246.5 1715.3,1240.9 1715.9,1248.2 1716.6,1240.3 1717.2,1247.5 1717.8,1240.4 1718.5,1247.1 1719.1,1239.5 1719.8,1245.6 1720.4,1237.8 1721.1,1243.9 1721.7,1236.5 1722.4,1243.3 1723.0,1235.8 1723.7,1244.2 1724.3,1236.3 1724.9,1244.2 1725.6,1235.3 1726.2,1243.2 1726.9,1237.6 1727.5,1244.6 1728.2,1238.5 1728.8,1244.0 1729.5,1237.9 1730.1,1244.9 1730.8,1238.6 1731.4,1243.1 1732.0,1237.5 1732.7,1242.8 1733.3,1238.1 1734.0,1241.4 1734.6,1236.0 1735.3,1242.0 1735.9,1237.4 1736.6,1240.6 1737.2,1237.6 1737.8,1242.2 1738.5,1235.1 1739.1,1242.4 1739.8,1236.0 1740.4,1242.5 1741.1,1234.7 1741.7,1245.2 1742.4,1235.5 1743.0,1243.2 1743.7,1236.3 1744.3,1244.1 1744.9,1235.0 1745.6,1242.7 1746.2,1235.9 1746.9,1242.9 1747.5,1237.2 1748.2,1241.2 1748.8,1235.6 1749.5,1241.2 1750.1,1235.6 1750.7,1239.4 1751.4,1234.0 1752.0,1241.9 1752.7,1236.0 1753.3,1241.2 1754.0,1232.7 1754.6,1241.8 1755.3,1234.1 1755.9,1241.2 1756.6,1234.7 1757.2,1241.5 1757.8,1235.4 1758.5,1241.4 1759.1,1235.2 1759.8,1241.2 1760.4,1234.3 1761.1,1240.7 1761.7,1237.0 1762.4,1241.2 1763.0,1235.5 1763.7,1241.6 1764.3,1234.9 1764.9,1240.6 1765.6,1235.2 1766.2,1240.8 1766.9,1235.3 1767.5,1240.7 1768.2,1234.3 1768.8,1240.7 1769.5,1233.9 1770.1,1240.6 1770.7,1234.3 1771.4,1240.8 1772.0,1233.6 1772.7,1239.3 1773.3,1232.4 1774.0,1240.0 1774.6,1236.0 1775.3,1241.4 1775.9,1233.6 1776.6,1239.9 1777.2,1236.4 1777.8,1241.1 1778.5,1234.9 1779.1,1240.8 1779.8,1235.0 1780.4,1239.5 1781.1,1234.1 1781.7,1239.6 1782.4,1233.7 1783.0,1238.3 1783.7,1233.5 1784.3,1237.5 1784.9,1230.2 1785.6,1238.0 1786.2,1229.2 1786.9,1235.5 1787.5,1227.6 1788.2,1235.3 1788.8,1228.0 1789.5,1234.6 1790.1,1226.0 1790.7,1232.6 1791.4,1225.5 1792.0,1231.4 1792.7,1222.8 1793.3,1228.8 1794.0,1221.4 1794.6,1227.1 1795.3,1221.7 1795.9,1226.2 1796.6,1218.8 1797.2,1225.5 1797.8,1217.8 1798.5,1223.6 1799.1,1213.9 1799.8,1221.0 1800.4,1215.1 1801.1,1220.7 1801.7,1212.2 1802.4,1219.7 1803.0,1212.2 1803.7,1217.2 1804.3,1210.2 1804.9,1217.6 1805.6,1211.3 1806.2,1216.0 1806.9,1210.6 1807.5,1217.2 1808.2,1212.8 1808.8,1218.5 1809.5,1213.2 1810.1,1219.4 1810.7,1215.9 1811.4,1223.9 1812.0,1218.8 1812.7,1223.8 1813.3,1219.4 1814.0,1228.5 1814.6,1219.6 1815.3,1231.5 1815.9,1222.0 1816.6,1234.9 1817.2,1223.9 1817.8,1233.9 1818.5,1226.1 1819.1,1235.9 1819.8,1228.0 1820.4,1236.6 1821.1,1228.2 1821.7,1235.9 1822.4,1231.7 1823.0,1235.4 1823.6,1232.1 1824.3,1236.4 1824.9,1230.3 1825.6,1236.6 1826.2,1231.9 1826.9,1237.3 1827.5,1232.4 1828.2,1240.2 1828.8,1231.9 1829.5,1239.1 1830.1,1232.7 1830.7,1238.9 1831.4,1234.9 1832.0,1239.7 1832.7,1234.1 1833.3,1239.8 1834.0,1233.5 1834.6,1241.1 1835.3,1234.1 1835.9,1239.4 1836.6,1233.2 1837.2,1239.8 1837.8,1235.7 1838.5,1241.7 1839.1,1235.1 1839.8,1240.8 1840.4,1235.0 1841.1,1241.1 1841.7,1236.4 1842.4,1242.1 1843.0,1236.5 1843.6,1243.3 1844.3,1239.2 1844.9,1243.4 1845.6,1238.0 1846.2,1244.3 1846.9,1238.6 1847.5,1245.4 1848.2,1237.1 1848.8,1245.0 1849.5,1236.3 1850.1,1245.5 1850.7,1236.7 1851.4,1244.4 1852.0,1237.0 1852.7,1247.2 1853.3,1238.2 1854.0,1244.8 1854.6,1239.3 1855.3,1245.4 1855.9,1238.7 1856.6,1244.5 1857.2,1240.5 1857.8,1244.3 1858.5,1240.2 1859.1,1246.3 1859.8,1239.8 1860.4,1245.5 1861.1,1240.4 1861.7,1244.7 1862.4,1239.1 1863.0,1245.4 1863.6,1240.2 1864.3,1245.5 1864.9,1237.8 1865.6,1244.4 1866.2,1238.7 1866.9,1244.7 1867.5,1237.3 1868.2,1242.3 1868.8,1237.0 1869.5,1244.1 1870.1,1237.8 1870.7,1243.7 1871.4,1238.1 1872.0,1243.9 1872.7,1237.3 1873.3,1243.8 1874.0,1235.3 1874.6,1243.6 1875.3,1235.5 1875.9,1244.3 1876.6,1234.6 1877.2,1244.0 1877.8,1236.6 1878.5,1244.8 1879.1,1237.0 1879.8,1244.5 1880.4,1238.1 1881.1,1243.7 1881.7,1236.2 1882.4,1243.3 1883.0,1236.5 1883.6,1243.1 1884.3,1236.8 1884.9,1242.4 1885.6,1234.6 1886.2,1242.6 1886.9,1235.3 1887.5,1240.9 1888.2,1233.8 1888.8,1240.6 1889.5,1232.5 1890.1,1239.0 1890.7,1233.1 1891.4,1238.6 1892.0,1232.5 1892.7,1238.7 1893.3,1233.1 1894.0,1237.9 1894.6,1234.5 1895.3,1239.4 1895.9,1236.3 1896.5,1239.7 1897.2,1235.9 1897.8,1242.1 1898.5,1237.2 1899.1,1241.9 1899.8,1237.0 1900.4,1240.7 1901.1,1236.8 1901.7,1242.1 1902.4,1235.5 1903.0,1242.4 1903.6,1235.3 1904.3,1241.6 1904.9,1233.7 1905.6,1240.6 1906.2,1231.6 1906.9,1237.6 1907.5,1230.9 1908.2,1239.4 1908.8,1229.1 1909.5,1238.1 1910.1,1229.3 1910.7,1237.8 1911.4,1228.7 1912.0,1237.5 1912.7,1228.4 1913.3,1234.0 1914.0,1227.0 1914.6,1235.6 1915.3,1225.6 1915.9,1234.3 1916.5,1224.5 1917.2,1233.2 1917.8,1223.0 1918.5,1233.1 1919.1,1223.3 1919.8,1230.3 1920.4,1223.5 1921.1,1233.0 1921.7,1222.8 1922.4,1231.1 1923.0,1223.6 M1956.6,1214.8 1957.2,1226.4 1957.9,1214.2 1958.5,1226.3 1959.2,1210.6 1959.8,1220.0 1960.5,1211.1 1961.1,1221.0 1961.8,1212.5 1962.4,1223.5 1963.1,1217.0 1963.7,1229.9 1964.3,1221.2 1965.0,1230.9 1965.6,1223.5 1966.3,1234.6 1966.9,1225.4 1967.6,1235.8 1968.2,1225.4 1968.9,1235.6 1969.5,1226.5 1970.2,1236.2 1970.8,1228.1 1971.4,1237.4 1972.1,1231.6 1972.7,1237.8 1973.4,1231.1 1974.0,1238.0 1974.7,1232.0 1975.3,1240.2 1976.0,1235.2 1976.6,1241.1 1977.2,1235.5 1977.9,1241.4 1978.5,1236.1 1979.2,1242.8 1979.8,1235.4 1980.5,1244.8 1981.1,1235.3 1981.8,1242.6 1982.4,1234.9 1983.1,1242.3 1983.7,1234.8 1984.3,1241.5 1985.0,1234.3 1985.6,1239.8 1986.3,1232.8 1986.9,1240.8 1987.6,1234.3 1988.2,1236.4 1988.9,1231.7 1989.5,1236.0 1990.2,1232.0 1990.8,1233.5 1991.4,1229.4 1992.1,1233.2 1992.7,1226.8 1993.4,1232.3 1994.0,1227.1 1994.7,1232.5 1995.3,1227.8 1996.0,1233.0 1996.6,1225.5 1997.3,1233.3 1997.9,1229.2 1998.5,1234.9 1999.2,1230.3 1999.8,1238.5 2000.5,1232.5 2001.1,1241.4 2001.8,1235.8 2002.4,1241.9 2003.1,1237.4 2003.7,1243.0 2004.3,1239.4 2005.0,1244.9 2005.6,1240.3 2006.3,1245.1 2006.9,1240.3 2007.6,1246.9 2008.2,1238.9 2008.9,1245.8 2009.5,1240.7 2010.2,1246.8 2010.8,1240.7 2011.4,1248.9 2012.1,1240.7 2012.7,1248.9 2013.4,1241.1 2014.0,1247.9 2014.7,1241.8 2015.3,1248.5 2016.0,1240.6 2016.6,1250.4 2017.3,1241.6 2017.9,1249.5 2018.5,1241.5 2019.2,1249.9 2019.8,1242.1 2020.5,1250.1 2021.1,1241.9 2021.8,1249.2 2022.4,1241.7 2023.1,1248.2 2023.7,1240.7 2024.4,1247.9 2025.0,1241.4 2025.6,1247.0 2026.3,1239.2 2026.9,1246.3 2027.6,1239.6 2028.2,1245.5 2028.9,1239.7 2029.5,1244.3 2030.2,1239.2 2030.8,1245.9 2031.4,1239.1 2032.1,1245.1 2032.7,1238.8 2033.4,1245.1 2034.0,1239.4 2034.7,1244.5 2035.3,1238.1 2036.0,1243.5 2036.6,1239.3 2037.3,1244.4 2037.9,1237.8 2038.5,1245.0 2039.2,1239.0 2039.8,1243.7 2040.5,1238.9 2041.1,1244.6 2041.8,1239.5 2042.4,1245.2 2043.1,1242.0 2043.7,1246.5 2044.4,1239.8 2045.0,1248.1 2045.6,1241.1 2046.3,1247.6 2046.9,1241.5 2047.6,1249.2 2048.2,1242.1 2048.9,1247.6 2049.5,1242.4 2050.2,1247.8 2050.8,1242.0 2051.5,1247.3 2052.1,1241.9 2052.7,1248.3 2053.4,1243.0 2054.0,1246.9 2054.7,1242.6 2055.3,1246.9 2056.0,1242.0 2056.6,1246.6 2057.3,1241.0 2057.9,1247.1 2058.5,1240.7 2059.2,1247.1 2059.8,1240.9 2060.5,1247.5 2061.1,1241.1 2061.8,1247.5 2062.4,1240.7 2063.1,1248.8 2063.7,1242.4 2064.4,1246.2 2065.0,1241.4 2065.6,1246.2 2066.3,1241.1 2066.9,1246.5 2067.6,1241.0 2068.2,1244.2 2068.9,1241.7 2069.5,1244.8 2070.2,1240.4 2070.8,1246.3 2071.5,1239.7 2072.1,1245.8 2072.7,1239.6 2073.4,1245.0 2074.0,1239.9 2074.7,1244.9 2075.3,1241.4 2076.0,1244.8 2076.6,1240.9 2077.3,1246.6 2077.9,1242.4 2078.6,1247.8 2079.2,1243.1 2079.8,1246.8 2080.5,1243.4 2081.1,1249.8 2081.8,1244.8 2082.4,1249.3 2083.1,1244.2 2083.7,1251.2 2084.4,1245.9 2085.0,1251.2 2085.6,1245.6 2086.3,1251.2 2086.9,1244.7 2087.6,1250.5 2088.2,1244.9 2088.9,1250.3 2089.5,1242.4 2090.2,1250.6 2090.8,1243.2 2091.5,1247.8 2092.1,1243.5 2092.7,1247.9 2093.4,1241.3 2094.0,1247.5 2094.7,1241.6 2095.3,1247.5 2096.0,1240.2 2096.6,1248.6 2097.3,1240.3 2097.9,1247.8 2098.6,1241.3 2099.2,1246.4 2099.8,1240.9 2100.5,1245.1 2101.1,1238.5 2101.8,1246.6 2102.4,1238.2 2103.1,1245.3 2103.7,1239.6 2104.4,1245.5 2105.0,1238.6 2105.7,1245.0 2106.3,1238.4 2106.9,1246.3 2107.6,1238.5 2108.2,1246.3 2108.9,1238.0 2109.5,1245.1 2110.2,1238.0 2110.8,1244.3 2111.5,1238.3 2112.1,1243.2 2112.7,1236.1 2113.4,1244.7 2114.0,1234.5 2114.7,1242.2 2115.3,1234.6 2116.0,1239.9 2116.6,1232.6 2117.3,1236.6 2117.9,1227.7 2118.6,1229.3 2119.2,1219.4 2119.8,1218.8 2120.5,1204.4 2121.1,1204.5 2121.8,1193.4 2122.4,1197.7 2123.1,1194.5 2123.7,1204.8 2124.4,1204.6 2125.0,1217.5 2125.7,1214.5 2126.3,1220.3 2126.9,1213.5 2127.6,1214.9 2128.2,1206.9 2128.9,1210.5 2129.5,1207.4 2130.2,1215.8 2130.8,1217.6 2131.5,1227.7 2132.1,1228.4 2132.8,1238.9 2133.4,1236.3 2134.0,1242.5 2134.7,1239.3 2135.3,1245.2 2136.0,1238.4 2136.6,1243.7 2137.3,1240.0 2137.9,1244.9 2138.6,1240.8 2139.2,1244.8 2139.8,1239.0 2140.5,1244.1 2141.1,1241.0 2141.8,1245.1 2142.4,1240.9 2143.1,1246.7 2143.7,1239.7 2144.4,1244.7 2145.0,1240.6 2145.7,1245.4 2146.3,1239.6 2146.9,1245.5 2147.6,1239.9 2148.2,1245.3 2148.9,1237.1 2149.5,1244.6 2150.2,1237.7 2150.8,1243.1 2151.5,1236.5 2152.1,1243.0 2152.8,1236.7 2153.4,1244.0" fill="none" stroke="#E8DC30" stroke-width="6.5" stroke-linejoin="round" stroke-linecap="butt"/>
<path d="M250.3,1444.8 250.9,1478.2 251.6,1442.3 252.2,1474.8 252.9,1442.8 253.5,1473.8 254.2,1446.6 254.8,1471.9 255.5,1447.5 256.1,1467.8 256.7,1451.1 257.4,1466.3 258.0,1446.6 258.7,1468.1 259.3,1447.7 260.0,1466.3 260.6,1451.8 261.3,1469.7 261.9,1448.4 262.6,1471.2 263.2,1445.4 263.8,1470.1 264.5,1450.9 265.1,1466.0 265.8,1451.2 266.4,1466.8 267.1,1444.6 267.7,1463.9 268.4,1447.7 269.0,1463.4 269.6,1443.0 270.3,1458.7 270.9,1442.5 271.6,1472.3 272.2,1426.3 272.9,1467.4 273.5,1437.4 274.2,1457.3 274.8,1437.8 275.5,1454.6 276.1,1433.4 276.7,1456.5 277.4,1426.7 278.0,1452.2 278.7,1428.0 279.3,1450.9 280.0,1430.0 280.6,1458.3 281.3,1436.1 281.9,1469.6 282.5,1437.6 283.2,1461.8 283.8,1432.9 284.5,1467.2 285.1,1441.6 285.8,1466.9 286.4,1441.2 287.1,1466.3 287.7,1433.7 288.4,1466.9 289.0,1446.8 289.6,1467.8 290.3,1446.2 290.9,1472.3 291.6,1449.3 292.2,1469.4 292.9,1450.3 293.5,1470.0 294.2,1448.8 294.8,1466.6 295.4,1451.2 296.1,1466.2 296.7,1449.8 297.4,1468.2 298.0,1447.8 298.7,1468.2 299.3,1451.3 300.0,1477.4 300.6,1445.0 301.2,1470.4 301.9,1447.1 302.5,1473.2 303.2,1448.2 303.8,1472.6 304.5,1447.7 305.1,1473.2 305.8,1448.4 306.4,1473.9 307.1,1452.0 307.7,1471.5 308.3,1450.2 309.0,1472.1 309.6,1454.7 310.3,1473.4 310.9,1456.6 311.6,1473.7 312.2,1455.8 312.9,1479.6 313.5,1455.3 314.1,1480.7 314.8,1456.5 315.4,1481.0 316.1,1459.0 316.7,1479.1 317.4,1455.6 318.0,1482.9 318.7,1460.1 319.3,1483.2 320.0,1458.0 320.6,1484.1 321.2,1461.3 321.9,1479.9 322.5,1466.1 323.2,1480.1 323.8,1462.3 324.5,1483.5 325.1,1465.6 325.8,1478.3 326.4,1463.7 327.0,1482.9 327.7,1463.7 328.3,1482.1 329.0,1467.8 329.6,1482.0 330.3,1467.2 330.9,1486.9 331.6,1469.2 332.2,1485.9 332.9,1469.0 333.5,1487.0 334.1,1462.8 334.8,1485.0 335.4,1462.9 336.1,1485.6 336.7,1457.8 337.4,1481.1 338.0,1452.1 338.7,1478.9 339.3,1453.9 339.9,1477.5 340.6,1455.7 341.2,1476.7 341.9,1453.4 342.5,1480.4 343.2,1446.2 343.8,1483.9 344.5,1462.1 345.1,1480.1 345.7,1461.9 346.4,1481.9 347.0,1468.6 347.7,1485.3 348.3,1470.1 349.0,1492.3 349.6,1463.8 350.3,1483.3 350.9,1463.6 351.6,1488.7 352.2,1466.8 352.8,1486.1 353.5,1463.5 354.1,1483.4 354.8,1469.7 355.4,1487.8 356.1,1468.3 356.7,1484.4 357.4,1463.4 358.0,1483.8 358.6,1470.7 359.3,1486.2 359.9,1468.3 360.6,1485.4 361.2,1470.4 361.9,1488.9 362.5,1467.1 363.2,1481.8 363.8,1470.3 364.5,1488.3 365.1,1470.6 365.7,1489.1 366.4,1469.8 367.0,1487.8 367.7,1471.9 368.3,1486.8 369.0,1474.6 369.6,1495.2 370.3,1472.8 370.9,1491.3 371.5,1475.7 372.2,1490.4 372.8,1474.4 373.5,1487.8 374.1,1475.7 374.8,1488.6 375.4,1474.4 376.1,1488.5 376.7,1471.6 377.4,1487.2 378.0,1476.1 378.6,1488.1 379.3,1473.0 379.9,1491.6 380.6,1476.2 381.2,1488.8 381.9,1478.0 382.5,1488.1 383.2,1475.9 383.8,1487.2 384.4,1467.2 385.1,1487.5 385.7,1477.8 386.4,1486.3 387.0,1477.4 387.7,1490.6 388.3,1480.4 389.0,1489.9 389.6,1481.7 390.2,1490.9 390.9,1478.6 391.5,1492.5 392.2,1481.2 392.8,1490.9 393.5,1479.9 394.1,1489.7 394.8,1480.1 395.4,1488.7 396.1,1477.2 396.7,1489.0 397.3,1478.4 398.0,1491.5 398.6,1477.0 399.3,1490.5 399.9,1475.8 400.6,1486.3 401.2,1481.2 401.9,1490.2 402.5,1479.5 403.1,1492.2 403.8,1480.0 404.4,1492.3 405.1,1479.6 405.7,1491.2 406.4,1480.7 407.0,1492.2 407.7,1479.5 408.3,1492.8 409.0,1479.2 409.6,1494.4 410.2,1481.2 410.9,1490.5 411.5,1474.8 412.2,1488.7 412.8,1478.7 413.5,1489.8 414.1,1468.4 414.8,1492.9 415.4,1478.9 416.0,1494.3 416.7,1479.6 417.3,1493.4 418.0,1480.5 418.6,1494.7 419.3,1480.9 419.9,1497.3 420.6,1482.9 421.2,1500.4 421.8,1484.5 422.5,1500.5 423.1,1482.7 423.8,1502.4 424.4,1483.3 425.1,1502.7 425.7,1488.3 426.4,1500.7 427.0,1488.6 427.7,1499.7 428.3,1487.3 428.9,1502.0 429.6,1491.1 430.2,1505.2 430.9,1489.4 431.5,1505.1 432.2,1492.0 432.8,1506.8 433.5,1491.1 434.1,1508.0 434.7,1493.4 435.4,1505.9 436.0,1493.0 436.7,1501.2 437.3,1492.0 438.0,1502.7 438.6,1493.1 439.3,1503.6 439.9,1492.6 440.6,1502.7 441.2,1491.7 441.8,1502.8 442.5,1490.0 443.1,1503.9 443.8,1481.6 444.4,1502.1 445.1,1491.2 445.7,1503.5 446.4,1488.6 447.0,1501.2 447.6,1490.0 448.3,1499.5 448.9,1488.4 449.6,1502.7 450.2,1489.1 450.9,1503.5 451.5,1487.2 452.2,1499.4 452.8,1485.5 453.5,1500.4 454.1,1489.8 454.7,1504.8 455.4,1496.2 456.0,1500.3 456.7,1497.4 457.3,1501.6 458.0,1497.0 458.6,1505.2 459.3,1500.0 459.9,1505.2 460.5,1498.6 461.2,1506.1 461.8,1498.9 462.5,1505.2 463.1,1499.1 463.8,1507.0 464.4,1498.4 465.1,1509.3 465.7,1498.7 466.3,1508.6 467.0,1498.5 467.6,1507.5 468.3,1497.5 468.9,1508.1 469.6,1499.7 470.2,1507.1 470.9,1496.9 471.5,1507.7 472.2,1496.6 472.8,1506.2 473.4,1495.3 474.1,1506.1 474.7,1496.1 475.4,1504.2 476.0,1493.7 476.7,1507.4 477.3,1492.8 478.0,1504.7 478.6,1494.3 479.2,1503.7 479.9,1493.8 480.5,1504.5 481.2,1493.7 481.8,1504.3 482.5,1491.5 483.1,1505.3 483.8,1491.8 484.4,1504.6 485.1,1494.8 485.7,1508.3 486.3,1494.6 487.0,1505.8 487.6,1496.1 488.3,1505.9 488.9,1494.6 489.6,1505.5 490.2,1493.6 490.9,1507.0 491.5,1490.6 492.1,1505.5 492.8,1494.8 493.4,1507.9 494.1,1494.2 494.7,1509.0 495.4,1493.8 496.0,1506.5 496.7,1494.7 497.3,1508.4 498.0,1495.6 498.6,1508.5 499.2,1497.4 499.9,1507.4 500.5,1497.5 501.2,1509.4 501.8,1498.3 502.5,1511.3 503.1,1500.0 503.8,1511.2 504.4,1499.8 505.0,1512.0 505.7,1498.6 506.3,1511.8 507.0,1500.1 507.6,1510.2 508.3,1498.3 508.9,1510.9 509.6,1501.4 510.2,1506.6 510.8,1500.5 511.5,1511.0 512.1,1500.0 512.8,1510.2 513.4,1499.5 514.1,1508.1 514.7,1500.2 515.4,1507.6 516.0,1498.8 516.7,1506.7 517.3,1497.9 517.9,1505.4 518.6,1497.8 519.2,1506.8 519.9,1489.7 520.5,1508.9 521.2,1494.9 521.8,1506.0 522.5,1495.8 523.1,1505.7 523.7,1498.0 524.4,1508.0 525.0,1497.5 525.7,1508.6 526.3,1499.7 527.0,1506.9 527.6,1496.4 528.3,1509.5 528.9,1496.4 529.6,1506.7 530.2,1498.7 530.8,1508.4 531.5,1498.5 532.1,1507.4 532.8,1499.7 533.4,1508.5 534.1,1501.1 534.7,1507.5 535.4,1500.5 536.0,1509.2 536.6,1500.3 537.3,1509.6 537.9,1499.9 538.6,1507.9 539.2,1499.0 539.9,1507.5 540.5,1502.0 541.2,1508.0 541.8,1501.8 542.5,1507.1 543.1,1500.1 543.7,1510.2 544.4,1501.8 545.0,1506.6 545.7,1502.9 546.3,1506.8 547.0,1502.0 547.6,1508.3 548.3,1501.8 548.9,1507.9 549.5,1501.0 550.2,1506.6 550.8,1500.9 551.5,1508.8 552.1,1499.2 552.8,1507.8 553.4,1500.7 554.1,1505.8 554.7,1499.5 555.3,1506.4 556.0,1500.3 556.6,1507.3 557.3,1500.8 557.9,1507.9 558.6,1500.1 559.2,1511.5 559.9,1502.8 560.5,1511.8 561.2,1501.0 561.8,1510.0 562.4,1502.6 563.1,1514.1 563.7,1502.6 564.4,1510.9 565.0,1505.6 565.7,1512.7 566.3,1507.3 567.0,1511.0 567.6,1504.8 568.2,1511.4 568.9,1506.1 569.5,1512.0 570.2,1505.5 570.8,1511.1 571.5,1503.4 572.1,1513.7 572.8,1505.0 573.4,1513.9 574.1,1503.9 574.7,1511.9 575.3,1506.0 576.0,1514.7 576.6,1503.2 577.3,1514.0 577.9,1505.8 578.6,1515.5 579.2,1505.6 579.9,1516.0 580.5,1507.1 581.1,1516.2 581.8,1507.7 582.4,1515.5 583.1,1506.1 583.7,1514.5 584.4,1504.8 585.0,1513.6 585.7,1506.4 586.3,1512.6 587.0,1503.5 587.6,1512.7 588.2,1502.9 588.9,1512.1 589.5,1503.0 590.2,1511.3 590.8,1504.0 591.5,1512.4 592.1,1502.8 592.8,1512.8 593.4,1503.8 594.0,1513.8 594.7,1502.2 595.3,1514.6 596.0,1504.8 596.6,1514.0 597.3,1503.9 597.9,1514.5 598.6,1505.2 599.2,1514.9 599.8,1504.3 600.5,1512.9 601.1,1502.8 601.8,1512.0 602.4,1504.7 603.1,1513.5 603.7,1507.1 604.4,1513.6 605.0,1507.7 605.7,1512.3 606.3,1508.6 606.9,1512.9 607.6,1507.8 608.2,1516.8 608.9,1507.8 609.5,1516.8 610.2,1509.0 610.8,1515.0 611.5,1506.9 612.1,1515.5 612.7,1505.6 613.4,1515.1 614.0,1505.3 614.7,1515.1 615.3,1503.8 616.0,1515.0 616.6,1503.9 617.3,1514.3 617.9,1503.5 618.6,1513.9 619.2,1504.5 619.8,1513.1 620.5,1501.5 621.1,1511.4 621.8,1501.1 622.4,1511.3 623.1,1501.0 623.7,1508.7 624.4,1499.4 625.0,1508.2 625.6,1495.4 626.3,1510.3 626.9,1498.7 627.6,1505.9 628.2,1499.9 628.9,1506.7 629.5,1500.4 630.2,1510.6 630.8,1502.2 631.5,1508.3 632.1,1502.8 632.7,1510.9 633.4,1501.9 634.0,1511.9 634.7,1501.5 635.3,1510.7 636.0,1503.9 636.6,1514.0 637.3,1502.4 637.9,1512.4 638.5,1502.7 639.2,1510.5 639.8,1505.0 640.5,1512.1 641.1,1506.2 641.8,1512.1 642.4,1505.1 643.1,1512.2 643.7,1504.1 644.3,1512.9 645.0,1507.5 645.6,1515.2 646.3,1506.7 646.9,1516.0 647.6,1503.8 648.2,1514.4 648.9,1505.3 649.5,1515.5 650.2,1506.8 650.8,1515.6 651.4,1504.0 652.1,1511.0 652.7,1505.9 653.4,1512.6 654.0,1503.4 654.7,1511.2 655.3,1503.4 656.0,1510.4 656.6,1502.3 657.2,1509.5 657.9,1503.4 658.5,1509.3 659.2,1502.8 659.8,1509.2 660.5,1501.5 661.1,1506.3 661.8,1499.0 662.4,1504.3 663.1,1498.3 663.7,1505.0 664.3,1496.0 665.0,1506.5 665.6,1496.7 666.3,1503.2 666.9,1498.2 667.6,1505.8 668.2,1497.7 668.9,1512.3 669.5,1502.1 670.1,1511.7 670.8,1506.3 671.4,1513.5 672.1,1503.5 672.7,1514.7 673.4,1505.5 674.0,1512.8 674.7,1504.4 675.3,1513.2 675.9,1504.0 676.6,1513.9 677.2,1503.9 677.9,1513.9 678.5,1499.8 679.2,1512.0 679.8,1500.8 680.5,1510.1 681.1,1503.2 681.8,1509.8 682.4,1501.8 683.0,1511.4 683.7,1503.4 684.3,1512.0 685.0,1503.5 685.6,1514.0 686.3,1503.1 686.9,1511.3 687.6,1504.1 688.2,1513.2 688.8,1506.6 689.5,1513.7 690.1,1506.2 690.8,1513.3 691.4,1506.1 692.1,1512.6 692.7,1507.2 693.4,1513.1 694.0,1506.1 694.7,1516.2 695.3,1506.5 695.9,1515.2 696.6,1504.8 697.2,1516.1 697.9,1506.6 698.5,1513.8 699.2,1505.6 699.8,1516.3 700.5,1503.6 701.1,1512.1 701.7,1505.4 702.4,1514.4 703.0,1504.7 703.7,1512.7 704.3,1505.0 705.0,1513.1 705.6,1504.6 706.3,1512.4 706.9,1505.0 707.6,1513.5 708.2,1504.8 708.8,1515.5 709.5,1504.5 710.1,1512.2 710.8,1502.5 711.4,1514.8 712.1,1503.0 712.7,1512.4 713.4,1505.4 714.0,1512.4 714.6,1505.1 715.3,1511.4 715.9,1504.5 716.6,1515.1 717.2,1505.5 717.9,1515.5 718.5,1506.5 719.2,1514.6 719.8,1508.1 720.4,1516.7 721.1,1507.1 721.7,1519.4 722.4,1508.8 723.0,1514.9 723.7,1510.1 724.3,1514.8 725.0,1510.4 725.6,1516.1 726.3,1509.6 726.9,1515.1 727.5,1509.2 728.2,1514.8 728.8,1506.3 729.5,1513.4 730.1,1506.1 730.8,1510.9 731.4,1505.3 732.1,1508.5 732.7,1504.6 733.3,1509.4 734.0,1501.8 734.6,1507.1 735.3,1501.9 735.9,1507.1 736.6,1503.1 737.2,1511.2 737.9,1499.3 738.5,1511.0 739.2,1497.6 739.8,1510.7 740.4,1500.2 741.1,1511.7 741.7,1501.0 742.4,1510.1 743.0,1503.1 743.7,1511.0 744.3,1502.0 745.0,1510.0 745.6,1501.4 746.2,1511.2 746.9,1504.1 747.5,1509.6 748.2,1503.1 748.8,1511.3 749.5,1502.1 750.1,1508.1 750.8,1500.0 751.4,1507.7 752.1,1499.5 752.7,1503.1 753.3,1494.1 754.0,1500.4 754.6,1489.7 755.3,1493.6 755.9,1483.2 756.6,1478.3 757.2,1456.6 757.9,1448.4 758.5,1415.3 759.1,1392.6 759.8,1351.1 760.4,1323.9 761.1,1285.2 761.7,1281.0 762.4,1270.9 763.0,1303.0 763.7,1318.8 764.3,1365.8 764.9,1391.2 765.6,1429.1 766.2,1444.0 766.9,1471.9 767.5,1476.0 768.2,1491.4 768.8,1489.4 769.5,1502.5 770.1,1496.2 770.8,1506.6 771.4,1499.3 772.0,1508.8 772.7,1503.3 773.3,1510.4 774.0,1501.2 774.6,1512.8 775.3,1503.7 775.9,1512.9 776.6,1505.2 777.2,1513.3 777.8,1505.9 778.5,1509.8 779.1,1502.4 779.8,1512.2 780.4,1502.6 781.1,1509.6 781.7,1502.2 782.4,1510.8 783.0,1503.6 783.7,1511.1 784.3,1504.5 784.9,1509.7 785.6,1503.8 786.2,1510.4 786.9,1503.5 787.5,1511.8 788.2,1504.3 788.8,1513.0 789.5,1507.7 790.1,1513.6 790.7,1507.1 791.4,1512.9 792.0,1507.8 792.7,1513.9 793.3,1505.8 794.0,1517.3 794.6,1508.5 795.3,1516.0 795.9,1507.2 796.6,1516.9 797.2,1508.9 797.8,1518.9 798.5,1508.2 799.1,1517.2 799.8,1509.6 800.4,1516.5 801.1,1509.1 801.7,1518.9 802.4,1507.9 803.0,1518.3 803.6,1508.9 804.3,1518.9 804.9,1509.8 805.6,1519.7 806.2,1511.3 806.9,1519.6 807.5,1508.9 808.2,1518.2 808.8,1508.6 809.4,1517.3 810.1,1507.6 810.7,1516.3 811.4,1508.8 812.0,1517.8 812.7,1507.5 813.3,1516.8 814.0,1507.0 814.6,1516.1 815.3,1506.4 815.9,1517.0 816.5,1509.2 817.2,1518.3 817.8,1507.1 818.5,1521.6 819.1,1507.1 819.8,1518.7 820.4,1506.7 821.1,1517.0 821.7,1507.0 822.3,1515.9 823.0,1507.3 823.6,1515.5 824.3,1507.5 824.9,1513.8 825.6,1509.3 826.2,1516.4 826.9,1507.9 827.5,1515.4 828.2,1506.7 828.8,1514.5 829.4,1505.7 830.1,1510.4 830.7,1503.9 831.4,1507.8 832.0,1500.7 832.7,1503.3 833.3,1495.2 834.0,1499.8 834.6,1493.3 835.2,1497.4 835.9,1491.8 836.5,1497.4 837.2,1493.5 837.8,1502.0 838.5,1496.4 839.1,1506.4 839.8,1498.5 840.4,1507.3 841.1,1498.6 841.7,1511.2 842.3,1504.3 843.0,1512.2 843.6,1505.5 844.3,1513.2 844.9,1505.7 845.6,1514.6 846.2,1505.7 846.9,1514.4 847.5,1507.7 848.1,1514.3 848.8,1507.4 849.4,1514.5 850.1,1507.5 850.7,1513.9 851.4,1507.4 852.0,1512.6 852.7,1503.8 853.3,1510.8 853.9,1500.6 854.6,1508.9 855.2,1497.2 855.9,1506.9 856.5,1493.9 857.2,1500.6 857.8,1487.4 858.5,1496.3 859.1,1484.2 859.8,1492.8 860.4,1486.0 861.0,1495.6 861.7,1489.0 862.3,1498.5 863.0,1494.9 863.6,1502.9 864.3,1495.8 864.9,1505.1 865.6,1498.3 866.2,1508.5 866.8,1500.4 867.5,1510.5 868.1,1500.7 868.8,1509.8 869.4,1503.2 870.1,1512.3 870.7,1503.5 871.4,1511.6 872.0,1504.0 872.7,1511.3 873.3,1503.7 873.9,1510.5 874.6,1503.5 875.2,1512.1 875.9,1502.7 876.5,1510.1 877.2,1502.3 877.8,1510.3 878.5,1502.0 879.1,1511.6 879.7,1502.8 880.4,1511.6 881.0,1500.3 881.7,1509.3 882.3,1501.7 883.0,1512.4 883.6,1501.7 884.3,1513.6 884.9,1501.6 885.5,1513.8 886.2,1505.6 886.8,1520.2 887.5,1506.0 888.1,1517.5 888.8,1506.3 889.4,1516.8 890.1,1506.9 890.7,1512.9 891.4,1504.3 892.0,1514.1 892.6,1504.0 893.3,1512.2 893.9,1502.7 894.6,1511.8 895.2,1503.0 895.9,1510.9 896.5,1502.5 897.2,1511.9 897.8,1502.2 898.4,1512.0 899.1,1502.9 899.7,1511.3 900.4,1502.8 901.0,1511.3 901.7,1504.1 902.3,1509.6 903.0,1503.4 903.6,1511.0 904.3,1501.9 904.9,1510.2 905.5,1501.5 906.2,1509.7 906.8,1502.0 907.5,1509.2 908.1,1504.0 908.8,1513.3 909.4,1503.0 910.1,1510.1 910.7,1503.9 911.3,1511.5 912.0,1503.1 912.6,1511.1 913.3,1503.7 913.9,1510.0 914.6,1501.9 915.2,1514.1 915.9,1505.3 916.5,1514.1 917.2,1507.0 917.8,1513.3 918.4,1504.2 919.1,1512.8 919.7,1505.7 920.4,1514.6 921.0,1505.4 921.7,1512.1 922.3,1505.0 923.0,1512.6 923.6,1504.5 924.2,1512.5 924.9,1504.6 925.5,1512.2 926.2,1502.8 926.8,1510.5 927.5,1500.6 928.1,1509.8 928.8,1499.4 929.4,1504.4 930.0,1497.7 930.7,1503.6 931.3,1496.0 932.0,1502.7 932.6,1492.8 933.3,1500.8 933.9,1492.8 934.6,1500.1 935.2,1493.3 935.9,1500.4 936.5,1494.1 937.1,1502.5 937.8,1492.5 938.4,1500.5 939.1,1492.2 939.7,1499.7 940.4,1489.8 941.0,1498.9 941.7,1488.0 942.3,1494.5 942.9,1484.9 943.6,1489.9 944.2,1478.8 944.9,1481.8 945.5,1468.9 946.2,1467.3 946.8,1450.6 947.5,1442.1 948.1,1418.0 948.8,1407.9 949.4,1380.4 950.0,1370.6 950.7,1341.6 951.3,1338.4 952.0,1325.1 952.6,1341.0 953.3,1341.5 953.9,1368.3 954.6,1377.8 955.2,1404.9 955.8,1412.2 956.5,1434.7 957.1,1424.7 957.8,1448.8 958.4,1441.2 959.1,1449.0 959.7,1435.2 960.4,1433.5 961.0,1413.3 961.7,1407.1 962.3,1383.3 962.9,1371.6 963.6,1350.2 964.2,1348.2 964.9,1334.2 965.5,1340.6 966.2,1343.4 966.8,1364.7 967.5,1374.3 968.1,1396.6 968.7,1408.5 969.4,1429.9 970.0,1435.9 970.7,1451.0 971.3,1453.6 972.0,1464.8 972.6,1466.6 973.3,1474.7 973.9,1471.0 974.5,1479.6 975.2,1473.8 975.8,1480.3 976.5,1473.5 977.1,1480.1 977.8,1473.9 978.4,1480.3 979.1,1467.2 979.7,1476.2 980.4,1465.3 981.0,1468.5 981.6,1452.7 982.3,1454.8 982.9,1440.5 983.6,1438.0 984.2,1425.0 984.9,1419.8 985.5,1406.0 986.2,1406.1 986.8,1390.6 987.4,1396.0 988.1,1388.1 988.7,1397.7 989.4,1395.9 990.0,1409.5 990.7,1410.8 991.3,1430.2 992.0,1431.3 992.6,1450.0 993.3,1448.8 993.9,1463.5 994.5,1464.5 995.2,1478.2 995.8,1473.5 996.5,1487.4 997.1,1483.0 997.8,1492.0 998.4,1484.2 999.1,1496.1 999.7,1490.1 1000.3,1501.1 1001.0,1491.3 1001.6,1500.7 1002.3,1494.8 1002.9,1504.8 1003.6,1497.7 1004.2,1506.3 1004.9,1501.6 1005.5,1507.8 1006.2,1502.1 1006.8,1507.9 1007.4,1501.3 1008.1,1510.9 1008.7,1502.9 1009.4,1510.5 1010.0,1500.9 1010.7,1510.7 1011.3,1498.7 1012.0,1510.1 1012.6,1500.0 M1048.2,1508.5 1048.8,1517.3 1049.5,1506.7 1050.1,1517.4 1050.8,1505.1 1051.4,1511.8 1052.1,1502.7 1052.7,1512.2 1053.4,1502.8 1054.0,1511.8 1054.7,1501.6 1055.3,1512.4 1055.9,1501.2 1056.6,1510.2 1057.2,1503.1 1057.9,1513.2 1058.5,1502.0 1059.2,1512.4 1059.8,1503.6 1060.5,1517.0 1061.1,1502.7 1061.7,1515.5 1062.4,1507.3 1063.0,1515.7 1063.7,1506.7 1064.3,1517.9 1065.0,1504.9 1065.6,1519.6 1066.3,1505.8 1066.9,1515.6 1067.6,1508.4 1068.2,1514.2 1068.8,1506.6 1069.5,1514.5 1070.1,1508.9 1070.8,1516.6 1071.4,1508.3 1072.1,1515.7 1072.7,1509.5 1073.4,1516.1 1074.0,1509.1 1074.7,1514.6 1075.3,1509.0 1075.9,1515.8 1076.6,1509.2 1077.2,1517.4 1077.9,1509.3 1078.5,1516.9 1079.2,1511.8 1079.8,1519.5 1080.5,1514.2 1081.1,1517.9 1081.7,1513.1 1082.4,1519.5 1083.0,1513.2 1083.7,1518.1 1084.3,1513.4 1085.0,1518.9 1085.6,1515.3 1086.3,1518.9 1086.9,1513.6 1087.6,1519.5 1088.2,1512.7 1088.8,1518.6 1089.5,1514.3 1090.1,1519.3 1090.8,1511.2 1091.4,1518.7 1092.1,1512.5 1092.7,1518.4 1093.4,1508.8 1094.0,1514.5 1094.6,1503.2 1095.3,1499.6 1095.9,1480.8 1096.6,1465.4 1097.2,1430.7 1097.9,1402.6 1098.5,1355.1 1099.2,1319.7 1099.8,1281.4 1100.5,1268.1 1101.1,1259.7 1101.7,1279.4 1102.4,1299.6 1103.0,1335.9 1103.7,1360.5 1104.3,1394.7 1105.0,1407.3 1105.6,1427.7 1106.3,1430.9 1106.9,1448.6 1107.6,1451.3 1108.2,1470.4 1108.8,1475.2 1109.5,1491.5 1110.1,1494.9 1110.8,1508.7 1111.4,1505.4 1112.1,1514.1 1112.7,1509.1 1113.4,1517.4 1114.0,1509.7 1114.6,1517.6 1115.3,1509.7 1115.9,1516.6 1116.6,1509.6 1117.2,1515.5 1117.9,1506.4 1118.5,1514.4 1119.2,1507.6 1119.8,1514.9 1120.5,1505.9 1121.1,1513.3 1121.7,1506.3 1122.4,1514.4 1123.0,1503.8 1123.7,1512.2 1124.3,1503.1 1125.0,1513.3 1125.6,1502.7 1126.3,1510.0 1126.9,1502.0 1127.6,1509.4 1128.2,1500.9 1128.8,1508.2 1129.5,1499.1 1130.1,1505.0 1130.8,1497.3 1131.4,1503.8 1132.1,1496.4 1132.7,1502.2 1133.4,1494.7 1134.0,1500.8 1134.6,1494.5 1135.3,1498.8 1135.9,1494.3 1136.6,1499.9 1137.2,1492.4 1137.9,1500.0 1138.5,1493.2 1139.2,1501.1 1139.8,1493.5 1140.5,1502.3 1141.1,1493.7 1141.7,1500.8 1142.4,1492.2 1143.0,1498.4 1143.7,1490.2 1144.3,1495.8 1145.0,1486.2 1145.6,1492.3 1146.3,1484.8 1146.9,1492.3 1147.6,1488.1 1148.2,1499.5 1148.8,1492.6 1149.5,1505.5 1150.1,1498.4 1150.8,1509.0 1151.4,1504.2 1152.1,1512.8 1152.7,1508.3 1153.4,1513.8 1154.0,1507.5 1154.6,1515.1 1155.3,1509.5 1155.9,1516.3 1156.6,1511.8 1157.2,1518.0 1157.9,1512.8 1158.5,1518.6 1159.2,1512.2 1159.8,1518.6 1160.5,1512.6 1161.1,1517.9 1161.7,1511.1 1162.4,1518.0 1163.0,1510.1 1163.7,1518.4 1164.3,1510.3 1165.0,1517.6 1165.6,1509.9 1166.3,1515.3 1166.9,1509.6 1167.5,1514.2 1168.2,1509.7 1168.8,1514.7 1169.5,1508.7 1170.1,1513.9 1170.8,1507.9 1171.4,1512.6 1172.1,1505.0 1172.7,1510.9 1173.4,1502.2 1174.0,1508.7 1174.6,1499.1 1175.3,1507.0 1175.9,1497.5 1176.6,1506.5 1177.2,1496.9 1177.9,1505.8 1178.5,1497.8 1179.2,1507.5 1179.8,1501.6 1180.5,1507.0 1181.1,1502.9 1181.7,1510.1 1182.4,1504.8 1183.0,1509.9 1183.7,1506.4 1184.3,1509.7 1185.0,1506.2 1185.6,1511.0 1186.3,1504.6 1186.9,1511.9 1187.5,1505.7 1188.2,1513.2 1188.8,1505.3 1189.5,1509.7 1190.1,1502.2 1190.8,1507.0 1191.4,1496.8 1192.1,1501.7 1192.7,1494.1 1193.4,1495.7 1194.0,1485.8 1194.6,1489.9 1195.3,1480.1 1195.9,1484.8 1196.6,1480.6 1197.2,1490.6 1197.9,1486.8 1198.5,1495.8 1199.2,1494.2 1199.8,1502.6 1200.5,1500.5 1201.1,1508.1 1201.7,1504.0 1202.4,1513.8 1203.0,1507.3 1203.7,1516.5 1204.3,1510.1 1205.0,1518.1 1205.6,1510.0 1206.3,1519.5 1206.9,1511.3 1207.5,1519.8 1208.2,1513.9 1208.8,1521.7 1209.5,1512.8 1210.1,1523.5 1210.8,1513.4 1211.4,1520.5 1212.1,1514.3 1212.7,1520.3 1213.4,1515.1 1214.0,1519.1 1214.6,1515.7 1215.3,1519.5 1215.9,1515.1 1216.6,1519.3 1217.2,1514.1 1217.9,1520.9 1218.5,1513.5 1219.2,1521.6 1219.8,1514.0 1220.5,1519.6 1221.1,1513.5 1221.7,1520.2 1222.4,1515.1 1223.0,1521.1 1223.7,1514.3 1224.3,1521.9 1225.0,1515.0 1225.6,1520.1 1226.3,1516.7 1226.9,1522.1 1227.5,1516.2 1228.2,1524.3 1228.8,1517.8 1229.5,1523.5 1230.1,1519.1 1230.8,1524.9 1231.4,1519.6 1232.1,1528.6 1232.7,1521.3 1233.4,1528.1 1234.0,1521.3 1234.6,1527.5 1235.3,1521.9 1235.9,1525.9 1236.6,1521.0 1237.2,1525.8 1237.9,1519.9 1238.5,1523.4 1239.2,1516.8 1239.8,1522.0 1240.4,1514.9 1241.1,1520.5 1241.7,1513.9 1242.4,1519.6 1243.0,1510.4 1243.7,1517.2 1244.3,1508.7 1245.0,1516.5 1245.6,1510.7 1246.3,1517.7 1246.9,1508.8 1247.5,1517.3 1248.2,1509.8 1248.8,1516.5 1249.5,1509.9 1250.1,1518.0 1250.8,1511.4 1251.4,1518.2 1252.1,1511.9 1252.7,1519.1 1253.4,1513.1 1254.0,1520.3 1254.6,1513.8 1255.3,1521.7 1255.9,1514.7 1256.6,1522.1 1257.2,1516.1 1257.9,1521.9 1258.5,1515.2 1259.2,1521.7 1259.8,1517.0 1260.4,1523.5 1261.1,1516.2 1261.7,1524.3 1262.4,1517.0 1263.0,1523.9 1263.7,1515.9 1264.3,1523.7 1265.0,1516.0 1265.6,1522.7 1266.3,1513.2 1266.9,1521.3 1267.5,1513.8 1268.2,1522.3 1268.8,1513.8 1269.5,1521.9 1270.1,1513.9 1270.8,1522.2 1271.4,1515.3 1272.1,1521.4 1272.7,1514.2 1273.4,1522.4 1274.0,1515.4 1274.6,1522.8 1275.3,1514.8 1275.9,1522.8 1276.6,1515.4 1277.2,1523.2 1277.9,1515.6 1278.5,1521.8 1279.2,1514.9 1279.8,1521.3 1280.4,1513.0 1281.1,1522.1 1281.7,1515.5 1282.4,1521.8 1283.0,1514.3 1283.7,1522.9 1284.3,1514.6 1285.0,1522.5 1285.6,1515.6 1286.3,1522.6 1286.9,1516.4 1287.5,1522.2 1288.2,1516.7 1288.8,1521.9 1289.5,1517.1 1290.1,1522.6 1290.8,1516.5 1291.4,1521.9 1292.1,1514.3 1292.7,1521.2 1293.4,1515.6 1294.0,1520.7 1294.6,1514.9 1295.3,1519.6 1295.9,1513.6 1296.6,1520.2 1297.2,1513.1 1297.9,1521.1 1298.5,1514.1 1299.2,1521.1 1299.8,1513.5 1300.4,1520.1 1301.1,1514.1 1301.7,1522.4 1302.4,1514.6 1303.0,1519.9 1303.7,1514.2 1304.3,1521.0 1305.0,1516.3 1305.6,1522.2 1306.3,1516.0 1306.9,1523.1 1307.5,1516.7 1308.2,1522.7 1308.8,1517.0 1309.5,1522.8 1310.1,1515.7 1310.8,1524.3 1311.4,1518.0 1312.1,1523.5 1312.7,1516.8 1313.3,1523.5 1314.0,1517.5 1314.6,1523.3 1315.3,1517.4 1315.9,1523.7 1316.6,1515.7 1317.2,1524.6 1317.9,1515.5 1318.5,1520.0 1319.2,1514.2 1319.8,1520.5 1320.4,1512.3 1321.1,1520.1 1321.7,1510.6 1322.4,1517.7 1323.0,1510.6 1323.7,1515.9 1324.3,1507.3 1325.0,1513.8 1325.6,1504.5 1326.3,1511.2 1326.9,1502.4 1327.5,1509.3 1328.2,1502.5 1328.8,1508.7 1329.5,1503.4 1330.1,1509.9 1330.8,1507.0 1331.4,1512.6 1332.1,1507.1 1332.7,1515.2 1333.3,1508.2 1334.0,1515.8 1334.6,1508.4 1335.3,1516.3 1335.9,1510.1 1336.6,1517.8 1337.2,1510.0 1337.9,1517.0 1338.5,1508.6 1339.2,1519.9 1339.8,1511.3 1340.4,1519.8 1341.1,1512.4 1341.7,1521.5 1342.4,1512.0 1343.0,1522.6 1343.7,1513.2 1344.3,1523.3 1345.0,1514.3 1345.6,1521.4 1346.3,1514.2 1346.9,1523.0 1347.5,1515.3 1348.2,1522.2 1348.8,1514.6 1349.5,1521.6 1350.1,1514.5 1350.8,1521.1 1351.4,1513.8 1352.1,1522.0 1352.7,1513.3 1353.3,1520.5 1354.0,1513.4 1354.6,1518.2 1355.3,1512.7 1355.9,1519.2 1356.6,1511.2 1357.2,1517.7 1357.9,1510.6 1358.5,1518.2 1359.2,1510.1 1359.8,1517.3 1360.4,1509.3 1361.1,1517.6 1361.7,1511.0 1362.4,1516.8 1363.0,1507.7 1363.7,1518.8 1364.3,1508.4 1365.0,1519.8 1365.6,1510.3 1366.3,1519.2 1366.9,1510.9 1367.5,1518.0 1368.2,1512.2 1368.8,1518.0 1369.5,1510.5 1370.1,1516.4 1370.8,1510.1 1371.4,1516.3 1372.1,1510.6 1372.7,1515.8 1373.3,1507.9 1374.0,1515.8 1374.6,1507.9 1375.3,1516.2 1375.9,1510.6 1376.6,1517.1 1377.2,1512.6 1377.9,1518.0 1378.5,1512.9 1379.2,1518.7 1379.8,1514.4 1380.4,1521.1 1381.1,1514.3 1381.7,1521.9 1382.4,1514.5 1383.0,1521.6 1383.7,1517.0 1384.3,1522.3 1385.0,1516.7 1385.6,1522.9 1386.2,1515.9 1386.9,1522.7 1387.5,1516.0 1388.2,1522.4 1388.8,1516.5 1389.5,1521.6 1390.1,1515.4 1390.8,1521.7 1391.4,1515.4 1392.1,1521.7 1392.7,1515.9 1393.3,1520.5 1394.0,1514.1 1394.6,1520.2 1395.3,1515.1 1395.9,1521.9 1396.6,1516.1 1397.2,1523.8 1397.9,1515.5 1398.5,1523.4 1399.2,1517.2 1399.8,1523.1 1400.4,1516.3 1401.1,1525.5 1401.7,1518.1 1402.4,1525.4 1403.0,1517.4 1403.7,1526.1 1404.3,1517.3 1405.0,1524.2 1405.6,1516.3 1406.2,1522.2 1406.9,1516.6 1407.5,1520.1 1408.2,1514.2 1408.8,1522.1 1409.5,1511.4 1410.1,1516.6 1410.8,1509.5 1411.4,1515.6 1412.1,1506.9 1412.7,1510.8 1413.3,1502.2 1414.0,1505.0 1414.6,1495.2 1415.3,1498.6 1415.9,1487.6 1416.6,1490.7 1417.2,1480.0 1417.9,1484.4 1418.5,1477.9 1419.2,1482.2 1419.8,1479.9 1420.4,1488.5 1421.1,1488.0 1421.7,1494.6 1422.4,1495.9 1423.0,1501.6 1423.7,1502.3 1424.3,1508.2 1425.0,1505.5 1425.6,1511.5 1426.2,1508.2 1426.9,1514.1 1427.5,1509.3 1428.2,1515.1 1428.8,1509.9 1429.5,1515.9 1430.1,1511.0 1430.8,1515.9 1431.4,1509.8 1432.1,1516.4 1432.7,1509.4 1433.3,1516.2 1434.0,1511.0 1434.6,1515.2 1435.3,1510.8 1435.9,1514.8 1436.6,1510.9 1437.2,1517.5 1437.9,1511.2 1438.5,1516.2 1439.2,1511.3 1439.8,1515.2 1440.4,1510.8 1441.1,1517.0 1441.7,1511.4 1442.4,1517.7 1443.0,1510.1 1443.7,1517.0 1444.3,1510.4 1445.0,1518.0 1445.6,1509.7 1446.2,1517.4 1446.9,1509.7 1447.5,1516.1 1448.2,1509.5 1448.8,1516.5 1449.5,1509.1 1450.1,1515.0 1450.8,1508.1 1451.4,1514.3 1452.1,1506.6 1452.7,1512.9 1453.3,1504.5 1454.0,1508.6 1454.6,1499.7 1455.3,1501.2 1455.9,1486.4 1456.6,1479.5 1457.2,1452.1 1457.9,1431.5 1458.5,1391.7 1459.1,1365.1 1459.8,1328.7 1460.4,1316.8 1461.1,1308.1 1461.7,1330.0 1462.4,1347.8 1463.0,1385.9 1463.7,1405.5 1464.3,1433.1 1465.0,1435.3 1465.6,1446.1 1466.2,1438.9 1466.9,1445.1 1467.5,1441.1 1468.2,1452.6 1468.8,1458.8 1469.5,1475.5 1470.1,1483.1 1470.8,1497.8 1471.4,1501.1 1472.1,1509.8 1472.7,1508.7 1473.3,1516.6 1474.0,1512.4 1474.6,1517.7 1475.3,1513.8 1475.9,1518.8 1476.6,1515.1 1477.2,1520.1 1477.9,1514.1 1478.5,1520.1 1479.1,1515.3 1479.8,1521.1 1480.4,1515.2 1481.1,1520.4 1481.7,1517.3 1482.4,1522.9 1483.0,1515.1 1483.7,1521.0 1484.3,1515.2 1485.0,1521.1 1485.6,1512.9 1486.2,1519.9 1486.9,1513.3 1487.5,1519.9 1488.2,1509.7 1488.8,1516.6 1489.5,1509.6 1490.1,1516.6 1490.8,1508.7 1491.4,1514.8 1492.1,1507.0 1492.7,1514.5 1493.3,1505.6 1494.0,1514.0 1494.6,1505.4 1495.3,1513.5 1495.9,1502.6 1496.6,1512.6 1497.2,1503.9 1497.9,1509.9 1498.5,1502.5 1499.1,1510.1 1499.8,1502.2 1500.4,1506.8 1501.1,1500.4 1501.7,1503.4 1502.4,1495.5 1503.0,1495.8 1503.7,1487.6 1504.3,1489.0 1505.0,1478.5 1505.6,1478.1 1506.2,1467.4 1506.9,1472.3 1507.5,1462.7 1508.2,1469.7 1508.8,1464.9 1509.5,1474.1 1510.1,1472.5 1510.8,1483.8 1511.4,1482.9 1512.1,1494.4 1512.7,1491.3 1513.3,1501.5 1514.0,1500.3 1514.6,1507.7 1515.3,1503.5 1515.9,1512.0 1516.6,1507.1 1517.2,1515.1 1517.9,1510.2 1518.5,1515.7 1519.1,1510.3 1519.8,1517.1 1520.4,1510.5 1521.1,1517.6 1521.7,1510.5 1522.4,1519.2 1523.0,1512.8 1523.7,1517.3 1524.3,1512.2 1525.0,1517.1 1525.6,1513.3 1526.2,1517.4 1526.9,1511.5 1527.5,1517.5 1528.2,1512.8 1528.8,1516.7 1529.5,1511.8 1530.1,1517.9 1530.8,1512.2 1531.4,1517.6 1532.0,1513.2 1532.7,1517.1 1533.3,1512.6 1534.0,1516.6 1534.6,1512.2 1535.3,1516.5 1535.9,1509.2 1536.6,1515.5 1537.2,1508.0 1537.9,1512.9 1538.5,1504.9 1539.1,1508.1 1539.8,1501.4 1540.4,1505.7 1541.1,1499.7 1541.7,1502.9 1542.4,1497.1 1543.0,1501.4 1543.7,1498.0 1544.3,1505.1 1545.0,1502.0 1545.6,1510.8 1546.2,1506.3 1546.9,1513.7 1547.5,1509.8 1548.2,1516.5 1548.8,1511.2 1549.5,1518.1 1550.1,1513.3 1550.8,1521.6 1551.4,1513.4 1552.0,1521.0 1552.7,1513.7 1553.3,1522.8 1554.0,1514.8 1554.6,1523.1 1555.3,1514.3 1555.9,1521.6 1556.6,1515.6 1557.2,1521.7 1557.9,1514.7 1558.5,1520.2 1559.1,1514.3 1559.8,1518.2 1560.4,1513.2 1561.1,1517.0 1561.7,1511.3 1562.4,1514.7 1563.0,1508.0 1563.7,1513.6 1564.3,1505.2 1565.0,1511.4 1565.6,1506.9 1566.2,1512.1 1566.9,1506.6 1567.5,1515.2 1568.2,1509.1 1568.8,1516.4 1569.5,1509.5 1570.1,1518.0 1570.8,1513.4 1571.4,1518.7 1572.0,1515.0 1572.7,1521.0 1573.3,1515.2 1574.0,1520.2 1574.6,1515.3 1575.3,1519.5 1575.9,1514.4 1576.6,1520.7 1577.2,1514.3 1577.9,1520.4 1578.5,1514.8 1579.1,1520.1 1579.8,1514.1 1580.4,1521.6 1581.1,1513.2 1581.7,1520.4 1582.4,1514.5 1583.0,1521.5 1583.7,1512.3 1584.3,1519.9 1585.0,1512.0 1585.6,1519.5 1586.2,1511.0 1586.9,1514.4 1587.5,1507.9 1588.2,1514.8 1588.8,1505.6 1589.5,1513.1 1590.1,1505.6 1590.8,1511.9 1591.4,1506.8 1592.0,1513.7 1592.7,1506.7 1593.3,1514.2 1594.0,1509.2 1594.6,1515.6 1595.3,1511.1 1595.9,1516.4 1596.6,1511.8 1597.2,1518.8 1597.9,1513.5 1598.5,1519.2 1599.1,1512.8 1599.8,1519.1 1600.4,1514.3 1601.1,1519.8 1601.7,1512.8 1602.4,1521.0 1603.0,1515.8 1603.7,1520.9 1604.3,1515.7 1604.9,1523.0 1605.6,1514.4 1606.2,1520.9 1606.9,1514.9 1607.5,1521.0 1608.2,1513.8 1608.8,1520.2 1609.5,1514.9 1610.1,1522.6 1610.8,1513.4 1611.4,1522.3 1612.0,1514.1 1612.7,1520.1 1613.3,1513.5 1614.0,1521.7 1614.6,1513.9 1615.3,1520.2 1615.9,1512.9 1616.6,1520.7 1617.2,1511.3 1617.9,1518.2 1618.5,1511.2 1619.1,1518.3 1619.8,1507.4 1620.4,1516.9 1621.1,1505.9 1621.7,1511.8 1622.4,1501.4 1623.0,1506.2 1623.7,1496.1 1624.3,1500.5 1624.9,1490.8 1625.6,1494.6 1626.2,1485.4 1626.9,1488.9 1627.5,1483.3 1628.2,1489.5 1628.8,1484.6 1629.5,1490.7 1630.1,1489.2 1630.8,1497.0 1631.4,1495.4 1632.0,1501.3 1632.7,1499.4 1633.3,1508.3 1634.0,1504.3 1634.6,1511.7 1635.3,1508.6 1635.9,1514.9 1636.6,1511.6 1637.2,1516.8 1637.9,1511.3 1638.5,1520.6 1639.1,1515.0 1639.8,1520.0 1640.4,1515.7 1641.1,1523.1 1641.7,1517.6 1642.4,1522.7 1643.0,1515.9 1643.7,1523.0 1644.3,1516.4 1644.9,1522.2 1645.6,1516.2 1646.2,1522.2 1646.9,1514.6 1647.5,1521.6 1648.2,1514.9 1648.8,1520.0 1649.5,1514.7 1650.1,1520.0 1650.8,1511.6 1651.4,1519.5 1652.0,1512.8 1652.7,1519.6 1653.3,1513.0 1654.0,1520.6 1654.6,1515.4 1655.3,1520.9 1655.9,1515.3 1656.6,1521.1 1657.2,1516.4 1657.9,1521.7 1658.5,1515.7 1659.1,1521.6 1659.8,1517.1 1660.4,1520.2 1661.1,1516.9 1661.7,1522.3 1662.4,1514.3 1663.0,1521.0 1663.7,1515.0 1664.3,1521.7 1664.9,1514.8 1665.6,1521.7 1666.2,1514.7 1666.9,1521.3 1667.5,1515.8 1668.2,1521.0 1668.8,1515.6 1669.5,1519.9 1670.1,1514.8 1670.8,1520.0 1671.4,1515.6 1672.0,1520.8 1672.7,1514.3 1673.3,1521.4 1674.0,1514.5 1674.6,1521.6 1675.3,1515.2 1675.9,1521.6 1676.6,1516.3 1677.2,1521.9 1677.8,1516.7 1678.5,1522.9 1679.1,1516.2 1679.8,1522.3 1680.4,1516.6 1681.1,1522.8 1681.7,1515.5 1682.4,1523.4 1683.0,1514.8 1683.7,1521.0 1684.3,1513.7 1684.9,1521.1 1685.6,1516.0 1686.2,1521.2 1686.9,1514.3 1687.5,1521.5 1688.2,1515.5 1688.8,1520.3 1689.5,1516.3 1690.1,1521.4 1690.8,1516.5 1691.4,1524.0 1692.0,1517.7 1692.7,1523.1 1693.3,1518.7 1694.0,1524.9 1694.6,1519.9 1695.3,1526.9 1695.9,1521.6 1696.6,1528.2 1697.2,1520.7 1697.8,1527.0 1698.5,1521.4 1699.1,1526.4 1699.8,1521.8 1700.4,1526.1 1701.1,1520.5 1701.7,1526.0 1702.4,1518.5 1703.0,1524.0 1703.7,1517.2 1704.3,1523.6 1704.9,1514.4 1705.6,1522.9 1706.2,1515.4 1706.9,1520.8 1707.5,1514.8 1708.2,1520.2 1708.8,1515.1 1709.5,1520.1 1710.1,1515.7 1710.8,1518.9 1711.4,1515.4 1712.0,1519.2 1712.7,1516.9 1713.3,1520.0 1714.0,1516.3 1714.6,1519.0 1715.3,1513.8 1715.9,1519.9 1716.6,1514.7 1717.2,1522.1 1717.8,1515.1 1718.5,1522.1 1719.1,1515.3 1719.8,1521.3 1720.4,1514.8 1721.1,1522.1 1721.7,1513.1 1722.4,1521.8 1723.0,1512.9 1723.7,1519.7 1724.3,1513.0 1724.9,1520.1 1725.6,1512.2 1726.2,1519.9 1726.9,1514.0 1727.5,1520.2 1728.2,1515.3 1728.8,1519.7 1729.5,1515.4 1730.1,1522.0 1730.8,1516.2 1731.4,1522.3 1732.0,1516.0 1732.7,1523.1 1733.3,1514.9 1734.0,1521.8 1734.6,1515.2 1735.3,1520.5 1735.9,1515.6 1736.6,1521.2 1737.2,1515.6 1737.8,1519.6 1738.5,1514.4 1739.1,1519.0 1739.8,1514.3 1740.4,1520.8 1741.1,1513.1 1741.7,1519.0 1742.4,1514.2 1743.0,1518.8 1743.7,1512.5 1744.3,1520.4 1744.9,1513.9 1745.6,1520.0 1746.2,1513.7 1746.9,1521.0 1747.5,1515.1 1748.2,1520.3 1748.8,1515.3 1749.5,1520.5 1750.1,1515.8 1750.7,1520.3 1751.4,1515.3 1752.0,1518.9 1752.7,1516.1 1753.3,1519.1 1754.0,1515.5 1754.6,1519.7 1755.3,1513.7 1755.9,1519.5 1756.6,1512.9 1757.2,1520.0 1757.8,1514.2 1758.5,1520.4 1759.1,1513.6 1759.8,1519.3 1760.4,1514.6 1761.1,1521.9 1761.7,1515.1 1762.4,1520.2 1763.0,1514.2 1763.7,1521.0 1764.3,1511.3 1764.9,1518.9 1765.6,1512.0 1766.2,1516.6 1766.9,1508.7 1767.5,1513.5 1768.2,1505.8 1768.8,1512.5 1769.5,1505.0 1770.1,1511.9 1770.7,1507.3 1771.4,1511.9 1772.0,1506.5 1772.7,1514.4 1773.3,1508.7 1774.0,1517.2 1774.6,1508.6 1775.3,1517.2 1775.9,1506.2 1776.6,1517.2 1777.2,1508.3 1777.8,1518.2 1778.5,1509.1 1779.1,1516.3 1779.8,1506.7 1780.4,1516.9 1781.1,1508.6 1781.7,1516.0 1782.4,1509.2 1783.0,1516.0 1783.7,1508.1 1784.3,1515.7 1784.9,1509.4 1785.6,1512.4 1786.2,1507.3 1786.9,1511.9 1787.5,1505.5 1788.2,1510.6 1788.8,1505.7 1789.5,1511.7 1790.1,1504.9 1790.7,1511.0 1791.4,1504.8 1792.0,1510.1 1792.7,1502.5 1793.3,1509.0 1794.0,1501.1 1794.6,1506.1 1795.3,1500.3 1795.9,1505.7 1796.6,1496.7 1797.2,1504.0 1797.8,1494.0 1798.5,1501.0 1799.1,1493.0 1799.8,1497.3 1800.4,1489.0 1801.1,1495.3 1801.7,1486.9 1802.4,1494.0 1803.0,1487.5 1803.7,1493.5 1804.3,1487.5 1804.9,1494.4 1805.6,1488.1 1806.2,1496.2 1806.9,1489.5 1807.5,1498.0 1808.2,1493.8 1808.8,1502.0 1809.5,1496.4 1810.1,1504.5 1810.7,1499.5 1811.4,1506.1 1812.0,1501.3 1812.7,1506.5 1813.3,1504.2 1814.0,1509.9 1814.6,1504.3 1815.3,1510.8 1815.9,1506.3 1816.6,1509.9 1817.2,1506.4 1817.8,1511.9 1818.5,1505.9 1819.1,1513.0 1819.8,1507.4 1820.4,1513.4 1821.1,1505.7 1821.7,1513.3 1822.4,1507.6 1823.0,1514.4 1823.6,1507.8 1824.3,1514.2 1824.9,1507.9 1825.6,1514.3 1826.2,1509.4 1826.9,1515.2 1827.5,1508.7 1828.2,1516.5 1828.8,1508.6 1829.5,1517.7 1830.1,1511.9 1830.7,1518.4 1831.4,1511.3 1832.0,1519.7 1832.7,1512.2 1833.3,1521.8 1834.0,1513.0 1834.6,1521.3 1835.3,1514.1 1835.9,1521.1 1836.6,1515.3 1837.2,1519.8 1837.8,1515.6 1838.5,1521.6 1839.1,1516.4 1839.8,1520.3 1840.4,1514.6 1841.1,1520.9 1841.7,1514.6 1842.4,1520.2 1843.0,1513.3 1843.6,1521.4 1844.3,1514.9 1844.9,1520.4 1845.6,1513.1 1846.2,1520.0 1846.9,1513.2 1847.5,1521.4 1848.2,1515.0 1848.8,1521.7 1849.5,1514.9 1850.1,1521.3 1850.7,1515.3 1851.4,1521.9 1852.0,1515.8 1852.7,1520.5 1853.3,1514.9 1854.0,1521.4 1854.6,1513.4 1855.3,1522.9 1855.9,1513.6 1856.6,1522.6 1857.2,1513.2 1857.8,1523.7 1858.5,1514.4 1859.1,1522.5 1859.8,1515.2 1860.4,1524.4 1861.1,1514.2 1861.7,1523.1 1862.4,1514.5 1863.0,1525.1 1863.6,1514.0 1864.3,1523.7 1864.9,1516.7 1865.6,1522.1 1866.2,1515.4 1866.9,1521.7 1867.5,1516.2 1868.2,1521.7 1868.8,1515.2 1869.5,1523.0 1870.1,1513.2 1870.7,1521.8 1871.4,1512.1 1872.0,1520.7 1872.7,1512.1 1873.3,1518.3 1874.0,1511.1 1874.6,1519.3 1875.3,1511.9 1875.9,1517.4 1876.6,1511.1 1877.2,1516.5 1877.8,1511.2 1878.5,1518.4 1879.1,1512.6 1879.8,1517.8 1880.4,1509.9 1881.1,1516.1 1881.7,1511.3 1882.4,1518.0 1883.0,1511.3 1883.6,1517.7 1884.3,1512.2 1884.9,1517.1 1885.6,1511.2 1886.2,1518.1 1886.9,1511.3 1887.5,1519.7 1888.2,1511.8 1888.8,1517.4 1889.5,1510.5 1890.1,1518.9 1890.7,1511.9 1891.4,1518.3 1892.0,1510.5 1892.7,1518.6 1893.3,1510.9 1894.0,1515.9 1894.6,1510.1 1895.3,1517.0 1895.9,1510.5 1896.5,1515.9 1897.2,1508.7 1897.8,1514.4 1898.5,1509.0 1899.1,1515.5 1899.8,1506.3 1900.4,1514.4 1901.1,1505.6 1901.7,1515.8 1902.4,1505.0 1903.0,1513.0 1903.6,1504.2 1904.3,1511.9 1904.9,1501.8 1905.6,1511.3 1906.2,1502.4 1906.9,1513.5 1907.5,1500.4 1908.2,1512.1 1908.8,1503.0 1909.5,1512.7 1910.1,1499.3 1910.7,1512.2 1911.4,1500.4 1912.0,1511.7 1912.7,1500.1 1913.3,1514.7 1914.0,1502.5 1914.6,1514.8 1915.3,1503.9 1915.9,1512.5 1916.5,1504.5 1917.2,1512.6 1917.8,1505.3 1918.5,1511.4 1919.1,1506.1 1919.8,1512.9 1920.4,1507.2 1921.1,1517.0 1921.7,1508.0 1922.4,1515.2 1923.0,1507.1 M1956.6,1495.3 1957.2,1503.4 1957.9,1496.2 1958.5,1505.2 1959.2,1494.8 1959.8,1506.6 1960.5,1498.0 1961.1,1505.9 1961.8,1494.4 1962.4,1508.6 1963.1,1499.6 1963.7,1509.4 1964.3,1503.4 1965.0,1510.3 1965.6,1500.9 1966.3,1512.5 1966.9,1504.0 1967.6,1513.5 1968.2,1505.3 1968.9,1514.1 1969.5,1505.2 1970.2,1513.4 1970.8,1504.8 1971.4,1513.6 1972.1,1503.4 1972.7,1514.5 1973.4,1502.9 1974.0,1514.3 1974.7,1503.0 1975.3,1513.3 1976.0,1502.7 1976.6,1512.8 1977.2,1505.8 1977.9,1511.7 1978.5,1505.2 1979.2,1512.7 1979.8,1508.0 1980.5,1514.2 1981.1,1510.1 1981.8,1513.2 1982.4,1509.8 1983.1,1515.5 1983.7,1509.1 1984.3,1514.2 1985.0,1509.3 1985.6,1515.9 1986.3,1507.5 1986.9,1516.9 1987.6,1510.7 1988.2,1516.8 1988.9,1510.4 1989.5,1516.1 1990.2,1510.8 1990.8,1516.7 1991.4,1511.4 1992.1,1518.3 1992.7,1512.1 1993.4,1518.0 1994.0,1513.2 1994.7,1520.9 1995.3,1513.9 1996.0,1521.8 1996.6,1514.3 1997.3,1523.4 1997.9,1516.4 1998.5,1524.6 1999.2,1518.1 1999.8,1524.4 2000.5,1518.8 2001.1,1525.4 2001.8,1520.1 2002.4,1526.1 2003.1,1519.2 2003.7,1527.4 2004.3,1520.6 2005.0,1528.3 2005.6,1520.4 2006.3,1524.6 2006.9,1519.6 2007.6,1525.7 2008.2,1517.7 2008.9,1525.1 2009.5,1517.2 2010.2,1524.4 2010.8,1516.8 2011.4,1526.0 2012.1,1514.6 2012.7,1523.7 2013.4,1516.3 2014.0,1521.3 2014.7,1514.1 2015.3,1521.4 2016.0,1514.9 2016.6,1522.2 2017.3,1514.9 2017.9,1521.1 2018.5,1515.3 2019.2,1520.8 2019.8,1516.4 2020.5,1521.1 2021.1,1517.6 2021.8,1522.2 2022.4,1515.4 2023.1,1522.4 2023.7,1516.3 2024.4,1523.5 2025.0,1516.7 2025.6,1525.3 2026.3,1518.2 2026.9,1525.7 2027.6,1517.7 2028.2,1525.1 2028.9,1519.1 2029.5,1526.1 2030.2,1519.8 2030.8,1527.6 2031.4,1520.4 2032.1,1527.2 2032.7,1520.1 2033.4,1527.2 2034.0,1519.8 2034.7,1525.9 2035.3,1517.9 2036.0,1526.8 2036.6,1519.1 2037.3,1524.5 2037.9,1517.8 2038.5,1526.3 2039.2,1518.6 2039.8,1524.8 2040.5,1518.1 2041.1,1524.6 2041.8,1517.6 2042.4,1524.9 2043.1,1517.1 2043.7,1523.6 2044.4,1518.7 2045.0,1523.9 2045.6,1517.0 2046.3,1523.2 2046.9,1516.3 2047.6,1523.2 2048.2,1517.6 2048.9,1522.7 2049.5,1518.6 2050.2,1522.8 2050.8,1518.1 2051.5,1524.0 2052.1,1518.6 2052.7,1526.0 2053.4,1518.4 2054.0,1526.7 2054.7,1520.6 2055.3,1526.0 2056.0,1522.1 2056.6,1527.5 2057.3,1522.6 2057.9,1527.3 2058.5,1521.0 2059.2,1527.5 2059.8,1521.4 2060.5,1527.5 2061.1,1521.7 2061.8,1527.3 2062.4,1520.8 2063.1,1526.2 2063.7,1522.7 2064.4,1527.3 2065.0,1520.1 2065.6,1526.8 2066.3,1519.9 2066.9,1526.0 2067.6,1521.9 2068.2,1526.0 2068.9,1519.7 2069.5,1525.0 2070.2,1520.2 2070.8,1524.8 2071.5,1519.9 2072.1,1525.8 2072.7,1520.5 2073.4,1525.8 2074.0,1521.0 2074.7,1525.4 2075.3,1519.6 2076.0,1524.7 2076.6,1520.4 2077.3,1525.1 2077.9,1518.5 2078.6,1523.9 2079.2,1520.8 2079.8,1523.7 2080.5,1518.3 2081.1,1523.3 2081.8,1518.4 2082.4,1523.4 2083.1,1517.2 2083.7,1523.8 2084.4,1518.0 2085.0,1522.4 2085.6,1518.2 2086.3,1521.5 2086.9,1518.6 2087.6,1523.4 2088.2,1516.4 2088.9,1522.6 2089.5,1517.3 2090.2,1523.6 2090.8,1516.8 2091.5,1522.8 2092.1,1517.2 2092.7,1523.8 2093.4,1518.4 2094.0,1524.7 2094.7,1518.2 2095.3,1525.9 2096.0,1518.9 2096.6,1523.1 2097.3,1520.3 2097.9,1527.0 2098.6,1520.4 2099.2,1525.5 2099.8,1520.3 2100.5,1525.1 2101.1,1518.7 2101.8,1523.4 2102.4,1519.4 2103.1,1525.0 2103.7,1519.0 2104.4,1525.1 2105.0,1519.7 2105.7,1524.7 2106.3,1520.3 2106.9,1525.1 2107.6,1521.1 2108.2,1524.9 2108.9,1520.5 2109.5,1525.4 2110.2,1519.5 2110.8,1526.5 2111.5,1519.4 2112.1,1525.5 2112.7,1518.8 2113.4,1524.7 2114.0,1518.3 2114.7,1523.5 2115.3,1514.1 2116.0,1519.5 2116.6,1509.3 2117.3,1511.2 2117.9,1495.4 2118.6,1494.0 2119.2,1478.5 2119.8,1476.8 2120.5,1464.7 2121.1,1467.7 2121.8,1465.6 2122.4,1480.7 2123.1,1480.4 2123.7,1493.7 2124.4,1493.8 2125.0,1499.6 2125.7,1496.5 2126.3,1498.9 2126.9,1494.0 2127.6,1498.9 2128.2,1495.4 2128.9,1501.8 2129.5,1500.9 2130.2,1509.2 2130.8,1508.2 2131.5,1515.1 2132.1,1514.0 2132.8,1518.5 2133.4,1515.5 2134.0,1520.5 2134.7,1517.0 2135.3,1521.7 2136.0,1516.3 2136.6,1519.4 2137.3,1515.2 2137.9,1520.7 2138.6,1515.0 2139.2,1521.0 2139.8,1514.4 2140.5,1520.8 2141.1,1515.2 2141.8,1521.9 2142.4,1514.7 2143.1,1522.8 2143.7,1516.6 2144.4,1524.8 2145.0,1517.9 2145.7,1524.7 2146.3,1516.8 2146.9,1525.6 2147.6,1517.7 2148.2,1528.5 2148.9,1517.6 2149.5,1525.4 2150.2,1517.7 2150.8,1526.4 2151.5,1519.1 2152.1,1525.7 2152.8,1519.1 2153.4,1525.8" fill="none" stroke="#000000" stroke-width="6.5" stroke-linejoin="round" stroke-linecap="butt"/>
<text x="252.1" y="1712.4" font-size="103.0" fill="#000" text-anchor="middle" font-family="'Liberation Serif', 'DejaVu Serif', serif" font-weight="bold" >10</text>
<text x="570.7" y="1712.4" font-size="103.0" fill="#000" text-anchor="middle" font-family="'Liberation Serif', 'DejaVu Serif', serif" font-weight="bold" >20</text>
<text x="890.0" y="1712.4" font-size="103.0" fill="#000" text-anchor="middle" font-family="'Liberation Serif', 'DejaVu Serif', serif" font-weight="bold" >30</text>
<text x="1200.7" y="1712.4" font-size="103.0" fill="#000" text-anchor="middle" font-family="'Liberation Serif', 'DejaVu Serif', serif" font-weight="bold" >40</text>
<text x="1521.3" y="1712.4" font-size="103.0" fill="#000" text-anchor="middle" font-family="'Liberation Serif', 'DejaVu Serif', serif" font-weight="bold" >50</text>
<text x="1843.5" y="1712.4" font-size="103.0" fill="#000" text-anchor="middle" font-family="'Liberation Serif', 'DejaVu Serif', serif" font-weight="bold" >60</text>
<text x="2152.0" y="1712.4" font-size="103.0" fill="#000" text-anchor="middle" font-family="'Liberation Serif', 'DejaVu Serif', serif" font-weight="bold" >70</text>
<text x="1197.8" y="1891.3" font-size="130.0" fill="#000" text-anchor="middle" font-family="'Liberation Serif', 'DejaVu Serif', serif" font-weight="bold" >2θ [deg.]</text>
<text transform="translate(120.5 796.5) rotate(-90)" font-size="130" text-anchor="middle" fill="#000" font-family="'Liberation Serif', 'DejaVu Serif', serif" font-weight="bold">Intensity [a.u.]</text>
<text transform="translate(315.0 137.5) scale(1.020 1.000)" x="0" y="28.9" font-size="79.3" text-anchor="middle" fill="#000" font-family="'DejaVu Sans', sans-serif">♦</text>
<text x="353.0" y="165.2" font-size="100.0" fill="#000" text-anchor="start" font-family="'Liberation Serif', 'DejaVu Serif', serif" font-weight="bold" >HA</text>
<text transform="translate(602.5 133.6) scale(1.000 1.000)" x="0" y="24.5" font-size="87.0" text-anchor="middle" fill="#000" font-family="'Liberation Serif', 'DejaVu Serif', serif" font-weight="bold">●</text>
<text x="628.1" y="165.2" font-size="100.0" fill="#000" text-anchor="start" font-family="'Liberation Serif', 'DejaVu Serif', serif" font-weight="bold" >Magnesium</text>
<text transform="translate(1221.3 136.2) scale(1.150 1.000)" x="0" y="28.0" font-size="76.9" text-anchor="middle" fill="#000" font-family="'DejaVu Sans', sans-serif">♣</text>
<text x="1260.1" y="165.2" font-size="100" fill="#000" font-family="'Liberation Serif', 'DejaVu Serif', serif" font-weight="bold">Mg(OH)<tspan dx="2.8" dy="28.2" font-size="69">2</tspan></text>
<text x="261.3" y="690.3" font-size="93.5" fill="#BC74FF" text-anchor="start" font-family="'Liberation Serif', 'DejaVu Serif', serif" font-weight="bold" >CM20/HA</text>
<text x="261.3" y="898.6" font-size="93.5" fill="#0DA2FF" text-anchor="start" font-family="'Liberation Serif', 'DejaVu Serif', serif" font-weight="bold" >CM10/HA</text>
<text x="260.7" y="1107.8" font-size="93.5" fill="#9AE42C" text-anchor="start" font-family="'Liberation Serif', 'DejaVu Serif', serif" font-weight="bold" >CM5/HA</text>
<text x="264.5" y="1316.9" font-size="93.5" fill="#E8DC30" text-anchor="start" font-family="'Liberation Serif', 'DejaVu Serif', serif" font-weight="bold" >MA/HA</text>
<text x="269.5" y="1555.4" font-size="93.5" fill="#000" text-anchor="start" font-family="'Liberation Serif', 'DejaVu Serif', serif" font-weight="bold" >HA</text>
<text transform="translate(316.2 469.8) rotate(-90)" font-size="79.5" fill="#000" font-family="'Liberation Serif', 'DejaVu Serif', serif" font-weight="bold">(100)</text>
<text transform="translate(642.2 546.2) rotate(-90)" font-size="79.5" fill="#000" font-family="'Liberation Serif', 'DejaVu Serif', serif" font-weight="bold">(200)</text>
<text transform="translate(710.5 542.7) rotate(-90)" font-size="79.5" fill="#000" font-family="'Liberation Serif', 'DejaVu Serif', serif" font-weight="bold">(111)</text>
<text transform="translate(782.5 363.1) rotate(-90)" font-size="79.5" fill="#000" font-family="'Liberation Serif', 'DejaVu Serif', serif" font-weight="bold">(002)</text>
<text transform="translate(826.9 533.1) rotate(-90)" font-size="79.5" fill="#000" font-family="'Liberation Serif', 'DejaVu Serif', serif" font-weight="bold">(102)</text>
<text transform="translate(897.8 531.4) rotate(-90)" font-size="79.5" fill="#000" font-family="'Liberation Serif', 'DejaVu Serif', serif" font-weight="bold">(210)</text>
<text transform="translate(953.5 399.0) rotate(-90)" font-size="79.5" fill="#000" font-family="'Liberation Serif', 'DejaVu Serif', serif" font-weight="bold">(211)</text>
<text transform="translate(1018.3 338.6) rotate(-90)" font-size="79.5" fill="#000" font-family="'Liberation Serif', 'DejaVu Serif', serif" font-weight="bold">(112)</text>
<text transform="translate(1051.6 506.9) rotate(-90)" font-size="79.5" fill="#000" font-family="'Liberation Serif', 'DejaVu Serif', serif" font-weight="bold">(300)</text>
<text transform="translate(1223.2 529.7) rotate(-90)" font-size="79.5" fill="#000" font-family="'Liberation Serif', 'DejaVu Serif', serif" font-weight="bold">(130)</text>
<text transform="translate(1439.6 517.1) rotate(-90)" font-size="79.5" fill="#000" font-family="'Liberation Serif', 'DejaVu Serif', serif" font-weight="bold">(222)</text>
<text transform="translate(1489.6 362.0) rotate(-90)" font-size="79.5" fill="#000" font-family="'Liberation Serif', 'DejaVu Serif', serif" font-weight="bold">(132)</text>
<text transform="translate(1536.6 514.1) rotate(-90)" font-size="79.5" fill="#000" font-family="'Liberation Serif', 'DejaVu Serif', serif" font-weight="bold">(213)</text>
<text transform="translate(1654.4 535.3) rotate(-90)" font-size="79.5" fill="#000" font-family="'Liberation Serif', 'DejaVu Serif', serif" font-weight="bold">(004)</text>
<text transform="translate(278.8 495.8) scale(1.015 1.000)" x="0" y="22.4" font-size="61.4" text-anchor="middle" fill="#000" font-family="'DejaVu Sans', sans-serif">♦</text>
<text transform="translate(628.7 568.5) scale(1.015 1.000)" x="0" y="22.4" font-size="61.4" text-anchor="middle" fill="#000" font-family="'DejaVu Sans', sans-serif">♦</text>
<text transform="translate(665.3 562.9) scale(1.015 1.000)" x="0" y="22.4" font-size="61.4" text-anchor="middle" fill="#000" font-family="'DejaVu Sans', sans-serif">♦</text>
<text transform="translate(760.4 387.4) scale(1.015 1.000)" x="0" y="22.4" font-size="61.4" text-anchor="middle" fill="#000" font-family="'DejaVu Sans', sans-serif">♦</text>
<text transform="translate(831.3 557.6) scale(1.015 1.000)" x="0" y="22.4" font-size="61.4" text-anchor="middle" fill="#000" font-family="'DejaVu Sans', sans-serif">♦</text>
<text transform="translate(863.1 558.5) scale(1.015 1.000)" x="0" y="22.4" font-size="61.4" text-anchor="middle" fill="#000" font-family="'DejaVu Sans', sans-serif">♦</text>
<text transform="translate(949.7 442.8) scale(1.015 1.000)" x="0" y="22.4" font-size="61.4" text-anchor="middle" fill="#000" font-family="'DejaVu Sans', sans-serif">♦</text>
<text transform="translate(967.0 417.4) scale(1.015 1.000)" x="0" y="22.4" font-size="61.4" text-anchor="middle" fill="#000" font-family="'DejaVu Sans', sans-serif">♦</text>
<text transform="translate(984.7 474.6) scale(1.015 1.000)" x="0" y="22.4" font-size="61.4" text-anchor="middle" fill="#000" font-family="'DejaVu Sans', sans-serif">♦</text>
<text transform="translate(1174.2 579.2) scale(1.015 1.000)" x="0" y="22.4" font-size="61.4" text-anchor="middle" fill="#000" font-family="'DejaVu Sans', sans-serif">♦</text>
<text transform="translate(1198.0 552.9) scale(1.015 1.000)" x="0" y="22.4" font-size="61.4" text-anchor="middle" fill="#000" font-family="'DejaVu Sans', sans-serif">♦</text>
<text transform="translate(1268.6 581.7) scale(1.015 1.000)" x="0" y="22.4" font-size="61.4" text-anchor="middle" fill="#000" font-family="'DejaVu Sans', sans-serif">♦</text>
<text transform="translate(1328.7 583.5) scale(1.015 1.000)" x="0" y="22.4" font-size="61.4" text-anchor="middle" fill="#000" font-family="'DejaVu Sans', sans-serif">♦</text>
<text transform="translate(1372.2 581.7) scale(1.015 1.000)" x="0" y="22.4" font-size="61.4" text-anchor="middle" fill="#000" font-family="'DejaVu Sans', sans-serif">♦</text>
<text transform="translate(1419.6 547.8) scale(1.015 1.000)" x="0" y="22.4" font-size="61.4" text-anchor="middle" fill="#000" font-family="'DejaVu Sans', sans-serif">♦</text>
<text transform="translate(1458.6 411.9) scale(1.015 1.000)" x="0" y="22.4" font-size="61.4" text-anchor="middle" fill="#000" font-family="'DejaVu Sans', sans-serif">♦</text>
<text transform="translate(1505.4 537.1) scale(1.015 1.000)" x="0" y="22.4" font-size="61.4" text-anchor="middle" fill="#000" font-family="'DejaVu Sans', sans-serif">♦</text>
<text transform="translate(1539.7 573.9) scale(1.015 1.000)" x="0" y="22.4" font-size="61.4" text-anchor="middle" fill="#000" font-family="'DejaVu Sans', sans-serif">♦</text>
<text transform="translate(1565.3 579.0) scale(1.015 1.000)" x="0" y="22.4" font-size="61.4" text-anchor="middle" fill="#000" font-family="'DejaVu Sans', sans-serif">♦</text>
<text transform="translate(1589.8 575.3) scale(1.015 1.000)" x="0" y="22.4" font-size="61.4" text-anchor="middle" fill="#000" font-family="'DejaVu Sans', sans-serif">♦</text>
<text transform="translate(1628.6 560.6) scale(1.015 1.000)" x="0" y="22.4" font-size="61.4" text-anchor="middle" fill="#000" font-family="'DejaVu Sans', sans-serif">♦</text>
<text transform="translate(1140.7 552.1) scale(1.075 1.000)" x="0" y="22.7" font-size="62.4" text-anchor="middle" fill="#000" font-family="'DejaVu Sans', sans-serif">♣</text>
<text transform="translate(1767.4 569.5) scale(1.075 1.000)" x="0" y="22.7" font-size="62.4" text-anchor="middle" fill="#000" font-family="'DejaVu Sans', sans-serif">♣</text>
<text transform="translate(1808.6 560.3) scale(1.075 1.000)" x="0" y="22.7" font-size="62.4" text-anchor="middle" fill="#000" font-family="'DejaVu Sans', sans-serif">♣</text>
<text transform="translate(2123.2 534.7) scale(1.075 1.000)" x="0" y="22.7" font-size="62.4" text-anchor="middle" fill="#000" font-family="'DejaVu Sans', sans-serif">♣</text>
<text transform="translate(1100.3 389.4) scale(1.000 1.000)" x="0" y="18.6" font-size="66.0" text-anchor="middle" fill="#000" font-family="'Liberation Serif', 'DejaVu Serif', serif" font-weight="bold">●</text>
</svg>
</body>
</html>
